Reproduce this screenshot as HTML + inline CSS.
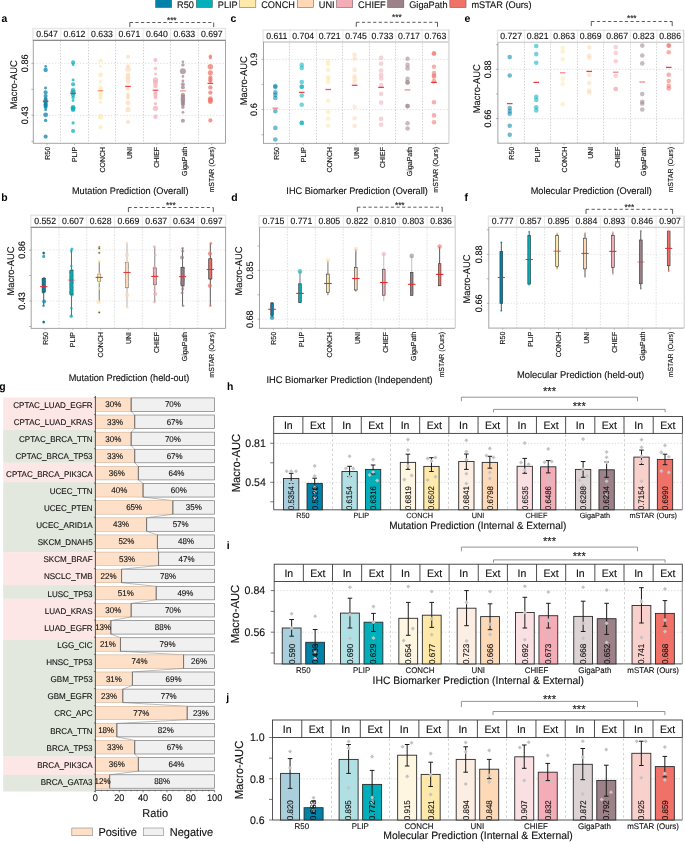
<!DOCTYPE html>
<html><head><meta charset="utf-8"><title>Figure</title>
<style>
html,body{margin:0;padding:0;background:#fff;}
body{width:685px;height:842px;overflow:hidden;}
svg{display:block;font-family:"Liberation Sans", sans-serif;will-change:transform;text-rendering:geometricPrecision;}
</style></head>
<body><svg width="685" height="842" viewBox="0 0 685 842">
<rect x="0" y="0" width="685" height="842" fill="#fff"/>
<rect x="155.55" y="-3" width="16.2" height="10.6" fill="#0081A7" stroke="#555" stroke-width="0.5"/>
<text transform="translate(177.1 8.1) scale(0.9615 1)" font-size="9.57" text-anchor="start" fill="#111" stroke="#111" stroke-width="0.12">R50</text>
<rect x="196.25" y="-3" width="16.2" height="10.6" fill="#00AFB9" stroke="#555" stroke-width="0.5"/>
<text transform="translate(217.8 8.1) scale(0.9615 1)" font-size="9.57" text-anchor="start" fill="#111" stroke="#111" stroke-width="0.12">PLIP</text>
<rect x="239.65" y="-3" width="16.2" height="10.6" fill="#FEE9AA" stroke="#555" stroke-width="0.5"/>
<text transform="translate(261.2 8.1) scale(0.9615 1)" font-size="9.57" text-anchor="start" fill="#111" stroke="#111" stroke-width="0.12">CONCH</text>
<rect x="297.25" y="-3" width="16.2" height="10.6" fill="#FED9B7" stroke="#555" stroke-width="0.5"/>
<text transform="translate(318.8 8.1) scale(0.9615 1)" font-size="9.57" text-anchor="start" fill="#111" stroke="#111" stroke-width="0.12">UNI</text>
<rect x="336.55" y="-3" width="16.2" height="10.6" fill="#F4ACB7" stroke="#555" stroke-width="0.5"/>
<text transform="translate(358.1 8.1) scale(0.9615 1)" font-size="9.57" text-anchor="start" fill="#111" stroke="#111" stroke-width="0.12">CHIEF</text>
<rect x="387.65" y="-3" width="16.2" height="10.6" fill="#9D8189" stroke="#555" stroke-width="0.5"/>
<text transform="translate(409.2 8.1) scale(0.9615 1)" font-size="9.57" text-anchor="start" fill="#111" stroke="#111" stroke-width="0.12">GigaPath</text>
<rect x="449.85" y="-3" width="16.2" height="10.6" fill="#F07167" stroke="#555" stroke-width="0.5"/>
<text transform="translate(471.4 8.1) scale(0.9615 1)" font-size="9.57" text-anchor="start" fill="#111" stroke="#111" stroke-width="0.12">mSTAR (Ours)</text>
<text transform="translate(1.4 21.9) scale(0.9615 1)" font-size="10.82" text-anchor="start" fill="#000" font-weight="bold">a</text>
<text transform="translate(230.4 21.9) scale(0.9615 1)" font-size="10.82" text-anchor="start" fill="#000" font-weight="bold">c</text>
<text transform="translate(464.5 21.9) scale(0.9615 1)" font-size="10.82" text-anchor="start" fill="#000" font-weight="bold">e</text>
<text transform="translate(1.2 201.4) scale(0.9615 1)" font-size="10.82" text-anchor="start" fill="#000" font-weight="bold">b</text>
<text transform="translate(231.2 201.4) scale(0.9615 1)" font-size="10.82" text-anchor="start" fill="#000" font-weight="bold">d</text>
<text transform="translate(464.6 201.4) scale(0.9615 1)" font-size="10.82" text-anchor="start" fill="#000" font-weight="bold">f</text>
<text transform="translate(-0.8 389.5) scale(0.9615 1)" font-size="10.82" text-anchor="start" fill="#000" font-weight="bold">g</text>
<text transform="translate(226.9 389.6) scale(0.9615 1)" font-size="10.82" text-anchor="start" fill="#000" font-weight="bold">h</text>
<text transform="translate(226.7 548.9) scale(0.9615 1)" font-size="10.82" text-anchor="start" fill="#000" font-weight="bold">i</text>
<text transform="translate(226.3 700.8) scale(0.9615 1)" font-size="10.82" text-anchor="start" fill="#000" font-weight="bold">j</text>
<rect x="32.9" y="28.5" width="192.6" height="11.8" fill="#fff" stroke="#e6e6e6" stroke-width="1.4"/>
<line x1="60.76" y1="27.8" x2="60.76" y2="40.3" stroke="#e0e0e0" stroke-width="0.7"/>
<line x1="88.21" y1="27.8" x2="88.21" y2="40.3" stroke="#e0e0e0" stroke-width="0.7"/>
<line x1="115.67" y1="27.8" x2="115.67" y2="40.3" stroke="#e0e0e0" stroke-width="0.7"/>
<line x1="143.13" y1="27.8" x2="143.13" y2="40.3" stroke="#e0e0e0" stroke-width="0.7"/>
<line x1="170.59" y1="27.8" x2="170.59" y2="40.3" stroke="#e0e0e0" stroke-width="0.7"/>
<line x1="198.04" y1="27.8" x2="198.04" y2="40.3" stroke="#e0e0e0" stroke-width="0.7"/>
<text transform="translate(47.03 37) scale(0.9615 1)" font-size="9.05" text-anchor="middle" fill="#111" stroke="#111" stroke-width="0.12">0.547</text>
<text transform="translate(74.49 37) scale(0.9615 1)" font-size="9.05" text-anchor="middle" fill="#111" stroke="#111" stroke-width="0.12">0.612</text>
<text transform="translate(101.94 37) scale(0.9615 1)" font-size="9.05" text-anchor="middle" fill="#111" stroke="#111" stroke-width="0.12">0.633</text>
<text transform="translate(129.4 37) scale(0.9615 1)" font-size="9.05" text-anchor="middle" fill="#111" stroke="#111" stroke-width="0.12">0.671</text>
<text transform="translate(156.86 37) scale(0.9615 1)" font-size="9.05" text-anchor="middle" fill="#111" stroke="#111" stroke-width="0.12">0.640</text>
<text transform="translate(184.31 37) scale(0.9615 1)" font-size="9.05" text-anchor="middle" fill="#111" stroke="#111" stroke-width="0.12">0.633</text>
<text transform="translate(211.77 37) scale(0.9615 1)" font-size="9.05" text-anchor="middle" fill="#111" stroke="#111" stroke-width="0.12">0.697</text>
<line x1="60.5" y1="41.3" x2="60.5" y2="143.3" stroke="#c6c6c6" stroke-width="0.8" stroke-dasharray="1.4,1.5"/>
<line x1="88.5" y1="41.3" x2="88.5" y2="143.3" stroke="#c6c6c6" stroke-width="0.8" stroke-dasharray="1.4,1.5"/>
<line x1="115.5" y1="41.3" x2="115.5" y2="143.3" stroke="#c6c6c6" stroke-width="0.8" stroke-dasharray="1.4,1.5"/>
<line x1="143.5" y1="41.3" x2="143.5" y2="143.3" stroke="#c6c6c6" stroke-width="0.8" stroke-dasharray="1.4,1.5"/>
<line x1="170.5" y1="41.3" x2="170.5" y2="143.3" stroke="#c6c6c6" stroke-width="0.8" stroke-dasharray="1.4,1.5"/>
<line x1="198.5" y1="41.3" x2="198.5" y2="143.3" stroke="#c6c6c6" stroke-width="0.8" stroke-dasharray="1.4,1.5"/>
<line x1="33.3" y1="63.3" x2="225.5" y2="63.3" stroke="#d8d8d8" stroke-width="0.8" stroke-dasharray="1.4,1.7"/>
<line x1="33.3" y1="115.3" x2="225.5" y2="115.3" stroke="#d8d8d8" stroke-width="0.8" stroke-dasharray="1.4,1.7"/>
<line x1="225.5" y1="40.3" x2="225.5" y2="143.3" stroke="#9a9a9a" stroke-width="0.9"/>
<line x1="32.9" y1="40.3" x2="225.5" y2="40.3" stroke="#6e6e6e" stroke-width="0.95"/>
<line x1="33.3" y1="40.3" x2="33.3" y2="143.75" stroke="#9a9a9a" stroke-width="0.9"/>
<line x1="33.3" y1="143.3" x2="225.5" y2="143.3" stroke="#9a9a9a" stroke-width="0.9"/>
<line x1="31.3" y1="63.3" x2="33.3" y2="63.3" stroke="#888" stroke-width="0.6"/>
<line x1="31.3" y1="89.3" x2="33.3" y2="89.3" stroke="#888" stroke-width="0.6"/>
<line x1="31.3" y1="115.3" x2="33.3" y2="115.3" stroke="#888" stroke-width="0.6"/>
<line x1="31.3" y1="141.3" x2="33.3" y2="141.3" stroke="#888" stroke-width="0.6"/>
<text transform="translate(25.2 63.3) rotate(-90) scale(0.9615 1)" font-size="9.46" text-anchor="middle" fill="#111" stroke="#111" stroke-width="0.12" dominant-baseline="central">0.86</text>
<text transform="translate(25.2 115.3) rotate(-90) scale(0.9615 1)" font-size="9.46" text-anchor="middle" fill="#111" stroke="#111" stroke-width="0.12" dominant-baseline="central">0.43</text>
<text transform="translate(14.6 84.8) rotate(-90) scale(0.9615 1)" font-size="9.78" text-anchor="middle" fill="#111" stroke="#111" stroke-width="0.12" dominant-baseline="central">Macro-AUC</text>
<line x1="47.03" y1="143.3" x2="47.03" y2="145.1" stroke="#999" stroke-width="0.6"/>
<text transform="translate(49.63 146.9) rotate(-90) scale(0.9615 1)" font-size="7.28" text-anchor="end" fill="#111" stroke="#111" stroke-width="0.12">R50</text>
<line x1="74.49" y1="143.3" x2="74.49" y2="145.1" stroke="#999" stroke-width="0.6"/>
<text transform="translate(77.09 146.9) rotate(-90) scale(0.9615 1)" font-size="7.28" text-anchor="end" fill="#111" stroke="#111" stroke-width="0.12">PLIP</text>
<line x1="101.94" y1="143.3" x2="101.94" y2="145.1" stroke="#999" stroke-width="0.6"/>
<text transform="translate(104.54 146.9) rotate(-90) scale(0.9615 1)" font-size="7.28" text-anchor="end" fill="#111" stroke="#111" stroke-width="0.12">CONCH</text>
<line x1="129.4" y1="143.3" x2="129.4" y2="145.1" stroke="#999" stroke-width="0.6"/>
<text transform="translate(132 146.9) rotate(-90) scale(0.9615 1)" font-size="7.28" text-anchor="end" fill="#111" stroke="#111" stroke-width="0.12">UNI</text>
<line x1="156.86" y1="143.3" x2="156.86" y2="145.1" stroke="#999" stroke-width="0.6"/>
<text transform="translate(159.46 146.9) rotate(-90) scale(0.9615 1)" font-size="7.28" text-anchor="end" fill="#111" stroke="#111" stroke-width="0.12">CHIEF</text>
<line x1="184.31" y1="143.3" x2="184.31" y2="145.1" stroke="#999" stroke-width="0.6"/>
<text transform="translate(186.91 146.9) rotate(-90) scale(0.9615 1)" font-size="7.28" text-anchor="end" fill="#111" stroke="#111" stroke-width="0.12">GigaPath</text>
<line x1="211.77" y1="143.3" x2="211.77" y2="145.1" stroke="#999" stroke-width="0.6"/>
<text transform="translate(214.37 146.9) rotate(-90) scale(0.9615 1)" font-size="7.28" text-anchor="end" fill="#111" stroke="#111" stroke-width="0.12">mSTAR (Ours)</text>
<text transform="translate(130.2 194) scale(0.9615 1)" font-size="9.57" text-anchor="middle" fill="#111" stroke="#111" stroke-width="0.12">Mutation Prediction (Overall)</text>
<line x1="129.8" y1="22.5" x2="213.7" y2="22.5" stroke="#333" stroke-width="0.8" stroke-dasharray="3.2,2.4"/>
<line x1="129.8" y1="22.5" x2="129.8" y2="27.1" stroke="#333" stroke-width="0.8"/>
<line x1="213.7" y1="22.5" x2="213.7" y2="27.1" stroke="#333" stroke-width="0.8"/>
<text transform="translate(171.75 23.2) scale(0.9615 1)" font-size="8.53" text-anchor="middle" fill="#111" stroke="#111" stroke-width="0.12">***</text>
<circle cx="45.63" cy="66.4" r="1.38" fill="#0081A7" fill-opacity="0.72"/>
<circle cx="45.63" cy="69.9" r="2.18" fill="#0081A7" fill-opacity="0.72"/>
<circle cx="45.63" cy="88" r="1.49" fill="#0081A7" fill-opacity="0.72"/>
<circle cx="45.63" cy="92.4" r="2.07" fill="#0081A7" fill-opacity="0.72"/>
<circle cx="45.63" cy="96.1" r="2.07" fill="#0081A7" fill-opacity="0.72"/>
<circle cx="45.63" cy="98.6" r="1.72" fill="#0081A7" fill-opacity="0.72"/>
<circle cx="45.63" cy="100.5" r="2.3" fill="#0081A7" fill-opacity="0.72"/>
<circle cx="45.63" cy="102.5" r="2.18" fill="#0081A7" fill-opacity="0.72"/>
<circle cx="45.63" cy="104.2" r="1.95" fill="#0081A7" fill-opacity="0.72"/>
<circle cx="45.63" cy="105.8" r="2.18" fill="#0081A7" fill-opacity="0.72"/>
<circle cx="45.63" cy="107.3" r="1.72" fill="#0081A7" fill-opacity="0.72"/>
<circle cx="45.63" cy="109.8" r="1.49" fill="#0081A7" fill-opacity="0.72"/>
<circle cx="45.63" cy="114.8" r="2.42" fill="#0081A7" fill-opacity="0.72"/>
<circle cx="45.63" cy="120.4" r="1.72" fill="#0081A7" fill-opacity="0.72"/>
<circle cx="45.63" cy="136.6" r="2.07" fill="#0081A7" fill-opacity="0.72"/>
<circle cx="73.09" cy="62.4" r="2.07" fill="#00AFB9" fill-opacity="0.72"/>
<circle cx="73.09" cy="64.7" r="1.38" fill="#00AFB9" fill-opacity="0.72"/>
<circle cx="73.09" cy="80.1" r="1.49" fill="#00AFB9" fill-opacity="0.72"/>
<circle cx="73.09" cy="84.3" r="2.07" fill="#00AFB9" fill-opacity="0.72"/>
<circle cx="73.09" cy="90.5" r="2.42" fill="#00AFB9" fill-opacity="0.72"/>
<circle cx="73.09" cy="92.5" r="2.53" fill="#00AFB9" fill-opacity="0.72"/>
<circle cx="73.09" cy="94.9" r="2.07" fill="#00AFB9" fill-opacity="0.72"/>
<circle cx="73.09" cy="97.4" r="1.72" fill="#00AFB9" fill-opacity="0.72"/>
<circle cx="73.09" cy="100.5" r="1.38" fill="#00AFB9" fill-opacity="0.72"/>
<circle cx="73.09" cy="107.3" r="2.3" fill="#00AFB9" fill-opacity="0.72"/>
<circle cx="73.09" cy="108.5" r="2.42" fill="#00AFB9" fill-opacity="0.72"/>
<circle cx="73.09" cy="109.8" r="2.18" fill="#00AFB9" fill-opacity="0.72"/>
<circle cx="73.09" cy="122.9" r="1.61" fill="#00AFB9" fill-opacity="0.72"/>
<circle cx="73.09" cy="131" r="2.07" fill="#00AFB9" fill-opacity="0.72"/>
<circle cx="100.54" cy="60.6" r="1.95" fill="#FEE9AA" fill-opacity="0.72"/>
<circle cx="100.54" cy="66.2" r="1.38" fill="#FEE9AA" fill-opacity="0.72"/>
<circle cx="100.54" cy="74.9" r="2.42" fill="#FEE9AA" fill-opacity="0.72"/>
<circle cx="100.54" cy="81.8" r="1.49" fill="#FEE9AA" fill-opacity="0.72"/>
<circle cx="100.54" cy="88" r="2.3" fill="#FEE9AA" fill-opacity="0.72"/>
<circle cx="100.54" cy="90.5" r="2.07" fill="#FEE9AA" fill-opacity="0.72"/>
<circle cx="100.54" cy="93.6" r="2.18" fill="#FEE9AA" fill-opacity="0.72"/>
<circle cx="100.54" cy="96" r="2.07" fill="#FEE9AA" fill-opacity="0.72"/>
<circle cx="100.54" cy="98.5" r="1.84" fill="#FEE9AA" fill-opacity="0.72"/>
<circle cx="100.54" cy="102.3" r="1.61" fill="#FEE9AA" fill-opacity="0.72"/>
<circle cx="100.54" cy="116.7" r="2.64" fill="#FEE9AA" fill-opacity="0.72"/>
<circle cx="100.54" cy="127" r="1.95" fill="#FEE9AA" fill-opacity="0.72"/>
<circle cx="128" cy="56.8" r="1.95" fill="#FED9B7" fill-opacity="0.72"/>
<circle cx="128" cy="66.2" r="2.07" fill="#FED9B7" fill-opacity="0.72"/>
<circle cx="128" cy="69.2" r="2.76" fill="#FED9B7" fill-opacity="0.72"/>
<circle cx="128" cy="74.9" r="2.3" fill="#FED9B7" fill-opacity="0.72"/>
<circle cx="128" cy="77.4" r="2.42" fill="#FED9B7" fill-opacity="0.72"/>
<circle cx="128" cy="79.9" r="2.3" fill="#FED9B7" fill-opacity="0.72"/>
<circle cx="128" cy="83" r="1.72" fill="#FED9B7" fill-opacity="0.72"/>
<circle cx="128" cy="88.6" r="2.07" fill="#FED9B7" fill-opacity="0.72"/>
<circle cx="128" cy="94.2" r="1.84" fill="#FED9B7" fill-opacity="0.72"/>
<circle cx="128" cy="96.5" r="1.95" fill="#FED9B7" fill-opacity="0.72"/>
<circle cx="128" cy="98" r="1.72" fill="#FED9B7" fill-opacity="0.72"/>
<circle cx="128" cy="103" r="2.42" fill="#FED9B7" fill-opacity="0.72"/>
<circle cx="128" cy="109.6" r="2.64" fill="#FED9B7" fill-opacity="0.72"/>
<circle cx="128" cy="121.9" r="2.07" fill="#FED9B7" fill-opacity="0.72"/>
<circle cx="155.46" cy="60" r="2.07" fill="#F4ACB7" fill-opacity="0.72"/>
<circle cx="155.46" cy="68.4" r="1.72" fill="#F4ACB7" fill-opacity="0.72"/>
<circle cx="155.46" cy="73.9" r="1.38" fill="#F4ACB7" fill-opacity="0.72"/>
<circle cx="155.46" cy="79.9" r="2.64" fill="#F4ACB7" fill-opacity="0.72"/>
<circle cx="155.46" cy="82.5" r="2.53" fill="#F4ACB7" fill-opacity="0.72"/>
<circle cx="155.46" cy="86.1" r="2.42" fill="#F4ACB7" fill-opacity="0.72"/>
<circle cx="155.46" cy="92.4" r="2.07" fill="#F4ACB7" fill-opacity="0.72"/>
<circle cx="155.46" cy="94.8" r="2.18" fill="#F4ACB7" fill-opacity="0.72"/>
<circle cx="155.46" cy="97.4" r="1.95" fill="#F4ACB7" fill-opacity="0.72"/>
<circle cx="155.46" cy="103.6" r="1.61" fill="#F4ACB7" fill-opacity="0.72"/>
<circle cx="155.46" cy="108.3" r="2.64" fill="#F4ACB7" fill-opacity="0.72"/>
<circle cx="155.46" cy="116.7" r="2.18" fill="#F4ACB7" fill-opacity="0.72"/>
<circle cx="182.91" cy="61.8" r="1.38" fill="#9D8189" fill-opacity="0.72"/>
<circle cx="182.91" cy="64.9" r="1.72" fill="#9D8189" fill-opacity="0.72"/>
<circle cx="182.91" cy="71.2" r="2.99" fill="#9D8189" fill-opacity="0.72"/>
<circle cx="182.91" cy="76.4" r="1.38" fill="#9D8189" fill-opacity="0.72"/>
<circle cx="182.91" cy="80.9" r="1.38" fill="#9D8189" fill-opacity="0.72"/>
<circle cx="182.91" cy="84.3" r="1.95" fill="#9D8189" fill-opacity="0.72"/>
<circle cx="182.91" cy="87.4" r="1.95" fill="#9D8189" fill-opacity="0.72"/>
<circle cx="182.91" cy="94.9" r="2.18" fill="#9D8189" fill-opacity="0.72"/>
<circle cx="182.91" cy="97" r="2.3" fill="#9D8189" fill-opacity="0.72"/>
<circle cx="182.91" cy="99.5" r="2.42" fill="#9D8189" fill-opacity="0.72"/>
<circle cx="182.91" cy="101.5" r="2.18" fill="#9D8189" fill-opacity="0.72"/>
<circle cx="182.91" cy="103.5" r="2.07" fill="#9D8189" fill-opacity="0.72"/>
<circle cx="182.91" cy="104.8" r="1.84" fill="#9D8189" fill-opacity="0.72"/>
<circle cx="182.91" cy="107.3" r="1.61" fill="#9D8189" fill-opacity="0.72"/>
<circle cx="182.91" cy="112.3" r="1.38" fill="#9D8189" fill-opacity="0.72"/>
<circle cx="182.91" cy="120.8" r="2.07" fill="#9D8189" fill-opacity="0.72"/>
<circle cx="210.37" cy="56.2" r="1.72" fill="#F07167" fill-opacity="0.72"/>
<circle cx="210.37" cy="58.1" r="1.49" fill="#F07167" fill-opacity="0.72"/>
<circle cx="210.37" cy="66.8" r="2.76" fill="#F07167" fill-opacity="0.72"/>
<circle cx="210.37" cy="72.7" r="2.53" fill="#F07167" fill-opacity="0.72"/>
<circle cx="210.37" cy="77.4" r="2.07" fill="#F07167" fill-opacity="0.72"/>
<circle cx="210.37" cy="79.5" r="2.18" fill="#F07167" fill-opacity="0.72"/>
<circle cx="210.37" cy="81.1" r="1.95" fill="#F07167" fill-opacity="0.72"/>
<circle cx="210.37" cy="87.4" r="2.18" fill="#F07167" fill-opacity="0.72"/>
<circle cx="210.37" cy="92.6" r="2.18" fill="#F07167" fill-opacity="0.72"/>
<circle cx="210.37" cy="98.6" r="2.42" fill="#F07167" fill-opacity="0.72"/>
<circle cx="210.37" cy="100.3" r="2.53" fill="#F07167" fill-opacity="0.72"/>
<circle cx="210.37" cy="101.7" r="2.3" fill="#F07167" fill-opacity="0.72"/>
<circle cx="210.37" cy="120.4" r="2.07" fill="#F07167" fill-opacity="0.72"/>
<line x1="42.83" y1="101.3" x2="48.43" y2="101.3" stroke="#E8282B" stroke-width="1.3" stroke-opacity="0.85"/>
<line x1="70.29" y1="93.4" x2="75.89" y2="93.4" stroke="#E8282B" stroke-width="1.3" stroke-opacity="0.85"/>
<line x1="97.74" y1="90.7" x2="103.34" y2="90.7" stroke="#E8282B" stroke-width="1.3" stroke-opacity="0.45"/>
<line x1="125.2" y1="86.4" x2="130.8" y2="86.4" stroke="#E8282B" stroke-width="1.3" stroke-opacity="0.85"/>
<line x1="152.66" y1="90.2" x2="158.26" y2="90.2" stroke="#E8282B" stroke-width="1.3" stroke-opacity="0.8"/>
<line x1="180.11" y1="90.9" x2="185.71" y2="90.9" stroke="#E8282B" stroke-width="1.3" stroke-opacity="0.5"/>
<line x1="207.57" y1="83.4" x2="213.17" y2="83.4" stroke="#E8282B" stroke-width="1.3" stroke-opacity="0.85"/>
<rect x="263.1" y="30" width="185.5" height="12" fill="#fff" stroke="#e6e6e6" stroke-width="1.4"/>
<line x1="289.94" y1="29.3" x2="289.94" y2="42" stroke="#e0e0e0" stroke-width="0.7"/>
<line x1="316.39" y1="29.3" x2="316.39" y2="42" stroke="#e0e0e0" stroke-width="0.7"/>
<line x1="342.83" y1="29.3" x2="342.83" y2="42" stroke="#e0e0e0" stroke-width="0.7"/>
<line x1="369.27" y1="29.3" x2="369.27" y2="42" stroke="#e0e0e0" stroke-width="0.7"/>
<line x1="395.71" y1="29.3" x2="395.71" y2="42" stroke="#e0e0e0" stroke-width="0.7"/>
<line x1="422.16" y1="29.3" x2="422.16" y2="42" stroke="#e0e0e0" stroke-width="0.7"/>
<text transform="translate(276.72 38.7) scale(0.9615 1)" font-size="9.05" text-anchor="middle" fill="#111" stroke="#111" stroke-width="0.12">0.611</text>
<text transform="translate(303.16 38.7) scale(0.9615 1)" font-size="9.05" text-anchor="middle" fill="#111" stroke="#111" stroke-width="0.12">0.704</text>
<text transform="translate(329.61 38.7) scale(0.9615 1)" font-size="9.05" text-anchor="middle" fill="#111" stroke="#111" stroke-width="0.12">0.721</text>
<text transform="translate(356.05 38.7) scale(0.9615 1)" font-size="9.05" text-anchor="middle" fill="#111" stroke="#111" stroke-width="0.12">0.745</text>
<text transform="translate(382.49 38.7) scale(0.9615 1)" font-size="9.05" text-anchor="middle" fill="#111" stroke="#111" stroke-width="0.12">0.733</text>
<text transform="translate(408.94 38.7) scale(0.9615 1)" font-size="9.05" text-anchor="middle" fill="#111" stroke="#111" stroke-width="0.12">0.717</text>
<text transform="translate(435.38 38.7) scale(0.9615 1)" font-size="9.05" text-anchor="middle" fill="#111" stroke="#111" stroke-width="0.12">0.763</text>
<line x1="289.5" y1="43" x2="289.5" y2="143.4" stroke="#c6c6c6" stroke-width="0.8" stroke-dasharray="1.4,1.5"/>
<line x1="316.5" y1="43" x2="316.5" y2="143.4" stroke="#c6c6c6" stroke-width="0.8" stroke-dasharray="1.4,1.5"/>
<line x1="342.5" y1="43" x2="342.5" y2="143.4" stroke="#c6c6c6" stroke-width="0.8" stroke-dasharray="1.4,1.5"/>
<line x1="369.5" y1="43" x2="369.5" y2="143.4" stroke="#c6c6c6" stroke-width="0.8" stroke-dasharray="1.4,1.5"/>
<line x1="395.5" y1="43" x2="395.5" y2="143.4" stroke="#c6c6c6" stroke-width="0.8" stroke-dasharray="1.4,1.5"/>
<line x1="422.5" y1="43" x2="422.5" y2="143.4" stroke="#c6c6c6" stroke-width="0.8" stroke-dasharray="1.4,1.5"/>
<line x1="263.5" y1="59.3" x2="448.6" y2="59.3" stroke="#d8d8d8" stroke-width="0.8" stroke-dasharray="1.4,1.7"/>
<line x1="263.5" y1="109.6" x2="448.6" y2="109.6" stroke="#d8d8d8" stroke-width="0.8" stroke-dasharray="1.4,1.7"/>
<line x1="448.9" y1="29.8" x2="448.9" y2="143.4" stroke="#d9d9d9" stroke-width="1.4"/>
<line x1="263.1" y1="42" x2="448.6" y2="42" stroke="#d2d2d2" stroke-width="1.3"/>
<line x1="263.5" y1="42" x2="263.5" y2="143.85" stroke="#9a9a9a" stroke-width="0.9"/>
<line x1="263.5" y1="143.4" x2="448.6" y2="143.4" stroke="#9a9a9a" stroke-width="0.9"/>
<line x1="261.5" y1="59.3" x2="263.5" y2="59.3" stroke="#888" stroke-width="0.6"/>
<line x1="261.5" y1="84.45" x2="263.5" y2="84.45" stroke="#888" stroke-width="0.6"/>
<line x1="261.5" y1="109.6" x2="263.5" y2="109.6" stroke="#888" stroke-width="0.6"/>
<line x1="261.5" y1="134.75" x2="263.5" y2="134.75" stroke="#888" stroke-width="0.6"/>
<text transform="translate(254.3 59.3) rotate(-90) scale(0.9615 1)" font-size="9.46" text-anchor="middle" fill="#111" stroke="#111" stroke-width="0.12" dominant-baseline="central">0.9</text>
<text transform="translate(254.3 109.6) rotate(-90) scale(0.9615 1)" font-size="9.46" text-anchor="middle" fill="#111" stroke="#111" stroke-width="0.12" dominant-baseline="central">0.6</text>
<text transform="translate(244.8 80.8) rotate(-90) scale(0.9615 1)" font-size="9.78" text-anchor="middle" fill="#111" stroke="#111" stroke-width="0.12" dominant-baseline="central">Macro-AUC</text>
<line x1="276.72" y1="143.4" x2="276.72" y2="145.2" stroke="#999" stroke-width="0.6"/>
<text transform="translate(279.32 147) rotate(-90) scale(0.9615 1)" font-size="7.28" text-anchor="end" fill="#111" stroke="#111" stroke-width="0.12">R50</text>
<line x1="303.16" y1="143.4" x2="303.16" y2="145.2" stroke="#999" stroke-width="0.6"/>
<text transform="translate(305.76 147) rotate(-90) scale(0.9615 1)" font-size="7.28" text-anchor="end" fill="#111" stroke="#111" stroke-width="0.12">PLIP</text>
<line x1="329.61" y1="143.4" x2="329.61" y2="145.2" stroke="#999" stroke-width="0.6"/>
<text transform="translate(332.21 147) rotate(-90) scale(0.9615 1)" font-size="7.28" text-anchor="end" fill="#111" stroke="#111" stroke-width="0.12">CONCH</text>
<line x1="356.05" y1="143.4" x2="356.05" y2="145.2" stroke="#999" stroke-width="0.6"/>
<text transform="translate(358.65 147) rotate(-90) scale(0.9615 1)" font-size="7.28" text-anchor="end" fill="#111" stroke="#111" stroke-width="0.12">UNI</text>
<line x1="382.49" y1="143.4" x2="382.49" y2="145.2" stroke="#999" stroke-width="0.6"/>
<text transform="translate(385.09 147) rotate(-90) scale(0.9615 1)" font-size="7.28" text-anchor="end" fill="#111" stroke="#111" stroke-width="0.12">CHIEF</text>
<line x1="408.94" y1="143.4" x2="408.94" y2="145.2" stroke="#999" stroke-width="0.6"/>
<text transform="translate(411.54 147) rotate(-90) scale(0.9615 1)" font-size="7.28" text-anchor="end" fill="#111" stroke="#111" stroke-width="0.12">GigaPath</text>
<line x1="435.38" y1="143.4" x2="435.38" y2="145.2" stroke="#999" stroke-width="0.6"/>
<text transform="translate(437.98 147) rotate(-90) scale(0.9615 1)" font-size="7.28" text-anchor="end" fill="#111" stroke="#111" stroke-width="0.12">mSTAR (Ours)</text>
<text transform="translate(357.1 194) scale(0.9615 1)" font-size="9.57" text-anchor="middle" fill="#111" stroke="#111" stroke-width="0.12">IHC Biomarker Prediction (Overall)</text>
<line x1="356.3" y1="22.3" x2="437.5" y2="22.3" stroke="#333" stroke-width="0.8" stroke-dasharray="3.2,2.4"/>
<line x1="356.3" y1="22.3" x2="356.3" y2="26.9" stroke="#333" stroke-width="0.8"/>
<line x1="437.5" y1="22.3" x2="437.5" y2="26.9" stroke="#333" stroke-width="0.8"/>
<text transform="translate(396.9 20.3) scale(0.9615 1)" font-size="8.53" text-anchor="middle" fill="#111" stroke="#111" stroke-width="0.12">***</text>
<circle cx="275.32" cy="86.1" r="2.3" fill="#0081A7" fill-opacity="0.55"/>
<circle cx="275.32" cy="87.1" r="2.3" fill="#0081A7" fill-opacity="0.55"/>
<circle cx="275.32" cy="92.4" r="2.3" fill="#0081A7" fill-opacity="0.55"/>
<circle cx="275.32" cy="94.9" r="2.3" fill="#0081A7" fill-opacity="0.55"/>
<circle cx="275.32" cy="98" r="2.3" fill="#0081A7" fill-opacity="0.55"/>
<circle cx="275.32" cy="111.3" r="2.3" fill="#0081A7" fill-opacity="0.55"/>
<circle cx="275.32" cy="127.9" r="2.3" fill="#0081A7" fill-opacity="0.55"/>
<circle cx="275.32" cy="139.5" r="2.3" fill="#0081A7" fill-opacity="0.55"/>
<circle cx="301.76" cy="64.9" r="2.3" fill="#00AFB9" fill-opacity="0.55"/>
<circle cx="301.76" cy="68.1" r="2.3" fill="#00AFB9" fill-opacity="0.55"/>
<circle cx="301.76" cy="82.1" r="2.3" fill="#00AFB9" fill-opacity="0.55"/>
<circle cx="301.76" cy="86.8" r="2.3" fill="#00AFB9" fill-opacity="0.55"/>
<circle cx="301.76" cy="86.8" r="2.3" fill="#00AFB9" fill-opacity="0.55"/>
<circle cx="301.76" cy="95.5" r="2.3" fill="#00AFB9" fill-opacity="0.55"/>
<circle cx="301.76" cy="104.8" r="2.3" fill="#00AFB9" fill-opacity="0.55"/>
<circle cx="301.76" cy="122.9" r="2.3" fill="#00AFB9" fill-opacity="0.55"/>
<circle cx="301.76" cy="122.9" r="2.3" fill="#00AFB9" fill-opacity="0.55"/>
<circle cx="328.21" cy="61.2" r="2.3" fill="#FEE9AA" fill-opacity="0.55"/>
<circle cx="328.21" cy="64.3" r="2.3" fill="#FEE9AA" fill-opacity="0.55"/>
<circle cx="328.21" cy="69.9" r="2.3" fill="#FEE9AA" fill-opacity="0.55"/>
<circle cx="328.21" cy="77.4" r="2.3" fill="#FEE9AA" fill-opacity="0.55"/>
<circle cx="328.21" cy="78.7" r="2.3" fill="#FEE9AA" fill-opacity="0.55"/>
<circle cx="328.21" cy="82.1" r="2.3" fill="#FEE9AA" fill-opacity="0.55"/>
<circle cx="328.21" cy="100.8" r="2.3" fill="#FEE9AA" fill-opacity="0.55"/>
<circle cx="328.21" cy="112.1" r="2.3" fill="#FEE9AA" fill-opacity="0.55"/>
<circle cx="328.21" cy="118.8" r="2.3" fill="#FEE9AA" fill-opacity="0.55"/>
<circle cx="328.21" cy="125.8" r="2.3" fill="#FEE9AA" fill-opacity="0.55"/>
<circle cx="354.65" cy="54.7" r="2.3" fill="#FED9B7" fill-opacity="0.55"/>
<circle cx="354.65" cy="58.7" r="2.3" fill="#FED9B7" fill-opacity="0.55"/>
<circle cx="354.65" cy="69.9" r="2.3" fill="#FED9B7" fill-opacity="0.55"/>
<circle cx="354.65" cy="76.2" r="2.3" fill="#FED9B7" fill-opacity="0.55"/>
<circle cx="354.65" cy="78.7" r="2.3" fill="#FED9B7" fill-opacity="0.55"/>
<circle cx="354.65" cy="81.8" r="2.3" fill="#FED9B7" fill-opacity="0.55"/>
<circle cx="354.65" cy="107.1" r="2.3" fill="#FED9B7" fill-opacity="0.55"/>
<circle cx="354.65" cy="118.3" r="2.3" fill="#FED9B7" fill-opacity="0.55"/>
<circle cx="354.65" cy="126" r="2.3" fill="#FED9B7" fill-opacity="0.55"/>
<circle cx="381.09" cy="57.8" r="2.3" fill="#F4ACB7" fill-opacity="0.55"/>
<circle cx="381.09" cy="63.7" r="2.3" fill="#F4ACB7" fill-opacity="0.55"/>
<circle cx="381.09" cy="70.5" r="2.3" fill="#F4ACB7" fill-opacity="0.55"/>
<circle cx="381.09" cy="74.9" r="2.3" fill="#F4ACB7" fill-opacity="0.55"/>
<circle cx="381.09" cy="78.4" r="2.3" fill="#F4ACB7" fill-opacity="0.55"/>
<circle cx="381.09" cy="85.1" r="2.3" fill="#F4ACB7" fill-opacity="0.55"/>
<circle cx="381.09" cy="94" r="2.3" fill="#F4ACB7" fill-opacity="0.55"/>
<circle cx="381.09" cy="102.6" r="2.3" fill="#F4ACB7" fill-opacity="0.55"/>
<circle cx="381.09" cy="118.9" r="2.3" fill="#F4ACB7" fill-opacity="0.55"/>
<circle cx="381.09" cy="124.8" r="2.3" fill="#F4ACB7" fill-opacity="0.55"/>
<circle cx="407.54" cy="58.7" r="2.3" fill="#9D8189" fill-opacity="0.55"/>
<circle cx="407.54" cy="64.9" r="2.3" fill="#9D8189" fill-opacity="0.55"/>
<circle cx="407.54" cy="68.4" r="2.3" fill="#9D8189" fill-opacity="0.55"/>
<circle cx="407.54" cy="78.7" r="2.3" fill="#9D8189" fill-opacity="0.55"/>
<circle cx="407.54" cy="82.4" r="2.3" fill="#9D8189" fill-opacity="0.55"/>
<circle cx="407.54" cy="82.4" r="2.3" fill="#9D8189" fill-opacity="0.55"/>
<circle cx="407.54" cy="106.1" r="2.3" fill="#9D8189" fill-opacity="0.55"/>
<circle cx="407.54" cy="106.1" r="2.3" fill="#9D8189" fill-opacity="0.55"/>
<circle cx="407.54" cy="123.3" r="2.3" fill="#9D8189" fill-opacity="0.55"/>
<circle cx="407.54" cy="128.5" r="2.3" fill="#9D8189" fill-opacity="0.55"/>
<circle cx="433.98" cy="53.5" r="2.3" fill="#F07167" fill-opacity="0.55"/>
<circle cx="433.98" cy="53.5" r="2.3" fill="#F07167" fill-opacity="0.55"/>
<circle cx="433.98" cy="66.8" r="2.3" fill="#F07167" fill-opacity="0.55"/>
<circle cx="433.98" cy="73" r="2.3" fill="#F07167" fill-opacity="0.55"/>
<circle cx="433.98" cy="75.5" r="2.3" fill="#F07167" fill-opacity="0.55"/>
<circle cx="433.98" cy="76.8" r="2.3" fill="#F07167" fill-opacity="0.55"/>
<circle cx="433.98" cy="81.1" r="2.3" fill="#F07167" fill-opacity="0.55"/>
<circle cx="433.98" cy="102.3" r="2.3" fill="#F07167" fill-opacity="0.55"/>
<circle cx="433.98" cy="115.4" r="2.3" fill="#F07167" fill-opacity="0.55"/>
<circle cx="433.98" cy="122.3" r="2.3" fill="#F07167" fill-opacity="0.55"/>
<line x1="272.52" y1="108.2" x2="278.12" y2="108.2" stroke="#E8282B" stroke-width="1.3" stroke-opacity="0.6"/>
<line x1="298.96" y1="92.4" x2="304.56" y2="92.4" stroke="#E8282B" stroke-width="1.3" stroke-opacity="0.85"/>
<line x1="325.41" y1="89.5" x2="331.01" y2="89.5" stroke="#E8282B" stroke-width="1.3" stroke-opacity="0.75"/>
<line x1="351.85" y1="85.3" x2="357.45" y2="85.3" stroke="#E8282B" stroke-width="1.3" stroke-opacity="0.85"/>
<line x1="378.29" y1="87.4" x2="383.89" y2="87.4" stroke="#E8282B" stroke-width="1.3" stroke-opacity="0.9"/>
<line x1="404.74" y1="89.9" x2="410.34" y2="89.9" stroke="#E8282B" stroke-width="1.3" stroke-opacity="0.55"/>
<line x1="431.18" y1="82.4" x2="436.78" y2="82.4" stroke="#E8282B" stroke-width="1.3" stroke-opacity="0.95"/>
<rect x="497.5" y="30.3" width="185.9" height="12.1" fill="#fff" stroke="#e6e6e6" stroke-width="1.4"/>
<line x1="524.4" y1="29.6" x2="524.4" y2="42.4" stroke="#e0e0e0" stroke-width="0.7"/>
<line x1="550.9" y1="29.6" x2="550.9" y2="42.4" stroke="#e0e0e0" stroke-width="0.7"/>
<line x1="577.4" y1="29.6" x2="577.4" y2="42.4" stroke="#e0e0e0" stroke-width="0.7"/>
<line x1="603.9" y1="29.6" x2="603.9" y2="42.4" stroke="#e0e0e0" stroke-width="0.7"/>
<line x1="630.4" y1="29.6" x2="630.4" y2="42.4" stroke="#e0e0e0" stroke-width="0.7"/>
<line x1="656.9" y1="29.6" x2="656.9" y2="42.4" stroke="#e0e0e0" stroke-width="0.7"/>
<text transform="translate(511.15 39.1) scale(0.9615 1)" font-size="9.05" text-anchor="middle" fill="#111" stroke="#111" stroke-width="0.12">0.727</text>
<text transform="translate(537.65 39.1) scale(0.9615 1)" font-size="9.05" text-anchor="middle" fill="#111" stroke="#111" stroke-width="0.12">0.821</text>
<text transform="translate(564.15 39.1) scale(0.9615 1)" font-size="9.05" text-anchor="middle" fill="#111" stroke="#111" stroke-width="0.12">0.863</text>
<text transform="translate(590.65 39.1) scale(0.9615 1)" font-size="9.05" text-anchor="middle" fill="#111" stroke="#111" stroke-width="0.12">0.869</text>
<text transform="translate(617.15 39.1) scale(0.9615 1)" font-size="9.05" text-anchor="middle" fill="#111" stroke="#111" stroke-width="0.12">0.867</text>
<text transform="translate(643.65 39.1) scale(0.9615 1)" font-size="9.05" text-anchor="middle" fill="#111" stroke="#111" stroke-width="0.12">0.823</text>
<text transform="translate(670.15 39.1) scale(0.9615 1)" font-size="9.05" text-anchor="middle" fill="#111" stroke="#111" stroke-width="0.12">0.886</text>
<line x1="524.5" y1="43.4" x2="524.5" y2="143.2" stroke="#c6c6c6" stroke-width="0.8" stroke-dasharray="1.4,1.5"/>
<line x1="550.5" y1="43.4" x2="550.5" y2="143.2" stroke="#c6c6c6" stroke-width="0.8" stroke-dasharray="1.4,1.5"/>
<line x1="577.5" y1="43.4" x2="577.5" y2="143.2" stroke="#c6c6c6" stroke-width="0.8" stroke-dasharray="1.4,1.5"/>
<line x1="603.5" y1="43.4" x2="603.5" y2="143.2" stroke="#c6c6c6" stroke-width="0.8" stroke-dasharray="1.4,1.5"/>
<line x1="630.5" y1="43.4" x2="630.5" y2="143.2" stroke="#c6c6c6" stroke-width="0.8" stroke-dasharray="1.4,1.5"/>
<line x1="656.5" y1="43.4" x2="656.5" y2="143.2" stroke="#c6c6c6" stroke-width="0.8" stroke-dasharray="1.4,1.5"/>
<line x1="497.9" y1="69.3" x2="683.4" y2="69.3" stroke="#d8d8d8" stroke-width="0.8" stroke-dasharray="1.4,1.7"/>
<line x1="497.9" y1="118.6" x2="683.4" y2="118.6" stroke="#d8d8d8" stroke-width="0.8" stroke-dasharray="1.4,1.7"/>
<line x1="683.7" y1="30.1" x2="683.7" y2="143.2" stroke="#d9d9d9" stroke-width="1.4"/>
<line x1="497.5" y1="42.4" x2="683.4" y2="42.4" stroke="#d2d2d2" stroke-width="1.3"/>
<line x1="497.9" y1="42.4" x2="497.9" y2="143.65" stroke="#9a9a9a" stroke-width="0.9"/>
<line x1="497.9" y1="143.2" x2="683.4" y2="143.2" stroke="#9a9a9a" stroke-width="0.9"/>
<line x1="495.9" y1="44.65" x2="497.9" y2="44.65" stroke="#888" stroke-width="0.6"/>
<line x1="495.9" y1="69.3" x2="497.9" y2="69.3" stroke="#888" stroke-width="0.6"/>
<line x1="495.9" y1="93.95" x2="497.9" y2="93.95" stroke="#888" stroke-width="0.6"/>
<line x1="495.9" y1="118.6" x2="497.9" y2="118.6" stroke="#888" stroke-width="0.6"/>
<text transform="translate(488.8 69.3) rotate(-90) scale(0.9615 1)" font-size="9.46" text-anchor="middle" fill="#111" stroke="#111" stroke-width="0.12" dominant-baseline="central">0.88</text>
<text transform="translate(488.8 118.6) rotate(-90) scale(0.9615 1)" font-size="9.46" text-anchor="middle" fill="#111" stroke="#111" stroke-width="0.12" dominant-baseline="central">0.66</text>
<text transform="translate(477.4 88.7) rotate(-90) scale(0.9615 1)" font-size="9.78" text-anchor="middle" fill="#111" stroke="#111" stroke-width="0.12" dominant-baseline="central">Macro-AUC</text>
<line x1="511.15" y1="143.2" x2="511.15" y2="145" stroke="#999" stroke-width="0.6"/>
<text transform="translate(513.75 146.8) rotate(-90) scale(0.9615 1)" font-size="7.28" text-anchor="end" fill="#111" stroke="#111" stroke-width="0.12">R50</text>
<line x1="537.65" y1="143.2" x2="537.65" y2="145" stroke="#999" stroke-width="0.6"/>
<text transform="translate(540.25 146.8) rotate(-90) scale(0.9615 1)" font-size="7.28" text-anchor="end" fill="#111" stroke="#111" stroke-width="0.12">PLIP</text>
<line x1="564.15" y1="143.2" x2="564.15" y2="145" stroke="#999" stroke-width="0.6"/>
<text transform="translate(566.75 146.8) rotate(-90) scale(0.9615 1)" font-size="7.28" text-anchor="end" fill="#111" stroke="#111" stroke-width="0.12">CONCH</text>
<line x1="590.65" y1="143.2" x2="590.65" y2="145" stroke="#999" stroke-width="0.6"/>
<text transform="translate(593.25 146.8) rotate(-90) scale(0.9615 1)" font-size="7.28" text-anchor="end" fill="#111" stroke="#111" stroke-width="0.12">UNI</text>
<line x1="617.15" y1="143.2" x2="617.15" y2="145" stroke="#999" stroke-width="0.6"/>
<text transform="translate(619.75 146.8) rotate(-90) scale(0.9615 1)" font-size="7.28" text-anchor="end" fill="#111" stroke="#111" stroke-width="0.12">CHIEF</text>
<line x1="643.65" y1="143.2" x2="643.65" y2="145" stroke="#999" stroke-width="0.6"/>
<text transform="translate(646.25 146.8) rotate(-90) scale(0.9615 1)" font-size="7.28" text-anchor="end" fill="#111" stroke="#111" stroke-width="0.12">GigaPath</text>
<line x1="670.15" y1="143.2" x2="670.15" y2="145" stroke="#999" stroke-width="0.6"/>
<text transform="translate(672.75 146.8) rotate(-90) scale(0.9615 1)" font-size="7.28" text-anchor="end" fill="#111" stroke="#111" stroke-width="0.12">mSTAR (Ours)</text>
<text transform="translate(591.2 194) scale(0.9615 1)" font-size="9.57" text-anchor="middle" fill="#111" stroke="#111" stroke-width="0.12">Molecular Prediction (Overall)</text>
<line x1="591.3" y1="21.5" x2="672.2" y2="21.5" stroke="#333" stroke-width="0.8" stroke-dasharray="3.2,2.4"/>
<line x1="591.3" y1="21.5" x2="591.3" y2="26.1" stroke="#333" stroke-width="0.8"/>
<line x1="672.2" y1="21.5" x2="672.2" y2="26.1" stroke="#333" stroke-width="0.8"/>
<text transform="translate(631.75 20.5) scale(0.9615 1)" font-size="8.53" text-anchor="middle" fill="#111" stroke="#111" stroke-width="0.12">***</text>
<circle cx="509.75" cy="57.1" r="2.3" fill="#0081A7" fill-opacity="0.55"/>
<circle cx="509.75" cy="75.5" r="2.3" fill="#0081A7" fill-opacity="0.55"/>
<circle cx="509.75" cy="108" r="2.3" fill="#0081A7" fill-opacity="0.55"/>
<circle cx="509.75" cy="111.1" r="2.3" fill="#0081A7" fill-opacity="0.55"/>
<circle cx="509.75" cy="113.8" r="2.3" fill="#0081A7" fill-opacity="0.55"/>
<circle cx="509.75" cy="125.8" r="2.3" fill="#0081A7" fill-opacity="0.55"/>
<circle cx="509.75" cy="134.8" r="2.3" fill="#0081A7" fill-opacity="0.55"/>
<circle cx="536.25" cy="46" r="2.3" fill="#00AFB9" fill-opacity="0.55"/>
<circle cx="536.25" cy="54.1" r="2.3" fill="#00AFB9" fill-opacity="0.55"/>
<circle cx="536.25" cy="62.8" r="2.3" fill="#00AFB9" fill-opacity="0.55"/>
<circle cx="536.25" cy="96.7" r="2.3" fill="#00AFB9" fill-opacity="0.55"/>
<circle cx="536.25" cy="99.9" r="2.3" fill="#00AFB9" fill-opacity="0.55"/>
<circle cx="536.25" cy="107.3" r="2.3" fill="#00AFB9" fill-opacity="0.55"/>
<circle cx="536.25" cy="110.4" r="2.3" fill="#00AFB9" fill-opacity="0.55"/>
<circle cx="562.75" cy="47.7" r="2.3" fill="#FEE9AA" fill-opacity="0.55"/>
<circle cx="562.75" cy="51.8" r="2.3" fill="#FEE9AA" fill-opacity="0.55"/>
<circle cx="562.75" cy="59.3" r="2.3" fill="#FEE9AA" fill-opacity="0.55"/>
<circle cx="562.75" cy="78.9" r="2.3" fill="#FEE9AA" fill-opacity="0.55"/>
<circle cx="562.75" cy="83.9" r="2.3" fill="#FEE9AA" fill-opacity="0.55"/>
<circle cx="562.75" cy="104.2" r="2.3" fill="#FEE9AA" fill-opacity="0.55"/>
<circle cx="589.25" cy="47.2" r="2.3" fill="#FED9B7" fill-opacity="0.55"/>
<circle cx="589.25" cy="55.6" r="2.3" fill="#FED9B7" fill-opacity="0.55"/>
<circle cx="589.25" cy="57.7" r="2.3" fill="#FED9B7" fill-opacity="0.55"/>
<circle cx="589.25" cy="74.9" r="2.3" fill="#FED9B7" fill-opacity="0.55"/>
<circle cx="589.25" cy="83" r="2.3" fill="#FED9B7" fill-opacity="0.55"/>
<circle cx="589.25" cy="90.5" r="2.3" fill="#FED9B7" fill-opacity="0.55"/>
<circle cx="589.25" cy="92.6" r="2.3" fill="#FED9B7" fill-opacity="0.55"/>
<circle cx="615.75" cy="47.1" r="2.3" fill="#F4ACB7" fill-opacity="0.55"/>
<circle cx="615.75" cy="53" r="2.3" fill="#F4ACB7" fill-opacity="0.55"/>
<circle cx="615.75" cy="61.2" r="2.3" fill="#F4ACB7" fill-opacity="0.55"/>
<circle cx="615.75" cy="75.8" r="2.3" fill="#F4ACB7" fill-opacity="0.55"/>
<circle cx="615.75" cy="89" r="2.3" fill="#F4ACB7" fill-opacity="0.55"/>
<circle cx="615.75" cy="89" r="2.3" fill="#F4ACB7" fill-opacity="0.55"/>
<circle cx="642.25" cy="45.6" r="2.3" fill="#9D8189" fill-opacity="0.55"/>
<circle cx="642.25" cy="55.5" r="2.3" fill="#9D8189" fill-opacity="0.55"/>
<circle cx="642.25" cy="63.4" r="2.3" fill="#9D8189" fill-opacity="0.55"/>
<circle cx="642.25" cy="94" r="2.3" fill="#9D8189" fill-opacity="0.55"/>
<circle cx="642.25" cy="101.7" r="2.3" fill="#9D8189" fill-opacity="0.55"/>
<circle cx="642.25" cy="103.8" r="2.3" fill="#9D8189" fill-opacity="0.55"/>
<circle cx="642.25" cy="109.5" r="2.3" fill="#9D8189" fill-opacity="0.55"/>
<circle cx="668.75" cy="45.6" r="2.3" fill="#F07167" fill-opacity="0.55"/>
<circle cx="668.75" cy="45.6" r="2.3" fill="#F07167" fill-opacity="0.55"/>
<circle cx="668.75" cy="52.2" r="2.3" fill="#F07167" fill-opacity="0.55"/>
<circle cx="668.75" cy="74.7" r="2.3" fill="#F07167" fill-opacity="0.55"/>
<circle cx="668.75" cy="81.1" r="2.3" fill="#F07167" fill-opacity="0.55"/>
<circle cx="668.75" cy="85.9" r="2.3" fill="#F07167" fill-opacity="0.55"/>
<circle cx="668.75" cy="88.4" r="2.3" fill="#F07167" fill-opacity="0.55"/>
<line x1="506.95" y1="103.6" x2="512.55" y2="103.6" stroke="#E8282B" stroke-width="1.3" stroke-opacity="0.85"/>
<line x1="533.45" y1="82.4" x2="539.05" y2="82.4" stroke="#E8282B" stroke-width="1.3" stroke-opacity="0.9"/>
<line x1="559.95" y1="72.8" x2="565.55" y2="72.8" stroke="#E8282B" stroke-width="1.3" stroke-opacity="0.55"/>
<line x1="586.45" y1="71.4" x2="592.05" y2="71.4" stroke="#E8282B" stroke-width="1.3" stroke-opacity="0.9"/>
<line x1="612.95" y1="72.2" x2="618.55" y2="72.2" stroke="#E8282B" stroke-width="1.3" stroke-opacity="0.55"/>
<line x1="639.45" y1="82" x2="645.05" y2="82" stroke="#E8282B" stroke-width="1.3" stroke-opacity="0.55"/>
<line x1="665.95" y1="67.4" x2="671.55" y2="67.4" stroke="#E8282B" stroke-width="1.3" stroke-opacity="0.9"/>
<rect x="30.8" y="215.2" width="194.8" height="12.1" fill="#fff" stroke="#e6e6e6" stroke-width="1.4"/>
<line x1="58.97" y1="214.5" x2="58.97" y2="227.3" stroke="#e0e0e0" stroke-width="0.7"/>
<line x1="86.74" y1="214.5" x2="86.74" y2="227.3" stroke="#e0e0e0" stroke-width="0.7"/>
<line x1="114.51" y1="214.5" x2="114.51" y2="227.3" stroke="#e0e0e0" stroke-width="0.7"/>
<line x1="142.29" y1="214.5" x2="142.29" y2="227.3" stroke="#e0e0e0" stroke-width="0.7"/>
<line x1="170.06" y1="214.5" x2="170.06" y2="227.3" stroke="#e0e0e0" stroke-width="0.7"/>
<line x1="197.83" y1="214.5" x2="197.83" y2="227.3" stroke="#e0e0e0" stroke-width="0.7"/>
<text transform="translate(45.09 224) scale(0.9615 1)" font-size="9.05" text-anchor="middle" fill="#111" stroke="#111" stroke-width="0.12">0.552</text>
<text transform="translate(72.86 224) scale(0.9615 1)" font-size="9.05" text-anchor="middle" fill="#111" stroke="#111" stroke-width="0.12">0.607</text>
<text transform="translate(100.63 224) scale(0.9615 1)" font-size="9.05" text-anchor="middle" fill="#111" stroke="#111" stroke-width="0.12">0.628</text>
<text transform="translate(128.4 224) scale(0.9615 1)" font-size="9.05" text-anchor="middle" fill="#111" stroke="#111" stroke-width="0.12">0.669</text>
<text transform="translate(156.17 224) scale(0.9615 1)" font-size="9.05" text-anchor="middle" fill="#111" stroke="#111" stroke-width="0.12">0.637</text>
<text transform="translate(183.94 224) scale(0.9615 1)" font-size="9.05" text-anchor="middle" fill="#111" stroke="#111" stroke-width="0.12">0.634</text>
<text transform="translate(211.71 224) scale(0.9615 1)" font-size="9.05" text-anchor="middle" fill="#111" stroke="#111" stroke-width="0.12">0.697</text>
<line x1="58.97" y1="228.3" x2="58.97" y2="328.4" stroke="#e2e2e2" stroke-width="1.1" stroke-dasharray="1.6,1.3"/>
<line x1="86.74" y1="228.3" x2="86.74" y2="328.4" stroke="#e2e2e2" stroke-width="1.1" stroke-dasharray="1.6,1.3"/>
<line x1="114.51" y1="228.3" x2="114.51" y2="328.4" stroke="#e2e2e2" stroke-width="1.1" stroke-dasharray="1.6,1.3"/>
<line x1="142.29" y1="228.3" x2="142.29" y2="328.4" stroke="#e2e2e2" stroke-width="1.1" stroke-dasharray="1.6,1.3"/>
<line x1="170.06" y1="228.3" x2="170.06" y2="328.4" stroke="#e2e2e2" stroke-width="1.1" stroke-dasharray="1.6,1.3"/>
<line x1="197.83" y1="228.3" x2="197.83" y2="328.4" stroke="#e2e2e2" stroke-width="1.1" stroke-dasharray="1.6,1.3"/>
<line x1="31.2" y1="250" x2="225.6" y2="250" stroke="#e0e0e0" stroke-width="0.8" stroke-dasharray="1.4,1.7"/>
<line x1="31.2" y1="301" x2="225.6" y2="301" stroke="#e0e0e0" stroke-width="0.8" stroke-dasharray="1.4,1.7"/>
<line x1="225.6" y1="227.3" x2="225.6" y2="328.4" stroke="#9a9a9a" stroke-width="0.9"/>
<line x1="30.8" y1="227.3" x2="225.6" y2="227.3" stroke="#6e6e6e" stroke-width="0.95"/>
<line x1="31.2" y1="227.3" x2="31.2" y2="328.85" stroke="#9a9a9a" stroke-width="0.9"/>
<line x1="31.2" y1="328.4" x2="225.6" y2="328.4" stroke="#9a9a9a" stroke-width="0.9"/>
<line x1="29.2" y1="250" x2="31.2" y2="250" stroke="#888" stroke-width="0.6"/>
<line x1="29.2" y1="275.5" x2="31.2" y2="275.5" stroke="#888" stroke-width="0.6"/>
<line x1="29.2" y1="301" x2="31.2" y2="301" stroke="#888" stroke-width="0.6"/>
<line x1="29.2" y1="326.5" x2="31.2" y2="326.5" stroke="#888" stroke-width="0.6"/>
<text transform="translate(22.6 250) rotate(-90) scale(0.9615 1)" font-size="9.46" text-anchor="middle" fill="#111" stroke="#111" stroke-width="0.12" dominant-baseline="central">0.86</text>
<text transform="translate(22.6 301) rotate(-90) scale(0.9615 1)" font-size="9.46" text-anchor="middle" fill="#111" stroke="#111" stroke-width="0.12" dominant-baseline="central">0.43</text>
<text transform="translate(11.6 271) rotate(-90) scale(0.9615 1)" font-size="9.78" text-anchor="middle" fill="#111" stroke="#111" stroke-width="0.12" dominant-baseline="central">Macro-AUC</text>
<line x1="45.09" y1="328.4" x2="45.09" y2="330.2" stroke="#999" stroke-width="0.6"/>
<text transform="translate(47.69 332) rotate(-90) scale(0.9615 1)" font-size="7.28" text-anchor="end" fill="#111" stroke="#111" stroke-width="0.12">R50</text>
<line x1="72.86" y1="328.4" x2="72.86" y2="330.2" stroke="#999" stroke-width="0.6"/>
<text transform="translate(75.46 332) rotate(-90) scale(0.9615 1)" font-size="7.28" text-anchor="end" fill="#111" stroke="#111" stroke-width="0.12">PLIP</text>
<line x1="100.63" y1="328.4" x2="100.63" y2="330.2" stroke="#999" stroke-width="0.6"/>
<text transform="translate(103.23 332) rotate(-90) scale(0.9615 1)" font-size="7.28" text-anchor="end" fill="#111" stroke="#111" stroke-width="0.12">CONCH</text>
<line x1="128.4" y1="328.4" x2="128.4" y2="330.2" stroke="#999" stroke-width="0.6"/>
<text transform="translate(131 332) rotate(-90) scale(0.9615 1)" font-size="7.28" text-anchor="end" fill="#111" stroke="#111" stroke-width="0.12">UNI</text>
<line x1="156.17" y1="328.4" x2="156.17" y2="330.2" stroke="#999" stroke-width="0.6"/>
<text transform="translate(158.77 332) rotate(-90) scale(0.9615 1)" font-size="7.28" text-anchor="end" fill="#111" stroke="#111" stroke-width="0.12">CHIEF</text>
<line x1="183.94" y1="328.4" x2="183.94" y2="330.2" stroke="#999" stroke-width="0.6"/>
<text transform="translate(186.54 332) rotate(-90) scale(0.9615 1)" font-size="7.28" text-anchor="end" fill="#111" stroke="#111" stroke-width="0.12">GigaPath</text>
<line x1="211.71" y1="328.4" x2="211.71" y2="330.2" stroke="#999" stroke-width="0.6"/>
<text transform="translate(214.31 332) rotate(-90) scale(0.9615 1)" font-size="7.28" text-anchor="end" fill="#111" stroke="#111" stroke-width="0.12">mSTAR (Ours)</text>
<text transform="translate(129 381.4) scale(0.9615 1)" font-size="9.57" text-anchor="middle" fill="#111" stroke="#111" stroke-width="0.12">Mutation Prediction (held-out)</text>
<line x1="128.4" y1="207.5" x2="213.3" y2="207.5" stroke="#333" stroke-width="0.8" stroke-dasharray="3.2,2.4"/>
<line x1="128.4" y1="207.5" x2="128.4" y2="212.1" stroke="#333" stroke-width="0.8"/>
<line x1="213.3" y1="207.5" x2="213.3" y2="212.1" stroke="#333" stroke-width="0.8"/>
<text transform="translate(170.85 208.4) scale(0.9615 1)" font-size="8.53" text-anchor="middle" fill="#111" stroke="#111" stroke-width="0.12">***</text>
<line x1="43.69" y1="277.9" x2="43.69" y2="305.8" stroke="#444" stroke-width="0.9"/>
<rect x="42.19" y="278.5" width="3" height="13.6" fill="#0081A7" stroke="#333" stroke-width="0.6" fill-opacity="0.8" stroke-opacity="1"/>
<line x1="71.46" y1="249.1" x2="71.46" y2="316.3" stroke="#555" stroke-width="0.9"/>
<rect x="69.96" y="270.4" width="3" height="24.2" fill="#00AFB9" stroke="#333" stroke-width="0.6" fill-opacity="0.8" stroke-opacity="1"/>
<line x1="99.23" y1="261.1" x2="99.23" y2="302.1" stroke="#666" stroke-width="0.9"/>
<rect x="97.73" y="274.1" width="3" height="7.5" fill="#FEE9AA" stroke="#333" stroke-width="0.6" fill-opacity="0.8" stroke-opacity="0.6"/>
<line x1="127" y1="243.1" x2="127" y2="307.4" stroke="#aaa" stroke-width="0.9"/>
<rect x="125.5" y="262.4" width="3" height="25.4" fill="#FED9B7" stroke="#333" stroke-width="0.6" fill-opacity="0.8" stroke-opacity="0.45"/>
<line x1="154.77" y1="246.6" x2="154.77" y2="302.1" stroke="#777" stroke-width="0.9"/>
<rect x="153.27" y="268" width="3" height="16.7" fill="#F4ACB7" stroke="#333" stroke-width="0.6" fill-opacity="0.8" stroke-opacity="0.6"/>
<line x1="182.54" y1="248.3" x2="182.54" y2="305.8" stroke="#555" stroke-width="0.9"/>
<rect x="181.04" y="267.3" width="3" height="18" fill="#9D8189" stroke="#333" stroke-width="0.6" fill-opacity="0.8" stroke-opacity="1"/>
<line x1="210.31" y1="243.5" x2="210.31" y2="305.7" stroke="#444" stroke-width="0.9"/>
<rect x="208.81" y="258.8" width="3" height="20.2" fill="#F07167" stroke="#333" stroke-width="0.6" fill-opacity="0.8" stroke-opacity="1"/>
<circle cx="43.69" cy="256.4" r="1.6" fill="#0081A7" fill-opacity="0.7"/>
<circle cx="44.03" cy="278.5" r="1.4" fill="#0081A7" fill-opacity="0.7"/>
<circle cx="43.19" cy="280" r="1.4" fill="#0081A7" fill-opacity="0.7"/>
<circle cx="44.07" cy="281.5" r="1.5" fill="#0081A7" fill-opacity="0.7"/>
<circle cx="43.62" cy="283" r="1.4" fill="#0081A7" fill-opacity="0.7"/>
<circle cx="43.4" cy="284.5" r="1.5" fill="#0081A7" fill-opacity="0.7"/>
<circle cx="44.18" cy="286" r="1.5" fill="#0081A7" fill-opacity="0.7"/>
<circle cx="43.26" cy="287.5" r="1.4" fill="#0081A7" fill-opacity="0.7"/>
<circle cx="43.82" cy="289" r="1.5" fill="#0081A7" fill-opacity="0.7"/>
<circle cx="43.92" cy="290.5" r="1.6" fill="#0081A7" fill-opacity="0.7"/>
<circle cx="43.21" cy="292.1" r="1.5" fill="#0081A7" fill-opacity="0.7"/>
<circle cx="44.14" cy="301.4" r="2" fill="#0081A7" fill-opacity="0.7"/>
<circle cx="43.49" cy="305.8" r="1.3" fill="#0081A7" fill-opacity="0.7"/>
<rect x="42.19" y="278.5" width="3" height="13.6" fill="none" stroke="#333" stroke-width="0.6" stroke-opacity="0.5"/>
<circle cx="43.69" cy="253" r="1.5" fill="#0081A7" fill-opacity="0.7"/>
<circle cx="43.69" cy="253" r="0.9" fill="#333" fill-opacity="0.75"/>
<circle cx="43.69" cy="321.9" r="1.5" fill="#0081A7" fill-opacity="0.7"/>
<circle cx="43.69" cy="321.9" r="0.9" fill="#333" fill-opacity="0.75"/>
<circle cx="71.94" cy="249.1" r="1.6" fill="#00AFB9" fill-opacity="0.7"/>
<circle cx="71.2" cy="251.2" r="1.2" fill="#00AFB9" fill-opacity="0.7"/>
<circle cx="71.36" cy="266.1" r="1.3" fill="#00AFB9" fill-opacity="0.7"/>
<circle cx="71.87" cy="270.4" r="1.6" fill="#00AFB9" fill-opacity="0.7"/>
<circle cx="70.96" cy="272.5" r="1.8" fill="#00AFB9" fill-opacity="0.7"/>
<circle cx="71.77" cy="275" r="1.7" fill="#00AFB9" fill-opacity="0.7"/>
<circle cx="71.49" cy="277.5" r="1.8" fill="#00AFB9" fill-opacity="0.7"/>
<circle cx="71.09" cy="280" r="1.7" fill="#00AFB9" fill-opacity="0.7"/>
<circle cx="71.96" cy="282.5" r="1.8" fill="#00AFB9" fill-opacity="0.7"/>
<circle cx="71.09" cy="285" r="1.7" fill="#00AFB9" fill-opacity="0.7"/>
<circle cx="71.49" cy="287.5" r="1.8" fill="#00AFB9" fill-opacity="0.7"/>
<circle cx="71.77" cy="290" r="1.7" fill="#00AFB9" fill-opacity="0.7"/>
<circle cx="70.96" cy="292.5" r="1.8" fill="#00AFB9" fill-opacity="0.7"/>
<circle cx="71.87" cy="294.6" r="2" fill="#00AFB9" fill-opacity="0.7"/>
<circle cx="71.36" cy="308.3" r="1.3" fill="#00AFB9" fill-opacity="0.7"/>
<circle cx="71.2" cy="316.3" r="1.8" fill="#00AFB9" fill-opacity="0.7"/>
<rect x="69.96" y="270.4" width="3" height="24.2" fill="none" stroke="#333" stroke-width="0.6" stroke-opacity="0.3"/>
<circle cx="99.49" cy="261.1" r="1.7" fill="#FEE9AA" fill-opacity="0.7"/>
<circle cx="98.75" cy="274.8" r="2.2" fill="#FEE9AA" fill-opacity="0.7"/>
<circle cx="99.67" cy="277" r="1.6" fill="#FEE9AA" fill-opacity="0.7"/>
<circle cx="99.06" cy="279.5" r="1.5" fill="#FEE9AA" fill-opacity="0.7"/>
<circle cx="99.03" cy="282" r="1.5" fill="#FEE9AA" fill-opacity="0.7"/>
<circle cx="99.69" cy="288.4" r="1.3" fill="#FEE9AA" fill-opacity="0.7"/>
<circle cx="98.76" cy="302.1" r="2.2" fill="#FEE9AA" fill-opacity="0.7"/>
<rect x="97.73" y="274.1" width="3" height="7.5" fill="none" stroke="#333" stroke-width="0.6" stroke-opacity="0.3"/>
<circle cx="99.23" cy="247.2" r="1.5" fill="#FEE9AA" fill-opacity="0.7"/>
<circle cx="99.23" cy="247.2" r="0.9" fill="#333" fill-opacity="0.75"/>
<circle cx="99.23" cy="248.4" r="1.5" fill="#FEE9AA" fill-opacity="0.7"/>
<circle cx="99.23" cy="248.4" r="0.9" fill="#333" fill-opacity="0.75"/>
<circle cx="99.23" cy="252.8" r="1.5" fill="#FEE9AA" fill-opacity="0.7"/>
<circle cx="99.23" cy="252.8" r="0.9" fill="#333" fill-opacity="0.75"/>
<circle cx="99.23" cy="312.4" r="1.5" fill="#FEE9AA" fill-opacity="0.7"/>
<circle cx="99.23" cy="312.4" r="0.9" fill="#333" fill-opacity="0.75"/>
<circle cx="126.66" cy="243.1" r="1.3" fill="#FED9B7" fill-opacity="0.7"/>
<circle cx="127" cy="254.9" r="2.2" fill="#FED9B7" fill-opacity="0.7"/>
<circle cx="127.34" cy="262.4" r="1.5" fill="#FED9B7" fill-opacity="0.7"/>
<circle cx="126.5" cy="266" r="1.5" fill="#FED9B7" fill-opacity="0.7"/>
<circle cx="127.39" cy="270" r="1.6" fill="#FED9B7" fill-opacity="0.7"/>
<circle cx="126.93" cy="274" r="1.5" fill="#FED9B7" fill-opacity="0.7"/>
<circle cx="126.71" cy="278" r="1.6" fill="#FED9B7" fill-opacity="0.7"/>
<circle cx="127.49" cy="282" r="1.6" fill="#FED9B7" fill-opacity="0.7"/>
<circle cx="126.57" cy="285.5" r="1.6" fill="#FED9B7" fill-opacity="0.7"/>
<circle cx="127.14" cy="295" r="2.2" fill="#FED9B7" fill-opacity="0.7"/>
<circle cx="127.23" cy="307.4" r="1.4" fill="#FED9B7" fill-opacity="0.7"/>
<rect x="125.5" y="262.4" width="3" height="25.4" fill="none" stroke="#333" stroke-width="0.6" stroke-opacity="0.3"/>
<circle cx="154.33" cy="246.6" r="1.4" fill="#F4ACB7" fill-opacity="0.7"/>
<circle cx="155.25" cy="255.3" r="1.3" fill="#F4ACB7" fill-opacity="0.7"/>
<circle cx="154.51" cy="268" r="2.1" fill="#F4ACB7" fill-opacity="0.7"/>
<circle cx="154.67" cy="271" r="1.9" fill="#F4ACB7" fill-opacity="0.7"/>
<circle cx="155.18" cy="274" r="1.6" fill="#F4ACB7" fill-opacity="0.7"/>
<circle cx="154.28" cy="278" r="1.7" fill="#F4ACB7" fill-opacity="0.7"/>
<circle cx="155.09" cy="281" r="1.7" fill="#F4ACB7" fill-opacity="0.7"/>
<circle cx="154.8" cy="284.7" r="1.6" fill="#F4ACB7" fill-opacity="0.7"/>
<circle cx="154.41" cy="289.7" r="1.3" fill="#F4ACB7" fill-opacity="0.7"/>
<circle cx="155.27" cy="294" r="2.1" fill="#F4ACB7" fill-opacity="0.7"/>
<circle cx="154.4" cy="302.1" r="1.4" fill="#F4ACB7" fill-opacity="0.7"/>
<rect x="153.27" y="268" width="3" height="16.7" fill="none" stroke="#333" stroke-width="0.6" stroke-opacity="0.4"/>
<circle cx="182.65" cy="248.3" r="1.3" fill="#9D8189" fill-opacity="0.7"/>
<circle cx="182.8" cy="251.2" r="1.4" fill="#9D8189" fill-opacity="0.7"/>
<circle cx="182.06" cy="257.4" r="2" fill="#9D8189" fill-opacity="0.7"/>
<circle cx="182.99" cy="268" r="1.5" fill="#9D8189" fill-opacity="0.7"/>
<circle cx="182.37" cy="272" r="1.5" fill="#9D8189" fill-opacity="0.7"/>
<circle cx="182.35" cy="276" r="1.6" fill="#9D8189" fill-opacity="0.7"/>
<circle cx="183" cy="280" r="1.8" fill="#9D8189" fill-opacity="0.7"/>
<circle cx="182.07" cy="283" r="1.9" fill="#9D8189" fill-opacity="0.7"/>
<circle cx="182.78" cy="286" r="1.7" fill="#9D8189" fill-opacity="0.7"/>
<circle cx="182.67" cy="289" r="1.6" fill="#9D8189" fill-opacity="0.7"/>
<circle cx="182.12" cy="292.8" r="1.5" fill="#9D8189" fill-opacity="0.7"/>
<circle cx="183.03" cy="305.8" r="1.4" fill="#9D8189" fill-opacity="0.7"/>
<rect x="181.04" y="267.3" width="3" height="18" fill="none" stroke="#333" stroke-width="0.6" stroke-opacity="0.6"/>
<circle cx="210.81" cy="243.5" r="1.4" fill="#F07167" fill-opacity="0.7"/>
<circle cx="209.97" cy="253.7" r="2.1" fill="#F07167" fill-opacity="0.7"/>
<circle cx="210.32" cy="259.5" r="1.6" fill="#F07167" fill-opacity="0.7"/>
<circle cx="210.65" cy="262" r="1.5" fill="#F07167" fill-opacity="0.7"/>
<circle cx="209.82" cy="265" r="1.5" fill="#F07167" fill-opacity="0.7"/>
<circle cx="210.71" cy="268" r="1.6" fill="#F07167" fill-opacity="0.7"/>
<circle cx="210.24" cy="271" r="1.5" fill="#F07167" fill-opacity="0.7"/>
<circle cx="210.03" cy="274" r="1.5" fill="#F07167" fill-opacity="0.7"/>
<circle cx="210.8" cy="277" r="1.5" fill="#F07167" fill-opacity="0.7"/>
<circle cx="209.88" cy="285.8" r="2.1" fill="#F07167" fill-opacity="0.7"/>
<circle cx="210.45" cy="305.7" r="1.3" fill="#F07167" fill-opacity="0.7"/>
<rect x="208.81" y="258.8" width="3" height="20.2" fill="none" stroke="#333" stroke-width="0.6" stroke-opacity="0.6"/>
<line x1="40.09" y1="286.6" x2="47.29" y2="286.6" stroke="#E8282B" stroke-width="1.1" stroke-opacity="0.95"/>
<line x1="67.86" y1="280.1" x2="75.06" y2="280.1" stroke="#E8282B" stroke-width="1.1" stroke-opacity="0.45"/>
<line x1="95.63" y1="277.4" x2="102.83" y2="277.4" stroke="#E8282B" stroke-width="1.1" stroke-opacity="0.95"/>
<line x1="123.4" y1="272.5" x2="130.6" y2="272.5" stroke="#E8282B" stroke-width="1.1" stroke-opacity="0.9"/>
<line x1="151.17" y1="276.4" x2="158.37" y2="276.4" stroke="#E8282B" stroke-width="1.1" stroke-opacity="0.95"/>
<line x1="178.94" y1="276.6" x2="186.14" y2="276.6" stroke="#E8282B" stroke-width="1.1" stroke-opacity="0.9"/>
<line x1="206.71" y1="269.5" x2="213.91" y2="269.5" stroke="#E8282B" stroke-width="1.1" stroke-opacity="0.95"/>
<rect x="259.1" y="215.7" width="195.9" height="11.6" fill="#fff" stroke="#e6e6e6" stroke-width="1.4"/>
<line x1="287.43" y1="215" x2="287.43" y2="227.3" stroke="#e0e0e0" stroke-width="0.7"/>
<line x1="315.36" y1="215" x2="315.36" y2="227.3" stroke="#e0e0e0" stroke-width="0.7"/>
<line x1="343.29" y1="215" x2="343.29" y2="227.3" stroke="#e0e0e0" stroke-width="0.7"/>
<line x1="371.21" y1="215" x2="371.21" y2="227.3" stroke="#e0e0e0" stroke-width="0.7"/>
<line x1="399.14" y1="215" x2="399.14" y2="227.3" stroke="#e0e0e0" stroke-width="0.7"/>
<line x1="427.07" y1="215" x2="427.07" y2="227.3" stroke="#e0e0e0" stroke-width="0.7"/>
<text transform="translate(273.46 224) scale(0.9615 1)" font-size="9.05" text-anchor="middle" fill="#111" stroke="#111" stroke-width="0.12">0.715</text>
<text transform="translate(301.39 224) scale(0.9615 1)" font-size="9.05" text-anchor="middle" fill="#111" stroke="#111" stroke-width="0.12">0.771</text>
<text transform="translate(329.32 224) scale(0.9615 1)" font-size="9.05" text-anchor="middle" fill="#111" stroke="#111" stroke-width="0.12">0.805</text>
<text transform="translate(357.25 224) scale(0.9615 1)" font-size="9.05" text-anchor="middle" fill="#111" stroke="#111" stroke-width="0.12">0.822</text>
<text transform="translate(385.18 224) scale(0.9615 1)" font-size="9.05" text-anchor="middle" fill="#111" stroke="#111" stroke-width="0.12">0.810</text>
<text transform="translate(413.11 224) scale(0.9615 1)" font-size="9.05" text-anchor="middle" fill="#111" stroke="#111" stroke-width="0.12">0.803</text>
<text transform="translate(441.04 224) scale(0.9615 1)" font-size="9.05" text-anchor="middle" fill="#111" stroke="#111" stroke-width="0.12">0.836</text>
<line x1="287.43" y1="228.3" x2="287.43" y2="328.3" stroke="#e2e2e2" stroke-width="1.1" stroke-dasharray="1.6,1.3"/>
<line x1="315.36" y1="228.3" x2="315.36" y2="328.3" stroke="#e2e2e2" stroke-width="1.1" stroke-dasharray="1.6,1.3"/>
<line x1="343.29" y1="228.3" x2="343.29" y2="328.3" stroke="#e2e2e2" stroke-width="1.1" stroke-dasharray="1.6,1.3"/>
<line x1="371.21" y1="228.3" x2="371.21" y2="328.3" stroke="#e2e2e2" stroke-width="1.1" stroke-dasharray="1.6,1.3"/>
<line x1="399.14" y1="228.3" x2="399.14" y2="328.3" stroke="#e2e2e2" stroke-width="1.1" stroke-dasharray="1.6,1.3"/>
<line x1="427.07" y1="228.3" x2="427.07" y2="328.3" stroke="#e2e2e2" stroke-width="1.1" stroke-dasharray="1.6,1.3"/>
<line x1="259.5" y1="270.4" x2="455" y2="270.4" stroke="#e0e0e0" stroke-width="0.8" stroke-dasharray="1.4,1.7"/>
<line x1="259.5" y1="319.2" x2="455" y2="319.2" stroke="#e0e0e0" stroke-width="0.8" stroke-dasharray="1.4,1.7"/>
<line x1="455.3" y1="215.5" x2="455.3" y2="328.3" stroke="#d9d9d9" stroke-width="1.4"/>
<line x1="259.1" y1="227.3" x2="455" y2="227.3" stroke="#d2d2d2" stroke-width="1.3"/>
<line x1="259.5" y1="227.3" x2="259.5" y2="328.75" stroke="#9a9a9a" stroke-width="0.9"/>
<line x1="259.5" y1="328.3" x2="455" y2="328.3" stroke="#9a9a9a" stroke-width="0.9"/>
<line x1="257.5" y1="246" x2="259.5" y2="246" stroke="#888" stroke-width="0.6"/>
<line x1="257.5" y1="270.4" x2="259.5" y2="270.4" stroke="#888" stroke-width="0.6"/>
<line x1="257.5" y1="294.8" x2="259.5" y2="294.8" stroke="#888" stroke-width="0.6"/>
<line x1="257.5" y1="319.2" x2="259.5" y2="319.2" stroke="#888" stroke-width="0.6"/>
<text transform="translate(250.2 270.4) rotate(-90) scale(0.9615 1)" font-size="9.46" text-anchor="middle" fill="#111" stroke="#111" stroke-width="0.12" dominant-baseline="central">0.85</text>
<text transform="translate(250.2 319.2) rotate(-90) scale(0.9615 1)" font-size="9.46" text-anchor="middle" fill="#111" stroke="#111" stroke-width="0.12" dominant-baseline="central">0.68</text>
<text transform="translate(239.9 271) rotate(-90) scale(0.9615 1)" font-size="9.78" text-anchor="middle" fill="#111" stroke="#111" stroke-width="0.12" dominant-baseline="central">Macro-AUC</text>
<line x1="273.46" y1="328.3" x2="273.46" y2="330.1" stroke="#999" stroke-width="0.6"/>
<text transform="translate(276.06 331.9) rotate(-90) scale(0.9615 1)" font-size="7.28" text-anchor="end" fill="#111" stroke="#111" stroke-width="0.12">R50</text>
<line x1="301.39" y1="328.3" x2="301.39" y2="330.1" stroke="#999" stroke-width="0.6"/>
<text transform="translate(303.99 331.9) rotate(-90) scale(0.9615 1)" font-size="7.28" text-anchor="end" fill="#111" stroke="#111" stroke-width="0.12">PLIP</text>
<line x1="329.32" y1="328.3" x2="329.32" y2="330.1" stroke="#999" stroke-width="0.6"/>
<text transform="translate(331.92 331.9) rotate(-90) scale(0.9615 1)" font-size="7.28" text-anchor="end" fill="#111" stroke="#111" stroke-width="0.12">CONCH</text>
<line x1="357.25" y1="328.3" x2="357.25" y2="330.1" stroke="#999" stroke-width="0.6"/>
<text transform="translate(359.85 331.9) rotate(-90) scale(0.9615 1)" font-size="7.28" text-anchor="end" fill="#111" stroke="#111" stroke-width="0.12">UNI</text>
<line x1="385.18" y1="328.3" x2="385.18" y2="330.1" stroke="#999" stroke-width="0.6"/>
<text transform="translate(387.78 331.9) rotate(-90) scale(0.9615 1)" font-size="7.28" text-anchor="end" fill="#111" stroke="#111" stroke-width="0.12">CHIEF</text>
<line x1="413.11" y1="328.3" x2="413.11" y2="330.1" stroke="#999" stroke-width="0.6"/>
<text transform="translate(415.71 331.9) rotate(-90) scale(0.9615 1)" font-size="7.28" text-anchor="end" fill="#111" stroke="#111" stroke-width="0.12">GigaPath</text>
<line x1="441.04" y1="328.3" x2="441.04" y2="330.1" stroke="#999" stroke-width="0.6"/>
<text transform="translate(443.64 331.9) rotate(-90) scale(0.9615 1)" font-size="7.28" text-anchor="end" fill="#111" stroke="#111" stroke-width="0.12">mSTAR (Ours)</text>
<text transform="translate(349.5 382.5) scale(0.9615 1)" font-size="9.72" text-anchor="middle" fill="#111" stroke="#111" stroke-width="0.12">IHC Biomarker Prediction (Independent)</text>
<line x1="357.3" y1="207.2" x2="442.2" y2="207.2" stroke="#333" stroke-width="0.8" stroke-dasharray="3.2,2.4"/>
<line x1="357.3" y1="207.2" x2="357.3" y2="211.8" stroke="#333" stroke-width="0.8"/>
<line x1="442.2" y1="207.2" x2="442.2" y2="211.8" stroke="#333" stroke-width="0.8"/>
<text transform="translate(399.75 208.4) scale(0.9615 1)" font-size="8.53" text-anchor="middle" fill="#111" stroke="#111" stroke-width="0.12">***</text>
<line x1="272.06" y1="302.1" x2="272.06" y2="317.8" stroke="#333" stroke-width="0.9"/>
<rect x="270.76" y="302.9" width="2.6" height="12.4" fill="#0081A7" stroke="#333" stroke-width="0.6"/>
<circle cx="272.06" cy="317.8" r="2.3" fill="#0081A7" fill-opacity="0.6"/>
<line x1="268.26" y1="309.3" x2="275.86" y2="309.3" stroke="#E8282B" stroke-width="1.1"/>
<line x1="299.99" y1="271.4" x2="299.99" y2="302.7" stroke="#666" stroke-width="0.9"/>
<rect x="298.69" y="283.8" width="2.6" height="18.9" fill="#00AFB9" stroke="#333" stroke-width="0.6"/>
<circle cx="299.99" cy="271.4" r="2.3" fill="#00AFB9" fill-opacity="0.6"/>
<line x1="296.19" y1="293.4" x2="303.79" y2="293.4" stroke="#E8282B" stroke-width="1.1"/>
<line x1="327.92" y1="260.3" x2="327.92" y2="295.2" stroke="#666" stroke-width="0.9"/>
<rect x="326.62" y="274.1" width="2.6" height="18.4" fill="#FEE9AA" stroke="#333" stroke-width="0.6"/>
<circle cx="327.92" cy="260.3" r="2.3" fill="#FEE9AA" fill-opacity="0.6"/>
<line x1="324.12" y1="283.5" x2="331.72" y2="283.5" stroke="#E8282B" stroke-width="1.1"/>
<line x1="355.85" y1="249.1" x2="355.85" y2="291.5" stroke="#444" stroke-width="0.9"/>
<rect x="354.55" y="267.3" width="2.6" height="22.7" fill="#FED9B7" stroke="#333" stroke-width="0.6"/>
<circle cx="355.85" cy="249.1" r="2.3" fill="#FED9B7" fill-opacity="0.6"/>
<line x1="352.05" y1="278.5" x2="359.65" y2="278.5" stroke="#E8282B" stroke-width="1.1"/>
<line x1="383.78" y1="254" x2="383.78" y2="301.2" stroke="#bbb" stroke-width="0.9"/>
<rect x="382.48" y="269.2" width="2.6" height="26" fill="#F4ACB7" stroke="#333" stroke-width="0.6"/>
<circle cx="383.78" cy="254" r="2.3" fill="#F4ACB7" fill-opacity="0.6"/>
<line x1="379.98" y1="282.5" x2="387.58" y2="282.5" stroke="#E8282B" stroke-width="1.1"/>
<line x1="411.71" y1="255.9" x2="411.71" y2="295.5" stroke="#bbb" stroke-width="0.9"/>
<rect x="410.41" y="272.3" width="2.6" height="23.2" fill="#9D8189" stroke="#333" stroke-width="0.6"/>
<circle cx="411.71" cy="255.9" r="2.3" fill="#9D8189" fill-opacity="0.6"/>
<line x1="407.91" y1="284.3" x2="415.51" y2="284.3" stroke="#E8282B" stroke-width="1.1"/>
<line x1="439.64" y1="246.6" x2="439.64" y2="285.8" stroke="#444" stroke-width="0.9"/>
<rect x="438.34" y="263.7" width="2.6" height="22.1" fill="#F07167" stroke="#333" stroke-width="0.6"/>
<circle cx="439.64" cy="246.6" r="2.3" fill="#F07167" fill-opacity="0.6"/>
<line x1="435.84" y1="274.4" x2="443.44" y2="274.4" stroke="#E8282B" stroke-width="1.1"/>
<rect x="488.4" y="216.1" width="195.6" height="11.2" fill="#fff" stroke="#e6e6e6" stroke-width="1.4"/>
<line x1="516.69" y1="215.4" x2="516.69" y2="227.3" stroke="#e0e0e0" stroke-width="0.7"/>
<line x1="544.57" y1="215.4" x2="544.57" y2="227.3" stroke="#e0e0e0" stroke-width="0.7"/>
<line x1="572.46" y1="215.4" x2="572.46" y2="227.3" stroke="#e0e0e0" stroke-width="0.7"/>
<line x1="600.34" y1="215.4" x2="600.34" y2="227.3" stroke="#e0e0e0" stroke-width="0.7"/>
<line x1="628.23" y1="215.4" x2="628.23" y2="227.3" stroke="#e0e0e0" stroke-width="0.7"/>
<line x1="656.11" y1="215.4" x2="656.11" y2="227.3" stroke="#e0e0e0" stroke-width="0.7"/>
<text transform="translate(502.74 224) scale(0.9615 1)" font-size="9.05" text-anchor="middle" fill="#111" stroke="#111" stroke-width="0.12">0.777</text>
<text transform="translate(530.63 224) scale(0.9615 1)" font-size="9.05" text-anchor="middle" fill="#111" stroke="#111" stroke-width="0.12">0.857</text>
<text transform="translate(558.51 224) scale(0.9615 1)" font-size="9.05" text-anchor="middle" fill="#111" stroke="#111" stroke-width="0.12">0.895</text>
<text transform="translate(586.4 224) scale(0.9615 1)" font-size="9.05" text-anchor="middle" fill="#111" stroke="#111" stroke-width="0.12">0.884</text>
<text transform="translate(614.29 224) scale(0.9615 1)" font-size="9.05" text-anchor="middle" fill="#111" stroke="#111" stroke-width="0.12">0.893</text>
<text transform="translate(642.17 224) scale(0.9615 1)" font-size="9.05" text-anchor="middle" fill="#111" stroke="#111" stroke-width="0.12">0.846</text>
<text transform="translate(670.06 224) scale(0.9615 1)" font-size="9.05" text-anchor="middle" fill="#111" stroke="#111" stroke-width="0.12">0.907</text>
<line x1="516.69" y1="228.3" x2="516.69" y2="328.1" stroke="#e2e2e2" stroke-width="1.1" stroke-dasharray="1.6,1.3"/>
<line x1="544.57" y1="228.3" x2="544.57" y2="328.1" stroke="#e2e2e2" stroke-width="1.1" stroke-dasharray="1.6,1.3"/>
<line x1="572.46" y1="228.3" x2="572.46" y2="328.1" stroke="#e2e2e2" stroke-width="1.1" stroke-dasharray="1.6,1.3"/>
<line x1="600.34" y1="228.3" x2="600.34" y2="328.1" stroke="#e2e2e2" stroke-width="1.1" stroke-dasharray="1.6,1.3"/>
<line x1="628.23" y1="228.3" x2="628.23" y2="328.1" stroke="#e2e2e2" stroke-width="1.1" stroke-dasharray="1.6,1.3"/>
<line x1="656.11" y1="228.3" x2="656.11" y2="328.1" stroke="#e2e2e2" stroke-width="1.1" stroke-dasharray="1.6,1.3"/>
<line x1="488.8" y1="254.3" x2="684" y2="254.3" stroke="#e0e0e0" stroke-width="0.8" stroke-dasharray="1.4,1.7"/>
<line x1="488.8" y1="303.3" x2="684" y2="303.3" stroke="#e0e0e0" stroke-width="0.8" stroke-dasharray="1.4,1.7"/>
<line x1="684.3" y1="215.9" x2="684.3" y2="328.1" stroke="#d9d9d9" stroke-width="1.4"/>
<line x1="488.4" y1="227.3" x2="684" y2="227.3" stroke="#d2d2d2" stroke-width="1.3"/>
<line x1="488.8" y1="227.3" x2="488.8" y2="328.55" stroke="#9a9a9a" stroke-width="0.9"/>
<line x1="488.8" y1="328.1" x2="684" y2="328.1" stroke="#9a9a9a" stroke-width="0.9"/>
<line x1="486.8" y1="229.8" x2="488.8" y2="229.8" stroke="#888" stroke-width="0.6"/>
<line x1="486.8" y1="254.3" x2="488.8" y2="254.3" stroke="#888" stroke-width="0.6"/>
<line x1="486.8" y1="278.8" x2="488.8" y2="278.8" stroke="#888" stroke-width="0.6"/>
<line x1="486.8" y1="303.3" x2="488.8" y2="303.3" stroke="#888" stroke-width="0.6"/>
<text transform="translate(479.3 254.3) rotate(-90) scale(0.9615 1)" font-size="9.46" text-anchor="middle" fill="#111" stroke="#111" stroke-width="0.12" dominant-baseline="central">0.88</text>
<text transform="translate(479.3 303.3) rotate(-90) scale(0.9615 1)" font-size="9.46" text-anchor="middle" fill="#111" stroke="#111" stroke-width="0.12" dominant-baseline="central">0.66</text>
<text transform="translate(467.4 279) rotate(-90) scale(0.9615 1)" font-size="9.78" text-anchor="middle" fill="#111" stroke="#111" stroke-width="0.12" dominant-baseline="central">Macro-AUC</text>
<line x1="502.74" y1="328.1" x2="502.74" y2="329.9" stroke="#999" stroke-width="0.6"/>
<text transform="translate(505.34 331.7) rotate(-90) scale(0.9615 1)" font-size="7.28" text-anchor="end" fill="#111" stroke="#111" stroke-width="0.12">R50</text>
<line x1="530.63" y1="328.1" x2="530.63" y2="329.9" stroke="#999" stroke-width="0.6"/>
<text transform="translate(533.23 331.7) rotate(-90) scale(0.9615 1)" font-size="7.28" text-anchor="end" fill="#111" stroke="#111" stroke-width="0.12">PLIP</text>
<line x1="558.51" y1="328.1" x2="558.51" y2="329.9" stroke="#999" stroke-width="0.6"/>
<text transform="translate(561.11 331.7) rotate(-90) scale(0.9615 1)" font-size="7.28" text-anchor="end" fill="#111" stroke="#111" stroke-width="0.12">CONCH</text>
<line x1="586.4" y1="328.1" x2="586.4" y2="329.9" stroke="#999" stroke-width="0.6"/>
<text transform="translate(589 331.7) rotate(-90) scale(0.9615 1)" font-size="7.28" text-anchor="end" fill="#111" stroke="#111" stroke-width="0.12">UNI</text>
<line x1="614.29" y1="328.1" x2="614.29" y2="329.9" stroke="#999" stroke-width="0.6"/>
<text transform="translate(616.89 331.7) rotate(-90) scale(0.9615 1)" font-size="7.28" text-anchor="end" fill="#111" stroke="#111" stroke-width="0.12">CHIEF</text>
<line x1="642.17" y1="328.1" x2="642.17" y2="329.9" stroke="#999" stroke-width="0.6"/>
<text transform="translate(644.77 331.7) rotate(-90) scale(0.9615 1)" font-size="7.28" text-anchor="end" fill="#111" stroke="#111" stroke-width="0.12">GigaPath</text>
<line x1="670.06" y1="328.1" x2="670.06" y2="329.9" stroke="#999" stroke-width="0.6"/>
<text transform="translate(672.66 331.7) rotate(-90) scale(0.9615 1)" font-size="7.28" text-anchor="end" fill="#111" stroke="#111" stroke-width="0.12">mSTAR (Ours)</text>
<text transform="translate(580.6 378.1) scale(0.9615 1)" font-size="9.72" text-anchor="middle" fill="#111" stroke="#111" stroke-width="0.12">Molecular Prediction (held-out)</text>
<line x1="586" y1="209.3" x2="672.6" y2="209.3" stroke="#333" stroke-width="0.8" stroke-dasharray="3.2,2.4"/>
<line x1="586" y1="209.3" x2="586" y2="213.9" stroke="#333" stroke-width="0.8"/>
<line x1="672.6" y1="209.3" x2="672.6" y2="213.9" stroke="#333" stroke-width="0.8"/>
<text transform="translate(629.3 209.6) scale(0.9615 1)" font-size="8.53" text-anchor="middle" fill="#111" stroke="#111" stroke-width="0.12">***</text>
<line x1="501.34" y1="242.5" x2="501.34" y2="310.7" stroke="#444" stroke-width="0.9"/>
<rect x="499.94" y="251.6" width="2.8" height="51.7" fill="#0081A7" stroke="#333" stroke-width="0.6"/>
<circle cx="501.34" cy="242.5" r="0.9" fill="#0081A7" fill-opacity="0.9"/>
<circle cx="501.34" cy="310.7" r="0.9" fill="#0081A7" fill-opacity="0.9"/>
<line x1="497.74" y1="277.5" x2="504.94" y2="277.5" stroke="#E8282B" stroke-width="1.1" stroke-opacity="0.95"/>
<line x1="529.23" y1="231.7" x2="529.23" y2="284.7" stroke="#444" stroke-width="0.9"/>
<rect x="527.83" y="235.4" width="2.8" height="48.7" fill="#00AFB9" stroke="#333" stroke-width="0.6"/>
<circle cx="529.23" cy="231.7" r="0.9" fill="#00AFB9" fill-opacity="0.9"/>
<circle cx="529.23" cy="284.7" r="0.9" fill="#00AFB9" fill-opacity="0.9"/>
<line x1="525.63" y1="259.5" x2="532.83" y2="259.5" stroke="#E8282B" stroke-width="1.1" stroke-opacity="0.95"/>
<line x1="557.11" y1="233" x2="557.11" y2="269.2" stroke="#444" stroke-width="0.9"/>
<rect x="555.71" y="235.4" width="2.8" height="31.3" fill="#FEE9AA" stroke="#333" stroke-width="0.6"/>
<circle cx="557.11" cy="233" r="0.9" fill="#FEE9AA" fill-opacity="0.9"/>
<circle cx="557.11" cy="269.2" r="0.9" fill="#FEE9AA" fill-opacity="0.9"/>
<line x1="553.51" y1="251.2" x2="560.71" y2="251.2" stroke="#E8282B" stroke-width="1.1" stroke-opacity="0.7"/>
<line x1="585" y1="232.6" x2="585" y2="277.6" stroke="#444" stroke-width="0.9"/>
<rect x="583.6" y="238.2" width="2.8" height="30.7" fill="#FED9B7" stroke="#333" stroke-width="0.6"/>
<circle cx="585" cy="232.6" r="0.9" fill="#FED9B7" fill-opacity="0.9"/>
<circle cx="585" cy="277.6" r="0.9" fill="#FED9B7" fill-opacity="0.9"/>
<line x1="581.4" y1="253.4" x2="588.6" y2="253.4" stroke="#E8282B" stroke-width="1.1" stroke-opacity="0.95"/>
<line x1="612.89" y1="232.2" x2="612.89" y2="273.9" stroke="#444" stroke-width="0.9"/>
<rect x="611.49" y="235.4" width="2.8" height="31.9" fill="#F4ACB7" stroke="#333" stroke-width="0.6"/>
<circle cx="612.89" cy="232.2" r="0.9" fill="#F4ACB7" fill-opacity="0.9"/>
<circle cx="612.89" cy="273.9" r="0.9" fill="#F4ACB7" fill-opacity="0.9"/>
<line x1="609.29" y1="251.4" x2="616.49" y2="251.4" stroke="#E8282B" stroke-width="1.1" stroke-opacity="0.95"/>
<line x1="640.77" y1="231" x2="640.77" y2="288.7" stroke="#444" stroke-width="0.9"/>
<rect x="639.37" y="240" width="2.8" height="43.8" fill="#9D8189" stroke="#333" stroke-width="0.6"/>
<circle cx="640.77" cy="231" r="0.9" fill="#9D8189" fill-opacity="0.9"/>
<circle cx="640.77" cy="288.7" r="0.9" fill="#9D8189" fill-opacity="0.9"/>
<line x1="637.17" y1="262" x2="644.37" y2="262" stroke="#E8282B" stroke-width="1.1" stroke-opacity="0.5"/>
<line x1="668.66" y1="231.1" x2="668.66" y2="271" stroke="#444" stroke-width="0.9"/>
<rect x="667.26" y="231.1" width="2.8" height="34.7" fill="#F07167" stroke="#333" stroke-width="0.6"/>
<circle cx="668.66" cy="231.1" r="0.9" fill="#F07167" fill-opacity="0.9"/>
<circle cx="668.66" cy="271" r="0.9" fill="#F07167" fill-opacity="0.9"/>
<line x1="665.06" y1="248.4" x2="672.26" y2="248.4" stroke="#E8282B" stroke-width="1.1" stroke-opacity="0.95"/>
<rect x="3.2" y="397.5" width="92.2" height="32.02" fill="#FDE6E6" stroke="none" stroke-width="1"/>
<rect x="3.2" y="429.5" width="92.2" height="33.32" fill="#E3E8DE" stroke="none" stroke-width="1"/>
<rect x="3.2" y="462.8" width="92.2" height="19.32" fill="#FDE6E6" stroke="none" stroke-width="1"/>
<rect x="3.2" y="482.1" width="92.2" height="70.12" fill="#E3E8DE" stroke="none" stroke-width="1"/>
<rect x="3.2" y="552.2" width="92.2" height="32.92" fill="#FDE6E6" stroke="none" stroke-width="1"/>
<rect x="3.2" y="585.1" width="92.2" height="13.72" fill="#E3E8DE" stroke="none" stroke-width="1"/>
<rect x="3.2" y="598.8" width="92.2" height="41.22" fill="#FDE6E6" stroke="none" stroke-width="1"/>
<rect x="3.2" y="640" width="92.2" height="116.62" fill="#E3E8DE" stroke="none" stroke-width="1"/>
<rect x="3.2" y="756.6" width="92.2" height="18.32" fill="#FDE6E6" stroke="none" stroke-width="1"/>
<rect x="3.2" y="774.9" width="92.2" height="16.62" fill="#E3E8DE" stroke="none" stroke-width="1"/>
<text transform="translate(92.6 408.06) scale(0.9615 1)" font-size="8.37" text-anchor="end" fill="#111" stroke="#111" stroke-width="0.12">CPTAC_LUAD_EGFR</text>
<text transform="translate(92.6 425.19) scale(0.9615 1)" font-size="8.37" text-anchor="end" fill="#111" stroke="#111" stroke-width="0.12">CPTAC_LUAD_KRAS</text>
<text transform="translate(92.6 442.32) scale(0.9615 1)" font-size="8.37" text-anchor="end" fill="#111" stroke="#111" stroke-width="0.12">CPTAC_BRCA_TTN</text>
<text transform="translate(92.6 459.45) scale(0.9615 1)" font-size="8.37" text-anchor="end" fill="#111" stroke="#111" stroke-width="0.12">CPTAC_BRCA_TP53</text>
<text transform="translate(92.6 476.58) scale(0.9615 1)" font-size="8.37" text-anchor="end" fill="#111" stroke="#111" stroke-width="0.12">CPTAC_BRCA_PIK3CA</text>
<text transform="translate(92.6 493.71) scale(0.9615 1)" font-size="8.37" text-anchor="end" fill="#111" stroke="#111" stroke-width="0.12">UCEC_TTN</text>
<text transform="translate(92.6 510.84) scale(0.9615 1)" font-size="8.37" text-anchor="end" fill="#111" stroke="#111" stroke-width="0.12">UCEC_PTEN</text>
<text transform="translate(92.6 527.98) scale(0.9615 1)" font-size="8.37" text-anchor="end" fill="#111" stroke="#111" stroke-width="0.12">UCEC_ARID1A</text>
<text transform="translate(92.6 545.11) scale(0.9615 1)" font-size="8.37" text-anchor="end" fill="#111" stroke="#111" stroke-width="0.12">SKCM_DNAH5</text>
<text transform="translate(92.6 562.24) scale(0.9615 1)" font-size="8.37" text-anchor="end" fill="#111" stroke="#111" stroke-width="0.12">SKCM_BRAF</text>
<text transform="translate(92.6 579.37) scale(0.9615 1)" font-size="8.37" text-anchor="end" fill="#111" stroke="#111" stroke-width="0.12">NSCLC_TMB</text>
<text transform="translate(92.6 596.5) scale(0.9615 1)" font-size="8.37" text-anchor="end" fill="#111" stroke="#111" stroke-width="0.12">LUSC_TP53</text>
<text transform="translate(92.6 613.63) scale(0.9615 1)" font-size="8.37" text-anchor="end" fill="#111" stroke="#111" stroke-width="0.12">LUAD_KRAS</text>
<text transform="translate(92.6 630.75) scale(0.9615 1)" font-size="8.37" text-anchor="end" fill="#111" stroke="#111" stroke-width="0.12">LUAD_EGFR</text>
<text transform="translate(92.6 647.89) scale(0.9615 1)" font-size="8.37" text-anchor="end" fill="#111" stroke="#111" stroke-width="0.12">LGG_CIC</text>
<text transform="translate(92.6 665.01) scale(0.9615 1)" font-size="8.37" text-anchor="end" fill="#111" stroke="#111" stroke-width="0.12">HNSC_TP53</text>
<text transform="translate(92.6 682.15) scale(0.9615 1)" font-size="8.37" text-anchor="end" fill="#111" stroke="#111" stroke-width="0.12">GBM_TP53</text>
<text transform="translate(92.6 699.27) scale(0.9615 1)" font-size="8.37" text-anchor="end" fill="#111" stroke="#111" stroke-width="0.12">GBM_EGFR</text>
<text transform="translate(92.6 716.41) scale(0.9615 1)" font-size="8.37" text-anchor="end" fill="#111" stroke="#111" stroke-width="0.12">CRC_APC</text>
<text transform="translate(92.6 733.53) scale(0.9615 1)" font-size="8.37" text-anchor="end" fill="#111" stroke="#111" stroke-width="0.12">BRCA_TTN</text>
<text transform="translate(92.6 750.67) scale(0.9615 1)" font-size="8.37" text-anchor="end" fill="#111" stroke="#111" stroke-width="0.12">BRCA_TP53</text>
<text transform="translate(92.6 767.79) scale(0.9615 1)" font-size="8.37" text-anchor="end" fill="#111" stroke="#111" stroke-width="0.12">BRCA_PIK3CA</text>
<text transform="translate(92.6 784.93) scale(0.9615 1)" font-size="8.37" text-anchor="end" fill="#111" stroke="#111" stroke-width="0.12">BRCA_GATA3</text>
<rect x="95.4" y="397.9" width="35.76" height="13.5" fill="#FDE0C7" stroke="#c9a58a" stroke-width="0.5"/>
<rect x="131.16" y="397.9" width="83.44" height="13.5" fill="#F0F0F0" stroke="#7a7a7a" stroke-width="0.7"/>
<line x1="131.16" y1="397.9" x2="131.16" y2="411.4" stroke="#666" stroke-width="0.7"/>
<text transform="translate(113.28 407.45) scale(0.9615 1)" font-size="8.32" text-anchor="middle" fill="#111" stroke="#111" stroke-width="0.12">30%</text>
<text transform="translate(172.88 407.45) scale(0.9615 1)" font-size="8.32" text-anchor="middle" fill="#111" stroke="#111" stroke-width="0.12">70%</text>
<line x1="131.16" y1="411.4" x2="134.74" y2="415.03" stroke="#777" stroke-width="0.5"/>
<rect x="95.4" y="415.03" width="39.34" height="13.5" fill="#FDE0C7" stroke="#c9a58a" stroke-width="0.5"/>
<rect x="134.74" y="415.03" width="79.86" height="13.5" fill="#F0F0F0" stroke="#7a7a7a" stroke-width="0.7"/>
<line x1="134.74" y1="415.03" x2="134.74" y2="428.53" stroke="#666" stroke-width="0.7"/>
<text transform="translate(115.07 424.58) scale(0.9615 1)" font-size="8.32" text-anchor="middle" fill="#111" stroke="#111" stroke-width="0.12">33%</text>
<text transform="translate(174.67 424.58) scale(0.9615 1)" font-size="8.32" text-anchor="middle" fill="#111" stroke="#111" stroke-width="0.12">67%</text>
<line x1="134.74" y1="428.53" x2="131.16" y2="432.16" stroke="#777" stroke-width="0.5"/>
<rect x="95.4" y="432.16" width="35.76" height="13.5" fill="#FDE0C7" stroke="#c9a58a" stroke-width="0.5"/>
<rect x="131.16" y="432.16" width="83.44" height="13.5" fill="#F0F0F0" stroke="#7a7a7a" stroke-width="0.7"/>
<line x1="131.16" y1="432.16" x2="131.16" y2="445.66" stroke="#666" stroke-width="0.7"/>
<text transform="translate(113.28 441.71) scale(0.9615 1)" font-size="8.32" text-anchor="middle" fill="#111" stroke="#111" stroke-width="0.12">30%</text>
<text transform="translate(172.88 441.71) scale(0.9615 1)" font-size="8.32" text-anchor="middle" fill="#111" stroke="#111" stroke-width="0.12">70%</text>
<line x1="131.16" y1="445.66" x2="134.74" y2="449.29" stroke="#777" stroke-width="0.5"/>
<rect x="95.4" y="449.29" width="39.34" height="13.5" fill="#FDE0C7" stroke="#c9a58a" stroke-width="0.5"/>
<rect x="134.74" y="449.29" width="79.86" height="13.5" fill="#F0F0F0" stroke="#7a7a7a" stroke-width="0.7"/>
<line x1="134.74" y1="449.29" x2="134.74" y2="462.79" stroke="#666" stroke-width="0.7"/>
<text transform="translate(115.07 458.84) scale(0.9615 1)" font-size="8.32" text-anchor="middle" fill="#111" stroke="#111" stroke-width="0.12">33%</text>
<text transform="translate(174.67 458.84) scale(0.9615 1)" font-size="8.32" text-anchor="middle" fill="#111" stroke="#111" stroke-width="0.12">67%</text>
<line x1="134.74" y1="462.79" x2="138.31" y2="466.42" stroke="#777" stroke-width="0.5"/>
<rect x="95.4" y="466.42" width="42.91" height="13.5" fill="#FDE0C7" stroke="#c9a58a" stroke-width="0.5"/>
<rect x="138.31" y="466.42" width="76.29" height="13.5" fill="#F0F0F0" stroke="#7a7a7a" stroke-width="0.7"/>
<line x1="138.31" y1="466.42" x2="138.31" y2="479.92" stroke="#666" stroke-width="0.7"/>
<text transform="translate(116.86 475.97) scale(0.9615 1)" font-size="8.32" text-anchor="middle" fill="#111" stroke="#111" stroke-width="0.12">36%</text>
<text transform="translate(176.46 475.97) scale(0.9615 1)" font-size="8.32" text-anchor="middle" fill="#111" stroke="#111" stroke-width="0.12">64%</text>
<line x1="138.31" y1="479.92" x2="143.08" y2="483.55" stroke="#777" stroke-width="0.5"/>
<rect x="95.4" y="483.55" width="47.68" height="13.5" fill="#FDE0C7" stroke="#c9a58a" stroke-width="0.5"/>
<rect x="143.08" y="483.55" width="71.52" height="13.5" fill="#F0F0F0" stroke="#7a7a7a" stroke-width="0.7"/>
<line x1="143.08" y1="483.55" x2="143.08" y2="497.05" stroke="#666" stroke-width="0.7"/>
<text transform="translate(119.24 493.1) scale(0.9615 1)" font-size="8.32" text-anchor="middle" fill="#111" stroke="#111" stroke-width="0.12">40%</text>
<text transform="translate(178.84 493.1) scale(0.9615 1)" font-size="8.32" text-anchor="middle" fill="#111" stroke="#111" stroke-width="0.12">60%</text>
<line x1="143.08" y1="497.05" x2="172.88" y2="500.68" stroke="#777" stroke-width="0.5"/>
<rect x="95.4" y="500.68" width="77.48" height="13.5" fill="#FDE0C7" stroke="#c9a58a" stroke-width="0.5"/>
<rect x="172.88" y="500.68" width="41.72" height="13.5" fill="#F0F0F0" stroke="#7a7a7a" stroke-width="0.7"/>
<line x1="172.88" y1="500.68" x2="172.88" y2="514.18" stroke="#666" stroke-width="0.7"/>
<text transform="translate(134.14 510.23) scale(0.9615 1)" font-size="8.32" text-anchor="middle" fill="#111" stroke="#111" stroke-width="0.12">65%</text>
<text transform="translate(193.74 510.23) scale(0.9615 1)" font-size="8.32" text-anchor="middle" fill="#111" stroke="#111" stroke-width="0.12">35%</text>
<line x1="172.88" y1="514.18" x2="146.66" y2="517.81" stroke="#777" stroke-width="0.5"/>
<rect x="95.4" y="517.81" width="51.26" height="13.5" fill="#FDE0C7" stroke="#c9a58a" stroke-width="0.5"/>
<rect x="146.66" y="517.81" width="67.94" height="13.5" fill="#F0F0F0" stroke="#7a7a7a" stroke-width="0.7"/>
<line x1="146.66" y1="517.81" x2="146.66" y2="531.31" stroke="#666" stroke-width="0.7"/>
<text transform="translate(121.03 527.36) scale(0.9615 1)" font-size="8.32" text-anchor="middle" fill="#111" stroke="#111" stroke-width="0.12">43%</text>
<text transform="translate(180.63 527.36) scale(0.9615 1)" font-size="8.32" text-anchor="middle" fill="#111" stroke="#111" stroke-width="0.12">57%</text>
<line x1="146.66" y1="531.31" x2="157.38" y2="534.94" stroke="#777" stroke-width="0.5"/>
<rect x="95.4" y="534.94" width="61.98" height="13.5" fill="#FDE0C7" stroke="#c9a58a" stroke-width="0.5"/>
<rect x="157.38" y="534.94" width="57.22" height="13.5" fill="#F0F0F0" stroke="#7a7a7a" stroke-width="0.7"/>
<line x1="157.38" y1="534.94" x2="157.38" y2="548.44" stroke="#666" stroke-width="0.7"/>
<text transform="translate(126.39 544.49) scale(0.9615 1)" font-size="8.32" text-anchor="middle" fill="#111" stroke="#111" stroke-width="0.12">52%</text>
<text transform="translate(185.99 544.49) scale(0.9615 1)" font-size="8.32" text-anchor="middle" fill="#111" stroke="#111" stroke-width="0.12">48%</text>
<line x1="157.38" y1="548.44" x2="158.58" y2="552.07" stroke="#777" stroke-width="0.5"/>
<rect x="95.4" y="552.07" width="63.18" height="13.5" fill="#FDE0C7" stroke="#c9a58a" stroke-width="0.5"/>
<rect x="158.58" y="552.07" width="56.02" height="13.5" fill="#F0F0F0" stroke="#7a7a7a" stroke-width="0.7"/>
<line x1="158.58" y1="552.07" x2="158.58" y2="565.57" stroke="#666" stroke-width="0.7"/>
<text transform="translate(126.99 561.62) scale(0.9615 1)" font-size="8.32" text-anchor="middle" fill="#111" stroke="#111" stroke-width="0.12">53%</text>
<text transform="translate(186.59 561.62) scale(0.9615 1)" font-size="8.32" text-anchor="middle" fill="#111" stroke="#111" stroke-width="0.12">47%</text>
<line x1="158.58" y1="565.57" x2="121.62" y2="569.2" stroke="#777" stroke-width="0.5"/>
<rect x="95.4" y="569.2" width="26.22" height="13.5" fill="#FDE0C7" stroke="#c9a58a" stroke-width="0.5"/>
<rect x="121.62" y="569.2" width="92.98" height="13.5" fill="#F0F0F0" stroke="#7a7a7a" stroke-width="0.7"/>
<line x1="121.62" y1="569.2" x2="121.62" y2="582.7" stroke="#666" stroke-width="0.7"/>
<text transform="translate(108.51 578.75) scale(0.9615 1)" font-size="8.32" text-anchor="middle" fill="#111" stroke="#111" stroke-width="0.12">22%</text>
<text transform="translate(168.11 578.75) scale(0.9615 1)" font-size="8.32" text-anchor="middle" fill="#111" stroke="#111" stroke-width="0.12">78%</text>
<line x1="121.62" y1="582.7" x2="156.19" y2="586.33" stroke="#777" stroke-width="0.5"/>
<rect x="95.4" y="586.33" width="60.79" height="13.5" fill="#FDE0C7" stroke="#c9a58a" stroke-width="0.5"/>
<rect x="156.19" y="586.33" width="58.41" height="13.5" fill="#F0F0F0" stroke="#7a7a7a" stroke-width="0.7"/>
<line x1="156.19" y1="586.33" x2="156.19" y2="599.83" stroke="#666" stroke-width="0.7"/>
<text transform="translate(125.8 595.88) scale(0.9615 1)" font-size="8.32" text-anchor="middle" fill="#111" stroke="#111" stroke-width="0.12">51%</text>
<text transform="translate(185.4 595.88) scale(0.9615 1)" font-size="8.32" text-anchor="middle" fill="#111" stroke="#111" stroke-width="0.12">49%</text>
<line x1="156.19" y1="599.83" x2="131.16" y2="603.46" stroke="#777" stroke-width="0.5"/>
<rect x="95.4" y="603.46" width="35.76" height="13.5" fill="#FDE0C7" stroke="#c9a58a" stroke-width="0.5"/>
<rect x="131.16" y="603.46" width="83.44" height="13.5" fill="#F0F0F0" stroke="#7a7a7a" stroke-width="0.7"/>
<line x1="131.16" y1="603.46" x2="131.16" y2="616.96" stroke="#666" stroke-width="0.7"/>
<text transform="translate(113.28 613.01) scale(0.9615 1)" font-size="8.32" text-anchor="middle" fill="#111" stroke="#111" stroke-width="0.12">30%</text>
<text transform="translate(172.88 613.01) scale(0.9615 1)" font-size="8.32" text-anchor="middle" fill="#111" stroke="#111" stroke-width="0.12">70%</text>
<line x1="131.16" y1="616.96" x2="110.9" y2="620.59" stroke="#777" stroke-width="0.5"/>
<rect x="95.4" y="620.59" width="15.5" height="13.5" fill="#FDE0C7" stroke="#c9a58a" stroke-width="0.5"/>
<rect x="110.9" y="620.59" width="103.7" height="13.5" fill="#F0F0F0" stroke="#7a7a7a" stroke-width="0.7"/>
<line x1="110.9" y1="620.59" x2="110.9" y2="634.09" stroke="#666" stroke-width="0.7"/>
<text transform="translate(103.15 630.14) scale(0.9615 1)" font-size="8.32" text-anchor="middle" fill="#111" stroke="#111" stroke-width="0.12">13%</text>
<text transform="translate(162.75 630.14) scale(0.9615 1)" font-size="8.32" text-anchor="middle" fill="#111" stroke="#111" stroke-width="0.12">88%</text>
<line x1="110.9" y1="634.09" x2="120.43" y2="637.72" stroke="#777" stroke-width="0.5"/>
<rect x="95.4" y="637.72" width="25.03" height="13.5" fill="#FDE0C7" stroke="#c9a58a" stroke-width="0.5"/>
<rect x="120.43" y="637.72" width="94.17" height="13.5" fill="#F0F0F0" stroke="#7a7a7a" stroke-width="0.7"/>
<line x1="120.43" y1="637.72" x2="120.43" y2="651.22" stroke="#666" stroke-width="0.7"/>
<text transform="translate(107.92 647.27) scale(0.9615 1)" font-size="8.32" text-anchor="middle" fill="#111" stroke="#111" stroke-width="0.12">21%</text>
<text transform="translate(167.52 647.27) scale(0.9615 1)" font-size="8.32" text-anchor="middle" fill="#111" stroke="#111" stroke-width="0.12">79%</text>
<line x1="120.43" y1="651.22" x2="183.61" y2="654.85" stroke="#777" stroke-width="0.5"/>
<rect x="95.4" y="654.85" width="88.21" height="13.5" fill="#FDE0C7" stroke="#c9a58a" stroke-width="0.5"/>
<rect x="183.61" y="654.85" width="30.99" height="13.5" fill="#F0F0F0" stroke="#7a7a7a" stroke-width="0.7"/>
<line x1="183.61" y1="654.85" x2="183.61" y2="668.35" stroke="#666" stroke-width="0.7"/>
<text transform="translate(139.5 664.4) scale(0.9615 1)" font-size="8.32" text-anchor="middle" fill="#111" stroke="#111" stroke-width="0.12">74%</text>
<text transform="translate(199.1 664.4) scale(0.9615 1)" font-size="8.32" text-anchor="middle" fill="#111" stroke="#111" stroke-width="0.12">26%</text>
<line x1="183.61" y1="668.35" x2="132.35" y2="671.98" stroke="#777" stroke-width="0.5"/>
<rect x="95.4" y="671.98" width="36.95" height="13.5" fill="#FDE0C7" stroke="#c9a58a" stroke-width="0.5"/>
<rect x="132.35" y="671.98" width="82.25" height="13.5" fill="#F0F0F0" stroke="#7a7a7a" stroke-width="0.7"/>
<line x1="132.35" y1="671.98" x2="132.35" y2="685.48" stroke="#666" stroke-width="0.7"/>
<text transform="translate(113.88 681.53) scale(0.9615 1)" font-size="8.32" text-anchor="middle" fill="#111" stroke="#111" stroke-width="0.12">31%</text>
<text transform="translate(173.48 681.53) scale(0.9615 1)" font-size="8.32" text-anchor="middle" fill="#111" stroke="#111" stroke-width="0.12">69%</text>
<line x1="132.35" y1="685.48" x2="122.82" y2="689.11" stroke="#777" stroke-width="0.5"/>
<rect x="95.4" y="689.11" width="27.42" height="13.5" fill="#FDE0C7" stroke="#c9a58a" stroke-width="0.5"/>
<rect x="122.82" y="689.11" width="91.78" height="13.5" fill="#F0F0F0" stroke="#7a7a7a" stroke-width="0.7"/>
<line x1="122.82" y1="689.11" x2="122.82" y2="702.61" stroke="#666" stroke-width="0.7"/>
<text transform="translate(109.11 698.66) scale(0.9615 1)" font-size="8.32" text-anchor="middle" fill="#111" stroke="#111" stroke-width="0.12">23%</text>
<text transform="translate(168.71 698.66) scale(0.9615 1)" font-size="8.32" text-anchor="middle" fill="#111" stroke="#111" stroke-width="0.12">77%</text>
<line x1="122.82" y1="702.61" x2="187.18" y2="706.24" stroke="#777" stroke-width="0.5"/>
<rect x="95.4" y="706.24" width="91.78" height="13.5" fill="#FDE0C7" stroke="#c9a58a" stroke-width="0.5"/>
<rect x="187.18" y="706.24" width="27.42" height="13.5" fill="#F0F0F0" stroke="#7a7a7a" stroke-width="0.7"/>
<line x1="187.18" y1="706.24" x2="187.18" y2="719.74" stroke="#666" stroke-width="0.7"/>
<text transform="translate(141.29 715.79) scale(0.9615 1)" font-size="8.32" text-anchor="middle" fill="#111" stroke="#111" stroke-width="0.12">77%</text>
<text transform="translate(200.89 715.79) scale(0.9615 1)" font-size="8.32" text-anchor="middle" fill="#111" stroke="#111" stroke-width="0.12">23%</text>
<line x1="187.18" y1="719.74" x2="116.86" y2="723.37" stroke="#777" stroke-width="0.5"/>
<rect x="95.4" y="723.37" width="21.46" height="13.5" fill="#FDE0C7" stroke="#c9a58a" stroke-width="0.5"/>
<rect x="116.86" y="723.37" width="97.74" height="13.5" fill="#F0F0F0" stroke="#7a7a7a" stroke-width="0.7"/>
<line x1="116.86" y1="723.37" x2="116.86" y2="736.87" stroke="#666" stroke-width="0.7"/>
<text transform="translate(106.13 732.92) scale(0.9615 1)" font-size="8.32" text-anchor="middle" fill="#111" stroke="#111" stroke-width="0.12">18%</text>
<text transform="translate(165.73 732.92) scale(0.9615 1)" font-size="8.32" text-anchor="middle" fill="#111" stroke="#111" stroke-width="0.12">82%</text>
<line x1="116.86" y1="736.87" x2="134.74" y2="740.5" stroke="#777" stroke-width="0.5"/>
<rect x="95.4" y="740.5" width="39.34" height="13.5" fill="#FDE0C7" stroke="#c9a58a" stroke-width="0.5"/>
<rect x="134.74" y="740.5" width="79.86" height="13.5" fill="#F0F0F0" stroke="#7a7a7a" stroke-width="0.7"/>
<line x1="134.74" y1="740.5" x2="134.74" y2="754" stroke="#666" stroke-width="0.7"/>
<text transform="translate(115.07 750.05) scale(0.9615 1)" font-size="8.32" text-anchor="middle" fill="#111" stroke="#111" stroke-width="0.12">33%</text>
<text transform="translate(174.67 750.05) scale(0.9615 1)" font-size="8.32" text-anchor="middle" fill="#111" stroke="#111" stroke-width="0.12">67%</text>
<line x1="134.74" y1="754" x2="138.31" y2="757.63" stroke="#777" stroke-width="0.5"/>
<rect x="95.4" y="757.63" width="42.91" height="13.5" fill="#FDE0C7" stroke="#c9a58a" stroke-width="0.5"/>
<rect x="138.31" y="757.63" width="76.29" height="13.5" fill="#F0F0F0" stroke="#7a7a7a" stroke-width="0.7"/>
<line x1="138.31" y1="757.63" x2="138.31" y2="771.13" stroke="#666" stroke-width="0.7"/>
<text transform="translate(116.86 767.18) scale(0.9615 1)" font-size="8.32" text-anchor="middle" fill="#111" stroke="#111" stroke-width="0.12">36%</text>
<text transform="translate(176.46 767.18) scale(0.9615 1)" font-size="8.32" text-anchor="middle" fill="#111" stroke="#111" stroke-width="0.12">64%</text>
<line x1="138.31" y1="771.13" x2="109.7" y2="774.76" stroke="#777" stroke-width="0.5"/>
<rect x="95.4" y="774.76" width="14.3" height="13.5" fill="#FDE0C7" stroke="#c9a58a" stroke-width="0.5"/>
<rect x="109.7" y="774.76" width="104.9" height="13.5" fill="#F0F0F0" stroke="#7a7a7a" stroke-width="0.7"/>
<line x1="109.7" y1="774.76" x2="109.7" y2="788.26" stroke="#666" stroke-width="0.7"/>
<text transform="translate(102.55 784.31) scale(0.9615 1)" font-size="8.32" text-anchor="middle" fill="#111" stroke="#111" stroke-width="0.12">12%</text>
<text transform="translate(162.15 784.31) scale(0.9615 1)" font-size="8.32" text-anchor="middle" fill="#111" stroke="#111" stroke-width="0.12">88%</text>
<line x1="95.4" y1="395.9" x2="95.4" y2="790.3" stroke="#333" stroke-width="0.8"/>
<line x1="93.9" y1="397.4" x2="95.4" y2="397.4" stroke="#333" stroke-width="0.6"/>
<line x1="93.9" y1="414.53" x2="95.4" y2="414.53" stroke="#333" stroke-width="0.6"/>
<line x1="93.9" y1="431.66" x2="95.4" y2="431.66" stroke="#333" stroke-width="0.6"/>
<line x1="93.9" y1="448.79" x2="95.4" y2="448.79" stroke="#333" stroke-width="0.6"/>
<line x1="93.9" y1="465.92" x2="95.4" y2="465.92" stroke="#333" stroke-width="0.6"/>
<line x1="93.9" y1="483.05" x2="95.4" y2="483.05" stroke="#333" stroke-width="0.6"/>
<line x1="93.9" y1="500.18" x2="95.4" y2="500.18" stroke="#333" stroke-width="0.6"/>
<line x1="93.9" y1="517.31" x2="95.4" y2="517.31" stroke="#333" stroke-width="0.6"/>
<line x1="93.9" y1="534.44" x2="95.4" y2="534.44" stroke="#333" stroke-width="0.6"/>
<line x1="93.9" y1="551.57" x2="95.4" y2="551.57" stroke="#333" stroke-width="0.6"/>
<line x1="93.9" y1="568.7" x2="95.4" y2="568.7" stroke="#333" stroke-width="0.6"/>
<line x1="93.9" y1="585.83" x2="95.4" y2="585.83" stroke="#333" stroke-width="0.6"/>
<line x1="93.9" y1="602.96" x2="95.4" y2="602.96" stroke="#333" stroke-width="0.6"/>
<line x1="93.9" y1="620.09" x2="95.4" y2="620.09" stroke="#333" stroke-width="0.6"/>
<line x1="93.9" y1="637.22" x2="95.4" y2="637.22" stroke="#333" stroke-width="0.6"/>
<line x1="93.9" y1="654.35" x2="95.4" y2="654.35" stroke="#333" stroke-width="0.6"/>
<line x1="93.9" y1="671.48" x2="95.4" y2="671.48" stroke="#333" stroke-width="0.6"/>
<line x1="93.9" y1="688.61" x2="95.4" y2="688.61" stroke="#333" stroke-width="0.6"/>
<line x1="93.9" y1="705.74" x2="95.4" y2="705.74" stroke="#333" stroke-width="0.6"/>
<line x1="93.9" y1="722.87" x2="95.4" y2="722.87" stroke="#333" stroke-width="0.6"/>
<line x1="93.9" y1="740" x2="95.4" y2="740" stroke="#333" stroke-width="0.6"/>
<line x1="93.9" y1="757.13" x2="95.4" y2="757.13" stroke="#333" stroke-width="0.6"/>
<line x1="93.9" y1="774.26" x2="95.4" y2="774.26" stroke="#333" stroke-width="0.6"/>
<line x1="93.9" y1="791.39" x2="95.4" y2="791.39" stroke="#333" stroke-width="0.6"/>
<line x1="95.4" y1="790.3" x2="214.6" y2="790.3" stroke="#333" stroke-width="0.8"/>
<line x1="95.4" y1="790.3" x2="95.4" y2="792.3" stroke="#333" stroke-width="0.6"/>
<line x1="101.36" y1="790.3" x2="101.36" y2="791.3" stroke="#333" stroke-width="0.6"/>
<line x1="107.32" y1="790.3" x2="107.32" y2="791.3" stroke="#333" stroke-width="0.6"/>
<line x1="113.28" y1="790.3" x2="113.28" y2="791.3" stroke="#333" stroke-width="0.6"/>
<line x1="119.24" y1="790.3" x2="119.24" y2="792.3" stroke="#333" stroke-width="0.6"/>
<line x1="125.2" y1="790.3" x2="125.2" y2="791.3" stroke="#333" stroke-width="0.6"/>
<line x1="131.16" y1="790.3" x2="131.16" y2="791.3" stroke="#333" stroke-width="0.6"/>
<line x1="137.12" y1="790.3" x2="137.12" y2="791.3" stroke="#333" stroke-width="0.6"/>
<line x1="143.08" y1="790.3" x2="143.08" y2="792.3" stroke="#333" stroke-width="0.6"/>
<line x1="149.04" y1="790.3" x2="149.04" y2="791.3" stroke="#333" stroke-width="0.6"/>
<line x1="155" y1="790.3" x2="155" y2="791.3" stroke="#333" stroke-width="0.6"/>
<line x1="160.96" y1="790.3" x2="160.96" y2="791.3" stroke="#333" stroke-width="0.6"/>
<line x1="166.92" y1="790.3" x2="166.92" y2="792.3" stroke="#333" stroke-width="0.6"/>
<line x1="172.88" y1="790.3" x2="172.88" y2="791.3" stroke="#333" stroke-width="0.6"/>
<line x1="178.84" y1="790.3" x2="178.84" y2="791.3" stroke="#333" stroke-width="0.6"/>
<line x1="184.8" y1="790.3" x2="184.8" y2="791.3" stroke="#333" stroke-width="0.6"/>
<line x1="190.76" y1="790.3" x2="190.76" y2="792.3" stroke="#333" stroke-width="0.6"/>
<line x1="196.72" y1="790.3" x2="196.72" y2="791.3" stroke="#333" stroke-width="0.6"/>
<line x1="202.68" y1="790.3" x2="202.68" y2="791.3" stroke="#333" stroke-width="0.6"/>
<line x1="208.64" y1="790.3" x2="208.64" y2="791.3" stroke="#333" stroke-width="0.6"/>
<line x1="214.6" y1="790.3" x2="214.6" y2="792.3" stroke="#333" stroke-width="0.6"/>
<text transform="translate(95.4 801) scale(0.9615 1)" font-size="9.57" text-anchor="middle" fill="#111" stroke="#111" stroke-width="0.12">0</text>
<text transform="translate(119.24 801) scale(0.9615 1)" font-size="9.57" text-anchor="middle" fill="#111" stroke="#111" stroke-width="0.12">20</text>
<text transform="translate(143.08 801) scale(0.9615 1)" font-size="9.57" text-anchor="middle" fill="#111" stroke="#111" stroke-width="0.12">40</text>
<text transform="translate(166.92 801) scale(0.9615 1)" font-size="9.57" text-anchor="middle" fill="#111" stroke="#111" stroke-width="0.12">60</text>
<text transform="translate(190.76 801) scale(0.9615 1)" font-size="9.57" text-anchor="middle" fill="#111" stroke="#111" stroke-width="0.12">80</text>
<text transform="translate(214.6 801) scale(0.9615 1)" font-size="9.57" text-anchor="middle" fill="#111" stroke="#111" stroke-width="0.12">100</text>
<text transform="translate(155.2 817) scale(0.9615 1)" font-size="11.44" text-anchor="middle" fill="#111" stroke="#111" stroke-width="0.12">Ratio</text>
<rect x="71.8" y="828" width="20.7" height="7.7" fill="#FDE0C7" stroke="#888" stroke-width="0.6"/>
<text transform="translate(98.4 835.6) scale(0.9615 1)" font-size="11.44" text-anchor="start" fill="#111" stroke="#111" stroke-width="0.12">Positive</text>
<rect x="143.5" y="828" width="20.1" height="7.7" fill="#F0F0F0" stroke="#888" stroke-width="0.6"/>
<text transform="translate(169.8 835.6) scale(0.9615 1)" font-size="11.44" text-anchor="start" fill="#111" stroke="#111" stroke-width="0.12">Negative</text>
<rect x="273.7" y="416.5" width="408.7" height="16.9" fill="#fff" stroke="#3a3a3a" stroke-width="0.9"/>
<line x1="302.89" y1="416.5" x2="302.89" y2="433.4" stroke="#3a3a3a" stroke-width="0.9"/>
<line x1="332.09" y1="416.5" x2="332.09" y2="433.4" stroke="#3a3a3a" stroke-width="0.9"/>
<line x1="361.28" y1="416.5" x2="361.28" y2="433.4" stroke="#3a3a3a" stroke-width="0.9"/>
<line x1="390.47" y1="416.5" x2="390.47" y2="433.4" stroke="#3a3a3a" stroke-width="0.9"/>
<line x1="419.66" y1="416.5" x2="419.66" y2="433.4" stroke="#3a3a3a" stroke-width="0.9"/>
<line x1="448.86" y1="416.5" x2="448.86" y2="433.4" stroke="#3a3a3a" stroke-width="0.9"/>
<line x1="478.05" y1="416.5" x2="478.05" y2="433.4" stroke="#3a3a3a" stroke-width="0.9"/>
<line x1="507.24" y1="416.5" x2="507.24" y2="433.4" stroke="#3a3a3a" stroke-width="0.9"/>
<line x1="536.44" y1="416.5" x2="536.44" y2="433.4" stroke="#3a3a3a" stroke-width="0.9"/>
<line x1="565.63" y1="416.5" x2="565.63" y2="433.4" stroke="#3a3a3a" stroke-width="0.9"/>
<line x1="594.82" y1="416.5" x2="594.82" y2="433.4" stroke="#3a3a3a" stroke-width="0.9"/>
<line x1="624.01" y1="416.5" x2="624.01" y2="433.4" stroke="#3a3a3a" stroke-width="0.9"/>
<line x1="653.21" y1="416.5" x2="653.21" y2="433.4" stroke="#3a3a3a" stroke-width="0.9"/>
<text transform="translate(288.3 428.9) scale(0.9615 1)" font-size="10.92" text-anchor="middle" fill="#111" stroke="#111" stroke-width="0.12">In</text>
<text transform="translate(317.49 428.9) scale(0.9615 1)" font-size="10.92" text-anchor="middle" fill="#111" stroke="#111" stroke-width="0.12">Ext</text>
<text transform="translate(346.68 428.9) scale(0.9615 1)" font-size="10.92" text-anchor="middle" fill="#111" stroke="#111" stroke-width="0.12">In</text>
<text transform="translate(375.88 428.9) scale(0.9615 1)" font-size="10.92" text-anchor="middle" fill="#111" stroke="#111" stroke-width="0.12">Ext</text>
<text transform="translate(405.07 428.9) scale(0.9615 1)" font-size="10.92" text-anchor="middle" fill="#111" stroke="#111" stroke-width="0.12">In</text>
<text transform="translate(434.26 428.9) scale(0.9615 1)" font-size="10.92" text-anchor="middle" fill="#111" stroke="#111" stroke-width="0.12">Ext</text>
<text transform="translate(463.45 428.9) scale(0.9615 1)" font-size="10.92" text-anchor="middle" fill="#111" stroke="#111" stroke-width="0.12">In</text>
<text transform="translate(492.65 428.9) scale(0.9615 1)" font-size="10.92" text-anchor="middle" fill="#111" stroke="#111" stroke-width="0.12">Ext</text>
<text transform="translate(521.84 428.9) scale(0.9615 1)" font-size="10.92" text-anchor="middle" fill="#111" stroke="#111" stroke-width="0.12">In</text>
<text transform="translate(551.03 428.9) scale(0.9615 1)" font-size="10.92" text-anchor="middle" fill="#111" stroke="#111" stroke-width="0.12">Ext</text>
<text transform="translate(580.22 428.9) scale(0.9615 1)" font-size="10.92" text-anchor="middle" fill="#111" stroke="#111" stroke-width="0.12">In</text>
<text transform="translate(609.42 428.9) scale(0.9615 1)" font-size="10.92" text-anchor="middle" fill="#111" stroke="#111" stroke-width="0.12">Ext</text>
<text transform="translate(638.61 428.9) scale(0.9615 1)" font-size="10.92" text-anchor="middle" fill="#111" stroke="#111" stroke-width="0.12">In</text>
<text transform="translate(667.8 428.9) scale(0.9615 1)" font-size="10.92" text-anchor="middle" fill="#111" stroke="#111" stroke-width="0.12">Ext</text>
<line x1="332.5" y1="434.4" x2="332.5" y2="509.8" stroke="#c8c8c8" stroke-width="0.8" stroke-dasharray="2.4,2.4"/>
<line x1="390.5" y1="434.4" x2="390.5" y2="509.8" stroke="#c8c8c8" stroke-width="0.8" stroke-dasharray="2.4,2.4"/>
<line x1="448.5" y1="434.4" x2="448.5" y2="509.8" stroke="#c8c8c8" stroke-width="0.8" stroke-dasharray="2.4,2.4"/>
<line x1="507.5" y1="434.4" x2="507.5" y2="509.8" stroke="#c8c8c8" stroke-width="0.8" stroke-dasharray="2.4,2.4"/>
<line x1="565.5" y1="434.4" x2="565.5" y2="509.8" stroke="#c8c8c8" stroke-width="0.8" stroke-dasharray="2.4,2.4"/>
<line x1="624.5" y1="434.4" x2="624.5" y2="509.8" stroke="#c8c8c8" stroke-width="0.8" stroke-dasharray="2.4,2.4"/>
<line x1="273.7" y1="443.3" x2="682.4" y2="443.3" stroke="#d4d4d4" stroke-width="0.8" stroke-dasharray="1.4,1.7"/>
<line x1="273.7" y1="482.3" x2="682.4" y2="482.3" stroke="#d4d4d4" stroke-width="0.8" stroke-dasharray="1.4,1.7"/>
<line x1="273.7" y1="433.4" x2="273.7" y2="509.8" stroke="#444" stroke-width="0.9"/>
<line x1="273.7" y1="509.8" x2="682.4" y2="509.8" stroke="#444" stroke-width="0.9"/>
<line x1="682.4" y1="433.4" x2="682.4" y2="509.8" stroke="#888" stroke-width="0.9"/>
<line x1="270.2" y1="443.3" x2="273.7" y2="443.3" stroke="#444" stroke-width="0.7"/>
<line x1="270.2" y1="462.8" x2="273.7" y2="462.8" stroke="#444" stroke-width="0.7"/>
<line x1="270.2" y1="482.3" x2="273.7" y2="482.3" stroke="#444" stroke-width="0.7"/>
<line x1="270.2" y1="501.8" x2="273.7" y2="501.8" stroke="#444" stroke-width="0.7"/>
<text transform="translate(265.9 447.1) scale(0.9615 1)" font-size="11.02" text-anchor="end" fill="#111" stroke="#111" stroke-width="0.12">0.81</text>
<text transform="translate(265.9 486.1) scale(0.9615 1)" font-size="11.02" text-anchor="end" fill="#111" stroke="#111" stroke-width="0.12">0.54</text>
<text transform="translate(236.4 463.15) rotate(-90) scale(0.9615 1)" font-size="11.65" text-anchor="middle" fill="#111" stroke="#111" stroke-width="0.12" dominant-baseline="central">Macro-AUC</text>
<rect x="283.54" y="478.5" width="15.3" height="31.3" fill="#A9CFDD" stroke="#2a2a2a" stroke-width="0.9"/>
<line x1="291.19" y1="473.3" x2="291.19" y2="483.5" stroke="#1a1a1a" stroke-width="1"/>
<line x1="288.89" y1="473.3" x2="293.49" y2="473.3" stroke="#1a1a1a" stroke-width="1"/>
<line x1="288.89" y1="483.5" x2="293.49" y2="483.5" stroke="#1a1a1a" stroke-width="1"/>
<rect x="285.24" y="469.75" width="2.9" height="2.9" fill="#c4c4c4" transform="rotate(45 286.69 471.2)"/>
<rect x="289.74" y="469.75" width="2.9" height="2.9" fill="#c4c4c4" transform="rotate(45 291.19 471.2)"/>
<rect x="294.54" y="469.75" width="2.9" height="2.9" fill="#c4c4c4" transform="rotate(45 295.99 471.2)"/>
<rect x="289.74" y="481.05" width="2.9" height="2.9" fill="#c4c4c4" transform="rotate(45 291.19 482.5)"/>
<text transform="translate(294 510) rotate(-90) scale(0.9615 1)" font-size="8.11" text-anchor="start" fill="#111" stroke="#111" stroke-width="0.12">0.5354</text>
<rect x="307.04" y="483.4" width="15.3" height="26.4" fill="#0081A7" stroke="#2a2a2a" stroke-width="0.9"/>
<line x1="314.69" y1="478.2" x2="314.69" y2="488.5" stroke="#1a1a1a" stroke-width="1"/>
<line x1="312.39" y1="478.2" x2="316.99" y2="478.2" stroke="#1a1a1a" stroke-width="1"/>
<line x1="312.39" y1="488.5" x2="316.99" y2="488.5" stroke="#1a1a1a" stroke-width="1"/>
<rect x="313.24" y="464.45" width="2.9" height="2.9" fill="#c4c4c4" transform="rotate(45 314.69 465.9)"/>
<rect x="313.24" y="474.65" width="2.9" height="2.9" fill="#c4c4c4" transform="rotate(45 314.69 476.1)"/>
<rect x="313.24" y="485.85" width="2.9" height="2.9" fill="#c4c4c4" transform="rotate(45 314.69 487.3)"/>
<rect x="313.24" y="490.15" width="2.9" height="2.9" fill="#c4c4c4" transform="rotate(45 314.69 491.6)"/>
<rect x="313.24" y="496.15" width="2.9" height="2.9" fill="#c4c4c4" transform="rotate(45 314.69 497.6)"/>
<text transform="translate(317.5 510) rotate(-90) scale(0.9615 1)" font-size="8.11" text-anchor="start" fill="#111" stroke="#111" stroke-width="0.12">0.5326</text>
<text transform="translate(302.89 518.3) scale(0.9615 1)" font-size="7.59" text-anchor="middle" fill="#111" stroke="#111" stroke-width="0.12">R50</text>
<rect x="341.93" y="471.5" width="15.3" height="38.3" fill="#B0E0E4" stroke="#2a2a2a" stroke-width="0.9"/>
<line x1="349.58" y1="466.3" x2="349.58" y2="476.5" stroke="#1a1a1a" stroke-width="1"/>
<line x1="347.28" y1="466.3" x2="351.88" y2="466.3" stroke="#1a1a1a" stroke-width="1"/>
<line x1="347.28" y1="476.5" x2="351.88" y2="476.5" stroke="#1a1a1a" stroke-width="1"/>
<rect x="348.13" y="454.85" width="2.9" height="2.9" fill="#c4c4c4" transform="rotate(45 349.58 456.3)"/>
<rect x="344.53" y="466.95" width="2.9" height="2.9" fill="#c4c4c4" transform="rotate(45 345.98 468.4)"/>
<rect x="351.73" y="466.95" width="2.9" height="2.9" fill="#c4c4c4" transform="rotate(45 353.18 468.4)"/>
<rect x="348.13" y="475.55" width="2.9" height="2.9" fill="#c4c4c4" transform="rotate(45 349.58 477)"/>
<rect x="348.13" y="485.85" width="2.9" height="2.9" fill="#c4c4c4" transform="rotate(45 349.58 487.3)"/>
<text transform="translate(352.39 510) rotate(-90) scale(0.9615 1)" font-size="8.11" text-anchor="start" fill="#111" stroke="#111" stroke-width="0.12">0.6154</text>
<rect x="365.43" y="469.4" width="15.3" height="40.4" fill="#00AFB9" stroke="#2a2a2a" stroke-width="0.9"/>
<line x1="373.08" y1="465" x2="373.08" y2="474" stroke="#1a1a1a" stroke-width="1"/>
<line x1="370.78" y1="465" x2="375.38" y2="465" stroke="#1a1a1a" stroke-width="1"/>
<line x1="370.78" y1="474" x2="375.38" y2="474" stroke="#1a1a1a" stroke-width="1"/>
<rect x="371.63" y="458.15" width="2.9" height="2.9" fill="#c4c4c4" transform="rotate(45 373.08 459.6)"/>
<rect x="371.63" y="470.55" width="2.9" height="2.9" fill="#c4c4c4" transform="rotate(45 373.08 472)"/>
<rect x="368.13" y="473.55" width="2.9" height="2.9" fill="#c4c4c4" transform="rotate(45 369.58 475)"/>
<rect x="375.73" y="479.05" width="2.9" height="2.9" fill="#c4c4c4" transform="rotate(45 377.18 480.5)"/>
<text transform="translate(375.89 510) rotate(-90) scale(0.9615 1)" font-size="8.11" text-anchor="start" fill="#111" stroke="#111" stroke-width="0.12">0.6316</text>
<text transform="translate(361.28 518.3) scale(0.9615 1)" font-size="7.59" text-anchor="middle" fill="#111" stroke="#111" stroke-width="0.12">PLIP</text>
<rect x="400.31" y="462.4" width="15.3" height="47.4" fill="#FEF6E1" stroke="#2a2a2a" stroke-width="0.9"/>
<line x1="407.96" y1="454.2" x2="407.96" y2="469.4" stroke="#1a1a1a" stroke-width="1"/>
<line x1="405.66" y1="454.2" x2="410.26" y2="454.2" stroke="#1a1a1a" stroke-width="1"/>
<line x1="405.66" y1="469.4" x2="410.26" y2="469.4" stroke="#1a1a1a" stroke-width="1"/>
<rect x="406.51" y="438.15" width="2.9" height="2.9" fill="#c4c4c4" transform="rotate(45 407.96 439.6)"/>
<rect x="406.51" y="448.55" width="2.9" height="2.9" fill="#c4c4c4" transform="rotate(45 407.96 450)"/>
<rect x="406.51" y="464.45" width="2.9" height="2.9" fill="#c4c4c4" transform="rotate(45 407.96 465.9)"/>
<rect x="410.21" y="474.05" width="2.9" height="2.9" fill="#c4c4c4" transform="rotate(45 411.66 475.5)"/>
<rect x="402.91" y="478.15" width="2.9" height="2.9" fill="#c4c4c4" transform="rotate(45 404.36 479.6)"/>
<text transform="translate(410.77 510) rotate(-90) scale(0.9615 1)" font-size="8.11" text-anchor="start" fill="#111" stroke="#111" stroke-width="0.12">0.6819</text>
<rect x="423.81" y="466.4" width="15.3" height="43.4" fill="#FEE9AA" stroke="#2a2a2a" stroke-width="0.9"/>
<line x1="431.46" y1="457.7" x2="431.46" y2="471.5" stroke="#1a1a1a" stroke-width="1"/>
<line x1="429.16" y1="457.7" x2="433.76" y2="457.7" stroke="#1a1a1a" stroke-width="1"/>
<line x1="429.16" y1="471.5" x2="433.76" y2="471.5" stroke="#1a1a1a" stroke-width="1"/>
<rect x="426.21" y="457.05" width="2.9" height="2.9" fill="#c4c4c4" transform="rotate(45 427.66 458.5)"/>
<rect x="430.01" y="459.55" width="2.9" height="2.9" fill="#c4c4c4" transform="rotate(45 431.46 461)"/>
<rect x="434.01" y="456.05" width="2.9" height="2.9" fill="#c4c4c4" transform="rotate(45 435.46 457.5)"/>
<rect x="434.01" y="475.25" width="2.9" height="2.9" fill="#c4c4c4" transform="rotate(45 435.46 476.7)"/>
<rect x="426.21" y="478.55" width="2.9" height="2.9" fill="#c4c4c4" transform="rotate(45 427.66 480)"/>
<text transform="translate(434.27 510) rotate(-90) scale(0.9615 1)" font-size="8.11" text-anchor="start" fill="#111" stroke="#111" stroke-width="0.12">0.6502</text>
<text transform="translate(419.66 518.3) scale(0.9615 1)" font-size="7.59" text-anchor="middle" fill="#111" stroke="#111" stroke-width="0.12">CONCH</text>
<rect x="458.7" y="461.5" width="15.3" height="48.3" fill="#FDEEE3" stroke="#2a2a2a" stroke-width="0.9"/>
<line x1="466.35" y1="454" x2="466.35" y2="469.4" stroke="#1a1a1a" stroke-width="1"/>
<line x1="464.05" y1="454" x2="468.65" y2="454" stroke="#1a1a1a" stroke-width="1"/>
<line x1="464.05" y1="469.4" x2="468.65" y2="469.4" stroke="#1a1a1a" stroke-width="1"/>
<rect x="464.9" y="438.75" width="2.9" height="2.9" fill="#c4c4c4" transform="rotate(45 466.35 440.2)"/>
<rect x="464.9" y="450.05" width="2.9" height="2.9" fill="#c4c4c4" transform="rotate(45 466.35 451.5)"/>
<rect x="464.9" y="458.35" width="2.9" height="2.9" fill="#c4c4c4" transform="rotate(45 466.35 459.8)"/>
<rect x="464.9" y="472.35" width="2.9" height="2.9" fill="#c4c4c4" transform="rotate(45 466.35 473.8)"/>
<rect x="464.9" y="482.05" width="2.9" height="2.9" fill="#c4c4c4" transform="rotate(45 466.35 483.5)"/>
<text transform="translate(469.16 510) rotate(-90) scale(0.9615 1)" font-size="8.11" text-anchor="start" fill="#111" stroke="#111" stroke-width="0.12">0.6841</text>
<rect x="482.2" y="462.4" width="15.3" height="47.4" fill="#FED9B7" stroke="#2a2a2a" stroke-width="0.9"/>
<line x1="489.85" y1="456.3" x2="489.85" y2="468.2" stroke="#1a1a1a" stroke-width="1"/>
<line x1="487.55" y1="456.3" x2="492.15" y2="456.3" stroke="#1a1a1a" stroke-width="1"/>
<line x1="487.55" y1="468.2" x2="492.15" y2="468.2" stroke="#1a1a1a" stroke-width="1"/>
<rect x="488.4" y="446.95" width="2.9" height="2.9" fill="#c4c4c4" transform="rotate(45 489.85 448.4)"/>
<rect x="485" y="454.15" width="2.9" height="2.9" fill="#c4c4c4" transform="rotate(45 486.45 455.6)"/>
<rect x="492.1" y="456.05" width="2.9" height="2.9" fill="#c4c4c4" transform="rotate(45 493.55 457.5)"/>
<rect x="488.4" y="471.05" width="2.9" height="2.9" fill="#c4c4c4" transform="rotate(45 489.85 472.5)"/>
<rect x="488.4" y="477.05" width="2.9" height="2.9" fill="#c4c4c4" transform="rotate(45 489.85 478.5)"/>
<text transform="translate(492.66 510) rotate(-90) scale(0.9615 1)" font-size="8.11" text-anchor="start" fill="#111" stroke="#111" stroke-width="0.12">0.6798</text>
<text transform="translate(478.05 518.3) scale(0.9615 1)" font-size="7.59" text-anchor="middle" fill="#111" stroke="#111" stroke-width="0.12">UNI</text>
<rect x="517.09" y="466.3" width="15.3" height="43.5" fill="#FADFE3" stroke="#2a2a2a" stroke-width="0.9"/>
<line x1="524.74" y1="458.4" x2="524.74" y2="473.3" stroke="#1a1a1a" stroke-width="1"/>
<line x1="522.44" y1="458.4" x2="527.04" y2="458.4" stroke="#1a1a1a" stroke-width="1"/>
<line x1="522.44" y1="473.3" x2="527.04" y2="473.3" stroke="#1a1a1a" stroke-width="1"/>
<rect x="523.29" y="441.65" width="2.9" height="2.9" fill="#c4c4c4" transform="rotate(45 524.74 443.1)"/>
<rect x="519.59" y="461.15" width="2.9" height="2.9" fill="#c4c4c4" transform="rotate(45 521.04 462.6)"/>
<rect x="527.09" y="462.85" width="2.9" height="2.9" fill="#c4c4c4" transform="rotate(45 528.54 464.3)"/>
<rect x="523.29" y="468.85" width="2.9" height="2.9" fill="#c4c4c4" transform="rotate(45 524.74 470.3)"/>
<text transform="translate(527.54 510) rotate(-90) scale(0.9615 1)" font-size="8.11" text-anchor="start" fill="#111" stroke="#111" stroke-width="0.12">0.6535</text>
<rect x="540.59" y="466.8" width="15.3" height="43" fill="#F4ACB7" stroke="#2a2a2a" stroke-width="0.9"/>
<line x1="548.24" y1="460.6" x2="548.24" y2="472.9" stroke="#1a1a1a" stroke-width="1"/>
<line x1="545.94" y1="460.6" x2="550.54" y2="460.6" stroke="#1a1a1a" stroke-width="1"/>
<line x1="545.94" y1="472.9" x2="550.54" y2="472.9" stroke="#1a1a1a" stroke-width="1"/>
<rect x="546.79" y="447.45" width="2.9" height="2.9" fill="#c4c4c4" transform="rotate(45 548.24 448.9)"/>
<rect x="543.09" y="460.75" width="2.9" height="2.9" fill="#c4c4c4" transform="rotate(45 544.54 462.2)"/>
<rect x="550.29" y="460.05" width="2.9" height="2.9" fill="#c4c4c4" transform="rotate(45 551.74 461.5)"/>
<rect x="546.79" y="476.35" width="2.9" height="2.9" fill="#c4c4c4" transform="rotate(45 548.24 477.8)"/>
<rect x="546.79" y="481.75" width="2.9" height="2.9" fill="#c4c4c4" transform="rotate(45 548.24 483.2)"/>
<text transform="translate(551.04 510) rotate(-90) scale(0.9615 1)" font-size="8.11" text-anchor="start" fill="#111" stroke="#111" stroke-width="0.12">0.6486</text>
<text transform="translate(536.44 518.3) scale(0.9615 1)" font-size="7.59" text-anchor="middle" fill="#111" stroke="#111" stroke-width="0.12">CHIEF</text>
<rect x="575.47" y="469.4" width="15.3" height="40.4" fill="#DDD3D5" stroke="#2a2a2a" stroke-width="0.9"/>
<line x1="583.12" y1="461.5" x2="583.12" y2="477.3" stroke="#1a1a1a" stroke-width="1"/>
<line x1="580.82" y1="461.5" x2="585.42" y2="461.5" stroke="#1a1a1a" stroke-width="1"/>
<line x1="580.82" y1="477.3" x2="585.42" y2="477.3" stroke="#1a1a1a" stroke-width="1"/>
<rect x="581.67" y="437.65" width="2.9" height="2.9" fill="#c4c4c4" transform="rotate(45 583.12 439.1)"/>
<rect x="581.67" y="467.55" width="2.9" height="2.9" fill="#c4c4c4" transform="rotate(45 583.12 469)"/>
<rect x="577.97" y="478.85" width="2.9" height="2.9" fill="#c4c4c4" transform="rotate(45 579.42 480.3)"/>
<rect x="585.67" y="474.55" width="2.9" height="2.9" fill="#c4c4c4" transform="rotate(45 587.12 476)"/>
<rect x="581.67" y="484.05" width="2.9" height="2.9" fill="#c4c4c4" transform="rotate(45 583.12 485.5)"/>
<text transform="translate(585.93 510) rotate(-90) scale(0.9615 1)" font-size="8.11" text-anchor="start" fill="#111" stroke="#111" stroke-width="0.12">0.6288</text>
<rect x="598.97" y="469.8" width="15.3" height="40" fill="#9D8189" stroke="#2a2a2a" stroke-width="0.9"/>
<line x1="606.62" y1="462" x2="606.62" y2="477.3" stroke="#1a1a1a" stroke-width="1"/>
<line x1="604.32" y1="462" x2="608.92" y2="462" stroke="#1a1a1a" stroke-width="1"/>
<line x1="604.32" y1="477.3" x2="608.92" y2="477.3" stroke="#1a1a1a" stroke-width="1"/>
<rect x="605.17" y="450.55" width="2.9" height="2.9" fill="#c4c4c4" transform="rotate(45 606.62 452)"/>
<rect x="605.17" y="455.75" width="2.9" height="2.9" fill="#c4c4c4" transform="rotate(45 606.62 457.2)"/>
<rect x="605.17" y="460.75" width="2.9" height="2.9" fill="#c4c4c4" transform="rotate(45 606.62 462.2)"/>
<rect x="605.17" y="479.85" width="2.9" height="2.9" fill="#c4c4c4" transform="rotate(45 606.62 481.3)"/>
<rect x="605.17" y="492.75" width="2.9" height="2.9" fill="#c4c4c4" transform="rotate(45 606.62 494.2)"/>
<text transform="translate(609.43 510) rotate(-90) scale(0.9615 1)" font-size="8.11" text-anchor="start" fill="#111" stroke="#111" stroke-width="0.12">0.6234</text>
<text transform="translate(594.82 518.3) scale(0.9615 1)" font-size="7.59" text-anchor="middle" fill="#111" stroke="#111" stroke-width="0.12">GigaPath</text>
<rect x="633.86" y="457.1" width="15.3" height="52.7" fill="#F8D0CC" stroke="#2a2a2a" stroke-width="0.9"/>
<line x1="641.51" y1="450.1" x2="641.51" y2="464.5" stroke="#1a1a1a" stroke-width="1"/>
<line x1="639.21" y1="450.1" x2="643.81" y2="450.1" stroke="#1a1a1a" stroke-width="1"/>
<line x1="639.21" y1="464.5" x2="643.81" y2="464.5" stroke="#1a1a1a" stroke-width="1"/>
<rect x="640.06" y="438.35" width="2.9" height="2.9" fill="#c4c4c4" transform="rotate(45 641.51 439.8)"/>
<rect x="640.06" y="445.75" width="2.9" height="2.9" fill="#c4c4c4" transform="rotate(45 641.51 447.2)"/>
<rect x="640.06" y="454.85" width="2.9" height="2.9" fill="#c4c4c4" transform="rotate(45 641.51 456.3)"/>
<rect x="640.06" y="460.05" width="2.9" height="2.9" fill="#c4c4c4" transform="rotate(45 641.51 461.5)"/>
<rect x="640.06" y="479.85" width="2.9" height="2.9" fill="#c4c4c4" transform="rotate(45 641.51 481.3)"/>
<text transform="translate(644.32 510) rotate(-90) scale(0.9615 1)" font-size="8.11" text-anchor="start" fill="#111" stroke="#111" stroke-width="0.12">0.7154</text>
<rect x="657.36" y="459.4" width="15.3" height="50.4" fill="#F07167" stroke="#2a2a2a" stroke-width="0.9"/>
<line x1="665.01" y1="454.2" x2="665.01" y2="464.7" stroke="#1a1a1a" stroke-width="1"/>
<line x1="662.71" y1="454.2" x2="667.31" y2="454.2" stroke="#1a1a1a" stroke-width="1"/>
<line x1="662.71" y1="464.7" x2="667.31" y2="464.7" stroke="#1a1a1a" stroke-width="1"/>
<rect x="663.56" y="443.95" width="2.9" height="2.9" fill="#c4c4c4" transform="rotate(45 665.01 445.4)"/>
<rect x="659.86" y="450.95" width="2.9" height="2.9" fill="#c4c4c4" transform="rotate(45 661.31 452.4)"/>
<rect x="667.36" y="455.35" width="2.9" height="2.9" fill="#c4c4c4" transform="rotate(45 668.81 456.8)"/>
<rect x="659.86" y="469.65" width="2.9" height="2.9" fill="#c4c4c4" transform="rotate(45 661.31 471.1)"/>
<rect x="667.36" y="470.95" width="2.9" height="2.9" fill="#c4c4c4" transform="rotate(45 668.81 472.4)"/>
<text transform="translate(667.82 510) rotate(-90) scale(0.9615 1)" font-size="8.11" text-anchor="start" fill="#111" stroke="#111" stroke-width="0.12">0.6990</text>
<text transform="translate(653.21 518.3) scale(0.9615 1)" font-size="7.59" text-anchor="middle" fill="#111" stroke="#111" stroke-width="0.12">mSTAR (Ours)</text>
<text transform="translate(477.7 528.5) scale(0.9615 1)" font-size="10.40" text-anchor="middle" fill="#111" stroke="#111" stroke-width="0.12">Mutation Prediction (Internal &amp; External)</text>
<polyline points="461.4,401.3 461.4,397.2 637.5,397.2 637.5,401.3" fill="none" stroke="#888" stroke-width="0.9"/>
<text transform="translate(549.45 394.75) scale(0.9615 1)" font-size="11.65" text-anchor="middle" fill="#111" stroke="#111" stroke-width="0.12">***</text>
<polyline points="493.5,412.2 493.5,409.4 665.1,409.4 665.1,412.2" fill="none" stroke="#888" stroke-width="0.9"/>
<text transform="translate(579.3 409.65) scale(0.9615 1)" font-size="11.65" text-anchor="middle" fill="#111" stroke="#111" stroke-width="0.12">***</text>
<rect x="274.2" y="564.2" width="408.1" height="17.3" fill="#fff" stroke="#3a3a3a" stroke-width="0.9"/>
<line x1="303.35" y1="564.2" x2="303.35" y2="581.5" stroke="#3a3a3a" stroke-width="0.9"/>
<line x1="332.5" y1="564.2" x2="332.5" y2="581.5" stroke="#3a3a3a" stroke-width="0.9"/>
<line x1="361.65" y1="564.2" x2="361.65" y2="581.5" stroke="#3a3a3a" stroke-width="0.9"/>
<line x1="390.8" y1="564.2" x2="390.8" y2="581.5" stroke="#3a3a3a" stroke-width="0.9"/>
<line x1="419.95" y1="564.2" x2="419.95" y2="581.5" stroke="#3a3a3a" stroke-width="0.9"/>
<line x1="449.1" y1="564.2" x2="449.1" y2="581.5" stroke="#3a3a3a" stroke-width="0.9"/>
<line x1="478.25" y1="564.2" x2="478.25" y2="581.5" stroke="#3a3a3a" stroke-width="0.9"/>
<line x1="507.4" y1="564.2" x2="507.4" y2="581.5" stroke="#3a3a3a" stroke-width="0.9"/>
<line x1="536.55" y1="564.2" x2="536.55" y2="581.5" stroke="#3a3a3a" stroke-width="0.9"/>
<line x1="565.7" y1="564.2" x2="565.7" y2="581.5" stroke="#3a3a3a" stroke-width="0.9"/>
<line x1="594.85" y1="564.2" x2="594.85" y2="581.5" stroke="#3a3a3a" stroke-width="0.9"/>
<line x1="624" y1="564.2" x2="624" y2="581.5" stroke="#3a3a3a" stroke-width="0.9"/>
<line x1="653.15" y1="564.2" x2="653.15" y2="581.5" stroke="#3a3a3a" stroke-width="0.9"/>
<text transform="translate(288.77 577) scale(0.9615 1)" font-size="10.92" text-anchor="middle" fill="#111" stroke="#111" stroke-width="0.12">In</text>
<text transform="translate(317.92 577) scale(0.9615 1)" font-size="10.92" text-anchor="middle" fill="#111" stroke="#111" stroke-width="0.12">Ext</text>
<text transform="translate(347.07 577) scale(0.9615 1)" font-size="10.92" text-anchor="middle" fill="#111" stroke="#111" stroke-width="0.12">In</text>
<text transform="translate(376.22 577) scale(0.9615 1)" font-size="10.92" text-anchor="middle" fill="#111" stroke="#111" stroke-width="0.12">Ext</text>
<text transform="translate(405.38 577) scale(0.9615 1)" font-size="10.92" text-anchor="middle" fill="#111" stroke="#111" stroke-width="0.12">In</text>
<text transform="translate(434.52 577) scale(0.9615 1)" font-size="10.92" text-anchor="middle" fill="#111" stroke="#111" stroke-width="0.12">Ext</text>
<text transform="translate(463.67 577) scale(0.9615 1)" font-size="10.92" text-anchor="middle" fill="#111" stroke="#111" stroke-width="0.12">In</text>
<text transform="translate(492.82 577) scale(0.9615 1)" font-size="10.92" text-anchor="middle" fill="#111" stroke="#111" stroke-width="0.12">Ext</text>
<text transform="translate(521.97 577) scale(0.9615 1)" font-size="10.92" text-anchor="middle" fill="#111" stroke="#111" stroke-width="0.12">In</text>
<text transform="translate(551.12 577) scale(0.9615 1)" font-size="10.92" text-anchor="middle" fill="#111" stroke="#111" stroke-width="0.12">Ext</text>
<text transform="translate(580.27 577) scale(0.9615 1)" font-size="10.92" text-anchor="middle" fill="#111" stroke="#111" stroke-width="0.12">In</text>
<text transform="translate(609.42 577) scale(0.9615 1)" font-size="10.92" text-anchor="middle" fill="#111" stroke="#111" stroke-width="0.12">Ext</text>
<text transform="translate(638.58 577) scale(0.9615 1)" font-size="10.92" text-anchor="middle" fill="#111" stroke="#111" stroke-width="0.12">In</text>
<text transform="translate(667.72 577) scale(0.9615 1)" font-size="10.92" text-anchor="middle" fill="#111" stroke="#111" stroke-width="0.12">Ext</text>
<line x1="332.5" y1="582.5" x2="332.5" y2="663.9" stroke="#c8c8c8" stroke-width="0.8" stroke-dasharray="2.4,2.4"/>
<line x1="390.5" y1="582.5" x2="390.5" y2="663.9" stroke="#c8c8c8" stroke-width="0.8" stroke-dasharray="2.4,2.4"/>
<line x1="449.5" y1="582.5" x2="449.5" y2="663.9" stroke="#c8c8c8" stroke-width="0.8" stroke-dasharray="2.4,2.4"/>
<line x1="507.5" y1="582.5" x2="507.5" y2="663.9" stroke="#c8c8c8" stroke-width="0.8" stroke-dasharray="2.4,2.4"/>
<line x1="565.5" y1="582.5" x2="565.5" y2="663.9" stroke="#c8c8c8" stroke-width="0.8" stroke-dasharray="2.4,2.4"/>
<line x1="624.5" y1="582.5" x2="624.5" y2="663.9" stroke="#c8c8c8" stroke-width="0.8" stroke-dasharray="2.4,2.4"/>
<line x1="274.2" y1="590.6" x2="682.3" y2="590.6" stroke="#d4d4d4" stroke-width="0.8" stroke-dasharray="1.4,1.7"/>
<line x1="274.2" y1="632.2" x2="682.3" y2="632.2" stroke="#d4d4d4" stroke-width="0.8" stroke-dasharray="1.4,1.7"/>
<line x1="274.2" y1="581.5" x2="274.2" y2="663.9" stroke="#444" stroke-width="0.9"/>
<line x1="274.2" y1="663.9" x2="682.3" y2="663.9" stroke="#444" stroke-width="0.9"/>
<line x1="682.3" y1="581.5" x2="682.3" y2="663.9" stroke="#888" stroke-width="0.9"/>
<line x1="270.7" y1="590.6" x2="274.2" y2="590.6" stroke="#444" stroke-width="0.7"/>
<line x1="270.7" y1="611.4" x2="274.2" y2="611.4" stroke="#444" stroke-width="0.7"/>
<line x1="270.7" y1="632.2" x2="274.2" y2="632.2" stroke="#444" stroke-width="0.7"/>
<line x1="270.7" y1="653" x2="274.2" y2="653" stroke="#444" stroke-width="0.7"/>
<text transform="translate(265.2 594.4) scale(0.9615 1)" font-size="11.02" text-anchor="end" fill="#111" stroke="#111" stroke-width="0.12">0.84</text>
<text transform="translate(265.2 636) scale(0.9615 1)" font-size="11.02" text-anchor="end" fill="#111" stroke="#111" stroke-width="0.12">0.56</text>
<text transform="translate(235.2 614.05) rotate(-90) scale(0.9615 1)" font-size="11.65" text-anchor="middle" fill="#111" stroke="#111" stroke-width="0.12" dominant-baseline="central">Macro-AUC</text>
<rect x="282.25" y="628" width="18.8" height="35.9" fill="#A9CFDD" stroke="#2a2a2a" stroke-width="0.9"/>
<line x1="291.65" y1="619.5" x2="291.65" y2="636.2" stroke="#1a1a1a" stroke-width="1"/>
<line x1="289.35" y1="619.5" x2="293.95" y2="619.5" stroke="#1a1a1a" stroke-width="1"/>
<line x1="289.35" y1="636.2" x2="293.95" y2="636.2" stroke="#1a1a1a" stroke-width="1"/>
<rect x="290.2" y="612.35" width="2.9" height="2.9" fill="#c4c4c4" transform="rotate(45 291.65 613.8)"/>
<rect x="290.2" y="626.55" width="2.9" height="2.9" fill="#c4c4c4" transform="rotate(45 291.65 628)"/>
<rect x="290.2" y="640.85" width="2.9" height="2.9" fill="#c4c4c4" transform="rotate(45 291.65 642.3)"/>
<text transform="translate(294.57 664.1) rotate(-90) scale(0.9615 1)" font-size="8.42" text-anchor="start" fill="#111" stroke="#111" stroke-width="0.12">0.590</text>
<rect x="305.75" y="642.3" width="18.8" height="21.6" fill="#0081A7" stroke="#2a2a2a" stroke-width="0.9"/>
<line x1="315.15" y1="629.5" x2="315.15" y2="655" stroke="#1a1a1a" stroke-width="1"/>
<line x1="312.85" y1="629.5" x2="317.45" y2="629.5" stroke="#1a1a1a" stroke-width="1"/>
<line x1="312.85" y1="655" x2="317.45" y2="655" stroke="#1a1a1a" stroke-width="1"/>
<rect x="313.7" y="614.85" width="2.9" height="2.9" fill="#c4c4c4" transform="rotate(45 315.15 616.3)"/>
<rect x="313.7" y="650.55" width="2.9" height="2.9" fill="#c4c4c4" transform="rotate(45 315.15 652)"/>
<rect x="313.7" y="657.05" width="2.9" height="2.9" fill="#c4c4c4" transform="rotate(45 315.15 658.5)"/>
<text transform="translate(318.07 664.1) rotate(-90) scale(0.9615 1)" font-size="8.42" text-anchor="start" fill="#111" stroke="#111" stroke-width="0.12">0.433</text>
<text transform="translate(303.35 672.8) scale(0.9615 1)" font-size="8.22" text-anchor="middle" fill="#111" stroke="#111" stroke-width="0.12">R50</text>
<rect x="340.55" y="613.1" width="18.8" height="50.8" fill="#B0E0E4" stroke="#2a2a2a" stroke-width="0.9"/>
<line x1="349.95" y1="598.2" x2="349.95" y2="628" stroke="#1a1a1a" stroke-width="1"/>
<line x1="347.65" y1="598.2" x2="352.25" y2="598.2" stroke="#1a1a1a" stroke-width="1"/>
<line x1="347.65" y1="628" x2="352.25" y2="628" stroke="#1a1a1a" stroke-width="1"/>
<rect x="348.5" y="585.85" width="2.9" height="2.9" fill="#c4c4c4" transform="rotate(45 349.95 587.3)"/>
<rect x="348.5" y="613.15" width="2.9" height="2.9" fill="#c4c4c4" transform="rotate(45 349.95 614.6)"/>
<rect x="348.5" y="636.75" width="2.9" height="2.9" fill="#c4c4c4" transform="rotate(45 349.95 638.2)"/>
<text transform="translate(352.87 664.1) rotate(-90) scale(0.9615 1)" font-size="8.42" text-anchor="start" fill="#111" stroke="#111" stroke-width="0.12">0.690</text>
<rect x="364.05" y="622.2" width="18.8" height="41.7" fill="#00AFB9" stroke="#2a2a2a" stroke-width="0.9"/>
<line x1="373.45" y1="613.4" x2="373.45" y2="631.5" stroke="#1a1a1a" stroke-width="1"/>
<line x1="371.15" y1="613.4" x2="375.75" y2="613.4" stroke="#1a1a1a" stroke-width="1"/>
<line x1="371.15" y1="631.5" x2="375.75" y2="631.5" stroke="#1a1a1a" stroke-width="1"/>
<rect x="372" y="605.05" width="2.9" height="2.9" fill="#c4c4c4" transform="rotate(45 373.45 606.5)"/>
<rect x="372" y="620.85" width="2.9" height="2.9" fill="#c4c4c4" transform="rotate(45 373.45 622.3)"/>
<rect x="372" y="636.55" width="2.9" height="2.9" fill="#c4c4c4" transform="rotate(45 373.45 638)"/>
<text transform="translate(376.37 664.1) rotate(-90) scale(0.9615 1)" font-size="8.42" text-anchor="start" fill="#111" stroke="#111" stroke-width="0.12">0.629</text>
<text transform="translate(361.65 672.8) scale(0.9615 1)" font-size="8.22" text-anchor="middle" fill="#111" stroke="#111" stroke-width="0.12">PLIP</text>
<rect x="398.85" y="618.3" width="18.8" height="45.6" fill="#FEF6E1" stroke="#2a2a2a" stroke-width="0.9"/>
<line x1="408.25" y1="602.4" x2="408.25" y2="635.3" stroke="#1a1a1a" stroke-width="1"/>
<line x1="405.95" y1="602.4" x2="410.55" y2="602.4" stroke="#1a1a1a" stroke-width="1"/>
<line x1="405.95" y1="635.3" x2="410.55" y2="635.3" stroke="#1a1a1a" stroke-width="1"/>
<rect x="406.8" y="585.15" width="2.9" height="2.9" fill="#c4c4c4" transform="rotate(45 408.25 586.6)"/>
<rect x="411.4" y="627.15" width="2.9" height="2.9" fill="#c4c4c4" transform="rotate(45 412.85 628.6)"/>
<rect x="402.2" y="639.15" width="2.9" height="2.9" fill="#c4c4c4" transform="rotate(45 403.65 640.6)"/>
<text transform="translate(411.17 664.1) rotate(-90) scale(0.9615 1)" font-size="8.42" text-anchor="start" fill="#111" stroke="#111" stroke-width="0.12">0.654</text>
<rect x="422.35" y="615.2" width="18.8" height="48.7" fill="#FEE9AA" stroke="#2a2a2a" stroke-width="0.9"/>
<line x1="431.75" y1="602.4" x2="431.75" y2="627.4" stroke="#1a1a1a" stroke-width="1"/>
<line x1="429.45" y1="602.4" x2="434.05" y2="602.4" stroke="#1a1a1a" stroke-width="1"/>
<line x1="429.45" y1="627.4" x2="434.05" y2="627.4" stroke="#1a1a1a" stroke-width="1"/>
<rect x="430.3" y="590.05" width="2.9" height="2.9" fill="#c4c4c4" transform="rotate(45 431.75 591.5)"/>
<rect x="430.3" y="617.35" width="2.9" height="2.9" fill="#c4c4c4" transform="rotate(45 431.75 618.8)"/>
<rect x="430.3" y="633.35" width="2.9" height="2.9" fill="#c4c4c4" transform="rotate(45 431.75 634.8)"/>
<text transform="translate(434.67 664.1) rotate(-90) scale(0.9615 1)" font-size="8.42" text-anchor="start" fill="#111" stroke="#111" stroke-width="0.12">0.677</text>
<text transform="translate(419.95 672.8) scale(0.9615 1)" font-size="8.22" text-anchor="middle" fill="#111" stroke="#111" stroke-width="0.12">CONCH</text>
<rect x="457.15" y="608.2" width="18.8" height="55.7" fill="#FDEEE3" stroke="#2a2a2a" stroke-width="0.9"/>
<line x1="466.55" y1="590.6" x2="466.55" y2="625.7" stroke="#1a1a1a" stroke-width="1"/>
<line x1="464.25" y1="590.6" x2="468.85" y2="590.6" stroke="#1a1a1a" stroke-width="1"/>
<line x1="464.25" y1="625.7" x2="468.85" y2="625.7" stroke="#1a1a1a" stroke-width="1"/>
<rect x="465.1" y="600.95" width="2.9" height="2.9" fill="#c4c4c4" transform="rotate(45 466.55 602.4)"/>
<rect x="465.1" y="639.55" width="2.9" height="2.9" fill="#c4c4c4" transform="rotate(45 466.55 641)"/>
<text transform="translate(469.47 664.1) rotate(-90) scale(0.9615 1)" font-size="8.42" text-anchor="start" fill="#111" stroke="#111" stroke-width="0.12">0.723</text>
<rect x="480.65" y="616.6" width="18.8" height="47.3" fill="#FED9B7" stroke="#2a2a2a" stroke-width="0.9"/>
<line x1="490.05" y1="603.8" x2="490.05" y2="629.7" stroke="#1a1a1a" stroke-width="1"/>
<line x1="487.75" y1="603.8" x2="492.35" y2="603.8" stroke="#1a1a1a" stroke-width="1"/>
<line x1="487.75" y1="629.7" x2="492.35" y2="629.7" stroke="#1a1a1a" stroke-width="1"/>
<rect x="488.6" y="590.05" width="2.9" height="2.9" fill="#c4c4c4" transform="rotate(45 490.05 591.5)"/>
<rect x="488.6" y="622.85" width="2.9" height="2.9" fill="#c4c4c4" transform="rotate(45 490.05 624.3)"/>
<rect x="488.6" y="632.95" width="2.9" height="2.9" fill="#c4c4c4" transform="rotate(45 490.05 634.4)"/>
<text transform="translate(492.97 664.1) rotate(-90) scale(0.9615 1)" font-size="8.42" text-anchor="start" fill="#111" stroke="#111" stroke-width="0.12">0.666</text>
<text transform="translate(478.25 672.8) scale(0.9615 1)" font-size="8.22" text-anchor="middle" fill="#111" stroke="#111" stroke-width="0.12">UNI</text>
<rect x="515.45" y="612.5" width="18.8" height="51.4" fill="#FADFE3" stroke="#2a2a2a" stroke-width="0.9"/>
<line x1="524.85" y1="597.3" x2="524.85" y2="628" stroke="#1a1a1a" stroke-width="1"/>
<line x1="522.55" y1="597.3" x2="527.15" y2="597.3" stroke="#1a1a1a" stroke-width="1"/>
<line x1="522.55" y1="628" x2="527.15" y2="628" stroke="#1a1a1a" stroke-width="1"/>
<rect x="523.4" y="584.85" width="2.9" height="2.9" fill="#c4c4c4" transform="rotate(45 524.85 586.3)"/>
<rect x="523.4" y="611.05" width="2.9" height="2.9" fill="#c4c4c4" transform="rotate(45 524.85 612.5)"/>
<rect x="523.4" y="638.25" width="2.9" height="2.9" fill="#c4c4c4" transform="rotate(45 524.85 639.7)"/>
<text transform="translate(527.77 664.1) rotate(-90) scale(0.9615 1)" font-size="8.42" text-anchor="start" fill="#111" stroke="#111" stroke-width="0.12">0.692</text>
<rect x="538.95" y="615.7" width="18.8" height="48.2" fill="#F4ACB7" stroke="#2a2a2a" stroke-width="0.9"/>
<line x1="548.35" y1="603.3" x2="548.35" y2="628" stroke="#1a1a1a" stroke-width="1"/>
<line x1="546.05" y1="603.3" x2="550.65" y2="603.3" stroke="#1a1a1a" stroke-width="1"/>
<line x1="546.05" y1="628" x2="550.65" y2="628" stroke="#1a1a1a" stroke-width="1"/>
<rect x="546.9" y="590.55" width="2.9" height="2.9" fill="#c4c4c4" transform="rotate(45 548.35 592)"/>
<rect x="546.9" y="618.95" width="2.9" height="2.9" fill="#c4c4c4" transform="rotate(45 548.35 620.4)"/>
<rect x="546.9" y="633.35" width="2.9" height="2.9" fill="#c4c4c4" transform="rotate(45 548.35 634.8)"/>
<text transform="translate(551.27 664.1) rotate(-90) scale(0.9615 1)" font-size="8.42" text-anchor="start" fill="#111" stroke="#111" stroke-width="0.12">0.673</text>
<text transform="translate(536.55 672.8) scale(0.9615 1)" font-size="8.22" text-anchor="middle" fill="#111" stroke="#111" stroke-width="0.12">CHIEF</text>
<rect x="573.75" y="616.4" width="18.8" height="47.5" fill="#DDD3D5" stroke="#2a2a2a" stroke-width="0.9"/>
<line x1="583.15" y1="601.2" x2="583.15" y2="631.5" stroke="#1a1a1a" stroke-width="1"/>
<line x1="580.85" y1="601.2" x2="585.45" y2="601.2" stroke="#1a1a1a" stroke-width="1"/>
<line x1="580.85" y1="631.5" x2="585.45" y2="631.5" stroke="#1a1a1a" stroke-width="1"/>
<rect x="581.7" y="585.85" width="2.9" height="2.9" fill="#c4c4c4" transform="rotate(45 583.15 587.3)"/>
<rect x="581.7" y="621.85" width="2.9" height="2.9" fill="#c4c4c4" transform="rotate(45 583.15 623.3)"/>
<rect x="581.7" y="636.75" width="2.9" height="2.9" fill="#c4c4c4" transform="rotate(45 583.15 638.2)"/>
<text transform="translate(586.07 664.1) rotate(-90) scale(0.9615 1)" font-size="8.42" text-anchor="start" fill="#111" stroke="#111" stroke-width="0.12">0.668</text>
<rect x="597.25" y="618.7" width="18.8" height="45.2" fill="#9D8189" stroke="#2a2a2a" stroke-width="0.9"/>
<line x1="606.65" y1="603.3" x2="606.65" y2="634.4" stroke="#1a1a1a" stroke-width="1"/>
<line x1="604.35" y1="603.3" x2="608.95" y2="603.3" stroke="#1a1a1a" stroke-width="1"/>
<line x1="604.35" y1="634.4" x2="608.95" y2="634.4" stroke="#1a1a1a" stroke-width="1"/>
<rect x="605.2" y="588.65" width="2.9" height="2.9" fill="#c4c4c4" transform="rotate(45 606.65 590.1)"/>
<rect x="605.2" y="621.85" width="2.9" height="2.9" fill="#c4c4c4" transform="rotate(45 606.65 623.3)"/>
<rect x="605.2" y="641.15" width="2.9" height="2.9" fill="#c4c4c4" transform="rotate(45 606.65 642.6)"/>
<text transform="translate(609.57 664.1) rotate(-90) scale(0.9615 1)" font-size="8.42" text-anchor="start" fill="#111" stroke="#111" stroke-width="0.12">0.652</text>
<text transform="translate(594.85 672.8) scale(0.9615 1)" font-size="8.22" text-anchor="middle" fill="#111" stroke="#111" stroke-width="0.12">GigaPath</text>
<rect x="632.05" y="605.5" width="18.8" height="58.4" fill="#F8D0CC" stroke="#2a2a2a" stroke-width="0.9"/>
<line x1="641.45" y1="587.7" x2="641.45" y2="623" stroke="#1a1a1a" stroke-width="1"/>
<line x1="639.15" y1="587.7" x2="643.75" y2="587.7" stroke="#1a1a1a" stroke-width="1"/>
<line x1="639.15" y1="623" x2="643.75" y2="623" stroke="#1a1a1a" stroke-width="1"/>
<rect x="640" y="599.95" width="2.9" height="2.9" fill="#c4c4c4" transform="rotate(45 641.45 601.4)"/>
<rect x="640" y="636.05" width="2.9" height="2.9" fill="#c4c4c4" transform="rotate(45 641.45 637.5)"/>
<text transform="translate(644.37 664.1) rotate(-90) scale(0.9615 1)" font-size="8.42" text-anchor="start" fill="#111" stroke="#111" stroke-width="0.12">0.741</text>
<rect x="655.55" y="613.4" width="18.8" height="50.5" fill="#F07167" stroke="#2a2a2a" stroke-width="0.9"/>
<line x1="664.95" y1="600.6" x2="664.95" y2="626.2" stroke="#1a1a1a" stroke-width="1"/>
<line x1="662.65" y1="600.6" x2="667.25" y2="600.6" stroke="#1a1a1a" stroke-width="1"/>
<line x1="662.65" y1="626.2" x2="667.25" y2="626.2" stroke="#1a1a1a" stroke-width="1"/>
<rect x="663.5" y="587.45" width="2.9" height="2.9" fill="#c4c4c4" transform="rotate(45 664.95 588.9)"/>
<rect x="663.5" y="618.65" width="2.9" height="2.9" fill="#c4c4c4" transform="rotate(45 664.95 620.1)"/>
<rect x="663.5" y="630.15" width="2.9" height="2.9" fill="#c4c4c4" transform="rotate(45 664.95 631.6)"/>
<text transform="translate(667.87 664.1) rotate(-90) scale(0.9615 1)" font-size="8.42" text-anchor="start" fill="#111" stroke="#111" stroke-width="0.12">0.688</text>
<text transform="translate(653.15 672.8) scale(0.9615 1)" font-size="8.22" text-anchor="middle" fill="#111" stroke="#111" stroke-width="0.12">mSTAR (Ours)</text>
<text transform="translate(478.3 683.5) scale(0.9615 1)" font-size="10.76" text-anchor="middle" fill="#111" stroke="#111" stroke-width="0.12">IHC Biomarker Prediction (Internal &amp; External)</text>
<polyline points="461.4,551.3 461.4,547.1 637.5,547.1 637.5,551.3" fill="none" stroke="#888" stroke-width="0.9"/>
<text transform="translate(549.45 544.55) scale(0.9615 1)" font-size="11.65" text-anchor="middle" fill="#111" stroke="#111" stroke-width="0.12">***</text>
<polyline points="493.5,562.7 493.5,559.9 665.1,559.9 665.1,562.7" fill="none" stroke="#888" stroke-width="0.9"/>
<text transform="translate(579.3 559.85) scale(0.9615 1)" font-size="11.65" text-anchor="middle" fill="#111" stroke="#111" stroke-width="0.12">***</text>
<rect x="272.5" y="720" width="409.8" height="17.5" fill="#fff" stroke="#3a3a3a" stroke-width="0.9"/>
<line x1="301.77" y1="720" x2="301.77" y2="737.5" stroke="#3a3a3a" stroke-width="0.9"/>
<line x1="331.04" y1="720" x2="331.04" y2="737.5" stroke="#3a3a3a" stroke-width="0.9"/>
<line x1="360.31" y1="720" x2="360.31" y2="737.5" stroke="#3a3a3a" stroke-width="0.9"/>
<line x1="389.59" y1="720" x2="389.59" y2="737.5" stroke="#3a3a3a" stroke-width="0.9"/>
<line x1="418.86" y1="720" x2="418.86" y2="737.5" stroke="#3a3a3a" stroke-width="0.9"/>
<line x1="448.13" y1="720" x2="448.13" y2="737.5" stroke="#3a3a3a" stroke-width="0.9"/>
<line x1="477.4" y1="720" x2="477.4" y2="737.5" stroke="#3a3a3a" stroke-width="0.9"/>
<line x1="506.67" y1="720" x2="506.67" y2="737.5" stroke="#3a3a3a" stroke-width="0.9"/>
<line x1="535.94" y1="720" x2="535.94" y2="737.5" stroke="#3a3a3a" stroke-width="0.9"/>
<line x1="565.21" y1="720" x2="565.21" y2="737.5" stroke="#3a3a3a" stroke-width="0.9"/>
<line x1="594.49" y1="720" x2="594.49" y2="737.5" stroke="#3a3a3a" stroke-width="0.9"/>
<line x1="623.76" y1="720" x2="623.76" y2="737.5" stroke="#3a3a3a" stroke-width="0.9"/>
<line x1="653.03" y1="720" x2="653.03" y2="737.5" stroke="#3a3a3a" stroke-width="0.9"/>
<text transform="translate(287.14 733) scale(0.9615 1)" font-size="10.92" text-anchor="middle" fill="#111" stroke="#111" stroke-width="0.12">In</text>
<text transform="translate(316.41 733) scale(0.9615 1)" font-size="10.92" text-anchor="middle" fill="#111" stroke="#111" stroke-width="0.12">Ext</text>
<text transform="translate(345.68 733) scale(0.9615 1)" font-size="10.92" text-anchor="middle" fill="#111" stroke="#111" stroke-width="0.12">In</text>
<text transform="translate(374.95 733) scale(0.9615 1)" font-size="10.92" text-anchor="middle" fill="#111" stroke="#111" stroke-width="0.12">Ext</text>
<text transform="translate(404.22 733) scale(0.9615 1)" font-size="10.92" text-anchor="middle" fill="#111" stroke="#111" stroke-width="0.12">In</text>
<text transform="translate(433.49 733) scale(0.9615 1)" font-size="10.92" text-anchor="middle" fill="#111" stroke="#111" stroke-width="0.12">Ext</text>
<text transform="translate(462.76 733) scale(0.9615 1)" font-size="10.92" text-anchor="middle" fill="#111" stroke="#111" stroke-width="0.12">In</text>
<text transform="translate(492.04 733) scale(0.9615 1)" font-size="10.92" text-anchor="middle" fill="#111" stroke="#111" stroke-width="0.12">Ext</text>
<text transform="translate(521.31 733) scale(0.9615 1)" font-size="10.92" text-anchor="middle" fill="#111" stroke="#111" stroke-width="0.12">In</text>
<text transform="translate(550.58 733) scale(0.9615 1)" font-size="10.92" text-anchor="middle" fill="#111" stroke="#111" stroke-width="0.12">Ext</text>
<text transform="translate(579.85 733) scale(0.9615 1)" font-size="10.92" text-anchor="middle" fill="#111" stroke="#111" stroke-width="0.12">In</text>
<text transform="translate(609.12 733) scale(0.9615 1)" font-size="10.92" text-anchor="middle" fill="#111" stroke="#111" stroke-width="0.12">Ext</text>
<text transform="translate(638.39 733) scale(0.9615 1)" font-size="10.92" text-anchor="middle" fill="#111" stroke="#111" stroke-width="0.12">In</text>
<text transform="translate(667.66 733) scale(0.9615 1)" font-size="10.92" text-anchor="middle" fill="#111" stroke="#111" stroke-width="0.12">Ext</text>
<line x1="331.5" y1="738.5" x2="331.5" y2="820" stroke="#c8c8c8" stroke-width="0.8" stroke-dasharray="2.4,2.4"/>
<line x1="389.5" y1="738.5" x2="389.5" y2="820" stroke="#c8c8c8" stroke-width="0.8" stroke-dasharray="2.4,2.4"/>
<line x1="448.5" y1="738.5" x2="448.5" y2="820" stroke="#c8c8c8" stroke-width="0.8" stroke-dasharray="2.4,2.4"/>
<line x1="506.5" y1="738.5" x2="506.5" y2="820" stroke="#c8c8c8" stroke-width="0.8" stroke-dasharray="2.4,2.4"/>
<line x1="565.5" y1="738.5" x2="565.5" y2="820" stroke="#c8c8c8" stroke-width="0.8" stroke-dasharray="2.4,2.4"/>
<line x1="623.5" y1="738.5" x2="623.5" y2="820" stroke="#c8c8c8" stroke-width="0.8" stroke-dasharray="2.4,2.4"/>
<line x1="272.5" y1="778.75" x2="682.3" y2="778.75" stroke="#d4d4d4" stroke-width="0.8" stroke-dasharray="1.4,1.7"/>
<line x1="272.5" y1="737.5" x2="272.5" y2="820" stroke="#444" stroke-width="0.9"/>
<line x1="272.5" y1="820" x2="682.3" y2="820" stroke="#444" stroke-width="0.9"/>
<line x1="682.3" y1="737.5" x2="682.3" y2="820" stroke="#888" stroke-width="0.9"/>
<line x1="269" y1="737.5" x2="272.5" y2="737.5" stroke="#444" stroke-width="0.7"/>
<line x1="269" y1="758.12" x2="272.5" y2="758.12" stroke="#444" stroke-width="0.7"/>
<line x1="269" y1="778.75" x2="272.5" y2="778.75" stroke="#444" stroke-width="0.7"/>
<line x1="269" y1="799.38" x2="272.5" y2="799.38" stroke="#444" stroke-width="0.7"/>
<line x1="269" y1="820" x2="272.5" y2="820" stroke="#444" stroke-width="0.7"/>
<text transform="translate(264.7 741.3) scale(0.9615 1)" font-size="11.02" text-anchor="end" fill="#111" stroke="#111" stroke-width="0.12">1.0</text>
<text transform="translate(264.7 782.55) scale(0.9615 1)" font-size="11.02" text-anchor="end" fill="#111" stroke="#111" stroke-width="0.12">0.8</text>
<text transform="translate(264.7 823.8) scale(0.9615 1)" font-size="11.02" text-anchor="end" fill="#111" stroke="#111" stroke-width="0.12">0.6</text>
<text transform="translate(239.4 770) rotate(-90) scale(0.9615 1)" font-size="11.65" text-anchor="middle" fill="#111" stroke="#111" stroke-width="0.12" dominant-baseline="central">Macro-AUC</text>
<rect x="280.57" y="773.4" width="19" height="46.6" fill="#A9CFDD" stroke="#2a2a2a" stroke-width="0.9"/>
<line x1="290.07" y1="758.6" x2="290.07" y2="788.4" stroke="#1a1a1a" stroke-width="1"/>
<line x1="287.77" y1="758.6" x2="292.37" y2="758.6" stroke="#1a1a1a" stroke-width="1"/>
<line x1="287.77" y1="788.4" x2="292.37" y2="788.4" stroke="#1a1a1a" stroke-width="1"/>
<rect x="288.62" y="750.05" width="2.9" height="2.9" fill="#c4c4c4" transform="rotate(45 290.07 751.5)"/>
<rect x="288.62" y="766.55" width="2.9" height="2.9" fill="#c4c4c4" transform="rotate(45 290.07 768)"/>
<rect x="288.62" y="799.35" width="2.9" height="2.9" fill="#c4c4c4" transform="rotate(45 290.07 800.8)"/>
<text transform="translate(292.95 820.2) rotate(-90) scale(0.9615 1)" font-size="8.32" text-anchor="start" fill="#111" stroke="#111" stroke-width="0.12">0.820</text>
<rect x="304.07" y="807.7" width="19" height="12.3" fill="#0081A7" stroke="#2a2a2a" stroke-width="0.9"/>
<line x1="313.57" y1="800.8" x2="313.57" y2="813.5" stroke="#1a1a1a" stroke-width="1"/>
<line x1="311.27" y1="800.8" x2="315.87" y2="800.8" stroke="#1a1a1a" stroke-width="1"/>
<line x1="311.27" y1="813.5" x2="315.87" y2="813.5" stroke="#1a1a1a" stroke-width="1"/>
<rect x="312.12" y="796.25" width="2.9" height="2.9" fill="#c4c4c4" transform="rotate(45 313.57 797.7)"/>
<rect x="312.12" y="801.55" width="2.9" height="2.9" fill="#c4c4c4" transform="rotate(45 313.57 803)"/>
<rect x="312.12" y="808.55" width="2.9" height="2.9" fill="#c4c4c4" transform="rotate(45 313.57 810)"/>
<text transform="translate(316.45 820.2) rotate(-90) scale(0.9615 1)" font-size="8.32" text-anchor="start" fill="#111" stroke="#111" stroke-width="0.12">0.663</text>
<text transform="translate(301.77 829) scale(0.9615 1)" font-size="8.22" text-anchor="middle" fill="#111" stroke="#111" stroke-width="0.12">R50</text>
<rect x="339.11" y="759.4" width="19" height="60.6" fill="#B0E0E4" stroke="#2a2a2a" stroke-width="0.9"/>
<line x1="348.61" y1="744.5" x2="348.61" y2="773.4" stroke="#1a1a1a" stroke-width="1"/>
<line x1="346.31" y1="744.5" x2="350.91" y2="744.5" stroke="#1a1a1a" stroke-width="1"/>
<line x1="346.31" y1="773.4" x2="350.91" y2="773.4" stroke="#1a1a1a" stroke-width="1"/>
<rect x="347.16" y="740.05" width="2.9" height="2.9" fill="#c4c4c4" transform="rotate(45 348.61 741.5)"/>
<rect x="347.16" y="746.85" width="2.9" height="2.9" fill="#c4c4c4" transform="rotate(45 348.61 748.3)"/>
<rect x="347.16" y="786.35" width="2.9" height="2.9" fill="#c4c4c4" transform="rotate(45 348.61 787.8)"/>
<text transform="translate(351.49 820.2) rotate(-90) scale(0.9615 1)" font-size="8.32" text-anchor="start" fill="#111" stroke="#111" stroke-width="0.12">0.895</text>
<rect x="362.61" y="784.4" width="19" height="35.6" fill="#00AFB9" stroke="#2a2a2a" stroke-width="0.9"/>
<line x1="372.11" y1="770.4" x2="372.11" y2="797.6" stroke="#1a1a1a" stroke-width="1"/>
<line x1="369.81" y1="770.4" x2="374.41" y2="770.4" stroke="#1a1a1a" stroke-width="1"/>
<line x1="369.81" y1="797.6" x2="374.41" y2="797.6" stroke="#1a1a1a" stroke-width="1"/>
<rect x="370.66" y="755.15" width="2.9" height="2.9" fill="#c4c4c4" transform="rotate(45 372.11 756.6)"/>
<rect x="370.66" y="796.15" width="2.9" height="2.9" fill="#c4c4c4" transform="rotate(45 372.11 797.6)"/>
<rect x="370.66" y="800.55" width="2.9" height="2.9" fill="#c4c4c4" transform="rotate(45 372.11 802)"/>
<text transform="translate(374.99 820.2) rotate(-90) scale(0.9615 1)" font-size="8.32" text-anchor="start" fill="#111" stroke="#111" stroke-width="0.12">0.772</text>
<text transform="translate(360.31 829) scale(0.9615 1)" font-size="8.22" text-anchor="middle" fill="#111" stroke="#111" stroke-width="0.12">PLIP</text>
<rect x="397.66" y="755.2" width="19" height="64.8" fill="#FEF6E1" stroke="#2a2a2a" stroke-width="0.9"/>
<line x1="407.16" y1="744.5" x2="407.16" y2="766" stroke="#1a1a1a" stroke-width="1"/>
<line x1="404.86" y1="744.5" x2="409.46" y2="744.5" stroke="#1a1a1a" stroke-width="1"/>
<line x1="404.86" y1="766" x2="409.46" y2="766" stroke="#1a1a1a" stroke-width="1"/>
<rect x="401.11" y="745.35" width="2.9" height="2.9" fill="#c4c4c4" transform="rotate(45 402.56 746.8)"/>
<rect x="410.11" y="741.35" width="2.9" height="2.9" fill="#c4c4c4" transform="rotate(45 411.56 742.8)"/>
<rect x="405.71" y="774.95" width="2.9" height="2.9" fill="#c4c4c4" transform="rotate(45 407.16 776.4)"/>
<text transform="translate(410.04 820.2) rotate(-90) scale(0.9615 1)" font-size="8.32" text-anchor="start" fill="#111" stroke="#111" stroke-width="0.12">0.915</text>
<rect x="421.16" y="774.4" width="19" height="45.6" fill="#FEE9AA" stroke="#2a2a2a" stroke-width="0.9"/>
<line x1="430.66" y1="762.2" x2="430.66" y2="786.5" stroke="#1a1a1a" stroke-width="1"/>
<line x1="428.36" y1="762.2" x2="432.96" y2="762.2" stroke="#1a1a1a" stroke-width="1"/>
<line x1="428.36" y1="786.5" x2="432.96" y2="786.5" stroke="#1a1a1a" stroke-width="1"/>
<rect x="429.21" y="752.15" width="2.9" height="2.9" fill="#c4c4c4" transform="rotate(45 430.66 753.6)"/>
<rect x="429.21" y="773.55" width="2.9" height="2.9" fill="#c4c4c4" transform="rotate(45 430.66 775)"/>
<rect x="429.21" y="793.05" width="2.9" height="2.9" fill="#c4c4c4" transform="rotate(45 430.66 794.5)"/>
<text transform="translate(433.54 820.2) rotate(-90) scale(0.9615 1)" font-size="8.32" text-anchor="start" fill="#111" stroke="#111" stroke-width="0.12">0.821</text>
<text transform="translate(418.86 829) scale(0.9615 1)" font-size="8.22" text-anchor="middle" fill="#111" stroke="#111" stroke-width="0.12">CONCH</text>
<rect x="456.2" y="759.4" width="19" height="60.6" fill="#FDEEE3" stroke="#2a2a2a" stroke-width="0.9"/>
<line x1="465.7" y1="746.8" x2="465.7" y2="772.2" stroke="#1a1a1a" stroke-width="1"/>
<line x1="463.4" y1="746.8" x2="468" y2="746.8" stroke="#1a1a1a" stroke-width="1"/>
<line x1="463.4" y1="772.2" x2="468" y2="772.2" stroke="#1a1a1a" stroke-width="1"/>
<rect x="464.25" y="741.05" width="2.9" height="2.9" fill="#c4c4c4" transform="rotate(45 465.7 742.5)"/>
<rect x="464.25" y="750.55" width="2.9" height="2.9" fill="#c4c4c4" transform="rotate(45 465.7 752)"/>
<rect x="464.25" y="782.55" width="2.9" height="2.9" fill="#c4c4c4" transform="rotate(45 465.7 784)"/>
<text transform="translate(468.58 820.2) rotate(-90) scale(0.9615 1)" font-size="8.32" text-anchor="start" fill="#111" stroke="#111" stroke-width="0.12">0.894</text>
<rect x="479.7" y="769.2" width="19" height="50.8" fill="#FED9B7" stroke="#2a2a2a" stroke-width="0.9"/>
<line x1="489.2" y1="759.4" x2="489.2" y2="778.7" stroke="#1a1a1a" stroke-width="1"/>
<line x1="486.9" y1="759.4" x2="491.5" y2="759.4" stroke="#1a1a1a" stroke-width="1"/>
<line x1="486.9" y1="778.7" x2="491.5" y2="778.7" stroke="#1a1a1a" stroke-width="1"/>
<rect x="487.75" y="748.95" width="2.9" height="2.9" fill="#c4c4c4" transform="rotate(45 489.2 750.4)"/>
<rect x="487.75" y="773.75" width="2.9" height="2.9" fill="#c4c4c4" transform="rotate(45 489.2 775.2)"/>
<rect x="487.75" y="780.55" width="2.9" height="2.9" fill="#c4c4c4" transform="rotate(45 489.2 782)"/>
<text transform="translate(492.08 820.2) rotate(-90) scale(0.9615 1)" font-size="8.32" text-anchor="start" fill="#111" stroke="#111" stroke-width="0.12">0.848</text>
<text transform="translate(477.4 829) scale(0.9615 1)" font-size="8.22" text-anchor="middle" fill="#111" stroke="#111" stroke-width="0.12">UNI</text>
<rect x="514.74" y="756.8" width="19" height="63.2" fill="#FADFE3" stroke="#2a2a2a" stroke-width="0.9"/>
<line x1="524.24" y1="745" x2="524.24" y2="768.3" stroke="#1a1a1a" stroke-width="1"/>
<line x1="521.94" y1="745" x2="526.54" y2="745" stroke="#1a1a1a" stroke-width="1"/>
<line x1="521.94" y1="768.3" x2="526.54" y2="768.3" stroke="#1a1a1a" stroke-width="1"/>
<rect x="518.29" y="746.05" width="2.9" height="2.9" fill="#c4c4c4" transform="rotate(45 519.74 747.5)"/>
<rect x="527.29" y="740.85" width="2.9" height="2.9" fill="#c4c4c4" transform="rotate(45 528.74 742.3)"/>
<rect x="522.79" y="779.05" width="2.9" height="2.9" fill="#c4c4c4" transform="rotate(45 524.24 780.5)"/>
<text transform="translate(527.12 820.2) rotate(-90) scale(0.9615 1)" font-size="8.32" text-anchor="start" fill="#111" stroke="#111" stroke-width="0.12">0.907</text>
<rect x="538.24" y="772.2" width="19" height="47.8" fill="#F4ACB7" stroke="#2a2a2a" stroke-width="0.9"/>
<line x1="547.74" y1="763.4" x2="547.74" y2="780.6" stroke="#1a1a1a" stroke-width="1"/>
<line x1="545.44" y1="763.4" x2="550.04" y2="763.4" stroke="#1a1a1a" stroke-width="1"/>
<line x1="545.44" y1="780.6" x2="550.04" y2="780.6" stroke="#1a1a1a" stroke-width="1"/>
<rect x="546.29" y="753.95" width="2.9" height="2.9" fill="#c4c4c4" transform="rotate(45 547.74 755.4)"/>
<rect x="542.19" y="779.15" width="2.9" height="2.9" fill="#c4c4c4" transform="rotate(45 543.64 780.6)"/>
<rect x="550.69" y="779.15" width="2.9" height="2.9" fill="#c4c4c4" transform="rotate(45 552.14 780.6)"/>
<text transform="translate(550.62 820.2) rotate(-90) scale(0.9615 1)" font-size="8.32" text-anchor="start" fill="#111" stroke="#111" stroke-width="0.12">0.832</text>
<text transform="translate(535.94 829) scale(0.9615 1)" font-size="8.22" text-anchor="middle" fill="#111" stroke="#111" stroke-width="0.12">CHIEF</text>
<rect x="573.29" y="764.3" width="19" height="55.7" fill="#DDD3D5" stroke="#2a2a2a" stroke-width="0.9"/>
<line x1="582.79" y1="748.5" x2="582.79" y2="779.7" stroke="#1a1a1a" stroke-width="1"/>
<line x1="580.49" y1="748.5" x2="585.09" y2="748.5" stroke="#1a1a1a" stroke-width="1"/>
<line x1="580.49" y1="779.7" x2="585.09" y2="779.7" stroke="#1a1a1a" stroke-width="1"/>
<rect x="581.34" y="739.75" width="2.9" height="2.9" fill="#c4c4c4" transform="rotate(45 582.79 741.2)"/>
<rect x="581.34" y="755.85" width="2.9" height="2.9" fill="#c4c4c4" transform="rotate(45 582.79 757.3)"/>
<rect x="581.34" y="792.55" width="2.9" height="2.9" fill="#c4c4c4" transform="rotate(45 582.79 794)"/>
<text transform="translate(585.67 820.2) rotate(-90) scale(0.9615 1)" font-size="8.32" text-anchor="start" fill="#111" stroke="#111" stroke-width="0.12">0.872</text>
<rect x="596.79" y="780.4" width="19" height="39.6" fill="#9D8189" stroke="#2a2a2a" stroke-width="0.9"/>
<line x1="606.29" y1="765.2" x2="606.29" y2="796.2" stroke="#1a1a1a" stroke-width="1"/>
<line x1="603.99" y1="765.2" x2="608.59" y2="765.2" stroke="#1a1a1a" stroke-width="1"/>
<line x1="603.99" y1="796.2" x2="608.59" y2="796.2" stroke="#1a1a1a" stroke-width="1"/>
<rect x="604.84" y="748.15" width="2.9" height="2.9" fill="#c4c4c4" transform="rotate(45 606.29 749.6)"/>
<rect x="600.24" y="798.05" width="2.9" height="2.9" fill="#c4c4c4" transform="rotate(45 601.69 799.5)"/>
<rect x="609.54" y="790.75" width="2.9" height="2.9" fill="#c4c4c4" transform="rotate(45 610.99 792.2)"/>
<text transform="translate(609.17 820.2) rotate(-90) scale(0.9615 1)" font-size="8.32" text-anchor="start" fill="#111" stroke="#111" stroke-width="0.12">0.792</text>
<text transform="translate(594.49 829) scale(0.9615 1)" font-size="8.22" text-anchor="middle" fill="#111" stroke="#111" stroke-width="0.12">GigaPath</text>
<rect x="631.83" y="753.3" width="19" height="66.7" fill="#F8D0CC" stroke="#2a2a2a" stroke-width="0.9"/>
<line x1="641.33" y1="741.2" x2="641.33" y2="765.5" stroke="#1a1a1a" stroke-width="1"/>
<line x1="639.03" y1="741.2" x2="643.63" y2="741.2" stroke="#1a1a1a" stroke-width="1"/>
<line x1="639.03" y1="765.5" x2="643.63" y2="765.5" stroke="#1a1a1a" stroke-width="1"/>
<rect x="635.28" y="739.75" width="2.9" height="2.9" fill="#c4c4c4" transform="rotate(45 636.73 741.2)"/>
<rect x="644.28" y="739.75" width="2.9" height="2.9" fill="#c4c4c4" transform="rotate(45 645.73 741.2)"/>
<rect x="639.88" y="776.25" width="2.9" height="2.9" fill="#c4c4c4" transform="rotate(45 641.33 777.7)"/>
<text transform="translate(644.21 820.2) rotate(-90) scale(0.9615 1)" font-size="8.32" text-anchor="start" fill="#111" stroke="#111" stroke-width="0.12">0.925</text>
<rect x="655.33" y="766.6" width="19" height="53.4" fill="#F07167" stroke="#2a2a2a" stroke-width="0.9"/>
<line x1="664.83" y1="756.4" x2="664.83" y2="776.9" stroke="#1a1a1a" stroke-width="1"/>
<line x1="662.53" y1="756.4" x2="667.13" y2="756.4" stroke="#1a1a1a" stroke-width="1"/>
<line x1="662.53" y1="776.9" x2="667.13" y2="776.9" stroke="#1a1a1a" stroke-width="1"/>
<rect x="663.38" y="745.55" width="2.9" height="2.9" fill="#c4c4c4" transform="rotate(45 664.83 747)"/>
<rect x="663.38" y="772.15" width="2.9" height="2.9" fill="#c4c4c4" transform="rotate(45 664.83 773.6)"/>
<rect x="663.38" y="778.55" width="2.9" height="2.9" fill="#c4c4c4" transform="rotate(45 664.83 780)"/>
<text transform="translate(667.71 820.2) rotate(-90) scale(0.9615 1)" font-size="8.32" text-anchor="start" fill="#111" stroke="#111" stroke-width="0.12">0.859</text>
<text transform="translate(653.03 829) scale(0.9615 1)" font-size="8.22" text-anchor="middle" fill="#111" stroke="#111" stroke-width="0.12">mSTAR (Ours)</text>
<text transform="translate(478 838.5) scale(0.9615 1)" font-size="10.82" text-anchor="middle" fill="#111" stroke="#111" stroke-width="0.12">Molecular Prediction (Internal &amp; External)</text>
<polyline points="461.4,707.1 461.4,701.4 637.5,701.4 637.5,707.1" fill="none" stroke="#888" stroke-width="0.9"/>
<text transform="translate(549.45 703.15) scale(0.9615 1)" font-size="11.65" text-anchor="middle" fill="#111" stroke="#111" stroke-width="0.12">***</text>
<polyline points="493,715.1 493,711.5 664.9,711.5 664.9,715.1" fill="none" stroke="#888" stroke-width="0.9"/>
<text transform="translate(578.95 712.75) scale(0.9615 1)" font-size="11.65" text-anchor="middle" fill="#111" stroke="#111" stroke-width="0.12">***</text>
</svg></body></html>
